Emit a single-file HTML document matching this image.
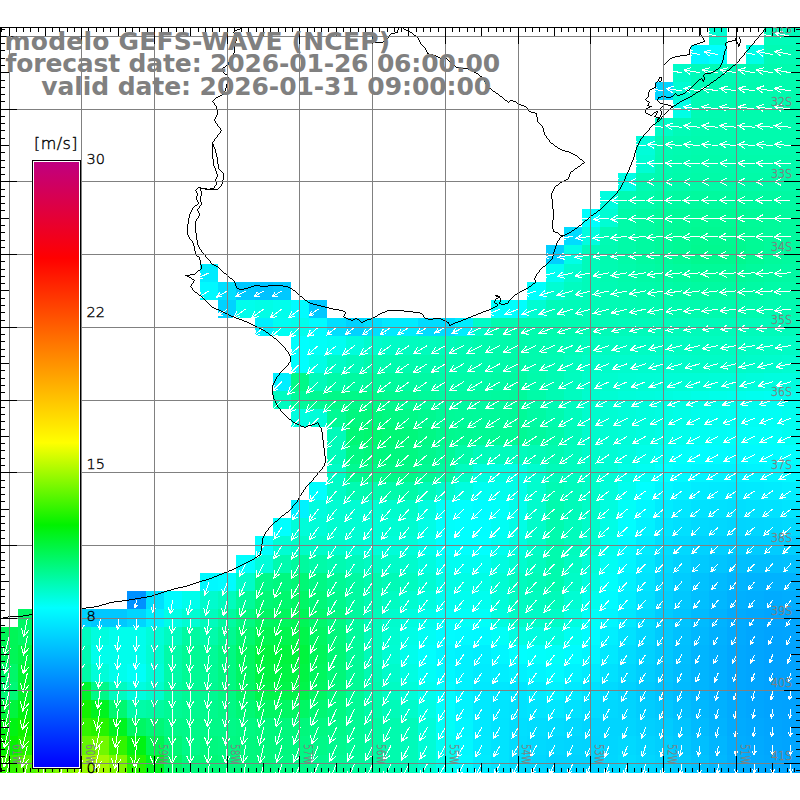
<!DOCTYPE html>
<html><head><meta charset="utf-8"><title>GEFS-WAVE wind</title>
<style>html,body{margin:0;padding:0;background:#fff;}body{width:800px;height:800px;overflow:hidden;position:relative;}</style>
</head><body>
<svg width="800" height="800" viewBox="0 0 800 800" style="position:absolute;left:0;top:0">
<rect width="800" height="800" fill="#fff"/>
<defs><clipPath id="pc"><rect x="0" y="27" width="800" height="745"/></clipPath></defs>
<g shape-rendering="crispEdges">
<rect x="709" y="27" width="18" height="18" fill="rgb(0,253,211)"/>
<rect x="764" y="27" width="18" height="18" fill="rgb(0,251,186)"/>
<rect x="782" y="27" width="18" height="18" fill="rgb(0,251,186)"/>
<rect x="691" y="45" width="18" height="19" fill="rgb(0,246,255)"/>
<rect x="709" y="45" width="18" height="19" fill="rgb(0,255,254)"/>
<rect x="746" y="45" width="18" height="19" fill="rgb(0,254,230)"/>
<rect x="764" y="45" width="18" height="19" fill="rgb(0,251,180)"/>
<rect x="782" y="45" width="18" height="19" fill="rgb(0,251,180)"/>
<rect x="673" y="64" width="18" height="18" fill="rgb(0,252,199)"/>
<rect x="691" y="64" width="18" height="18" fill="rgb(0,251,186)"/>
<rect x="709" y="64" width="18" height="18" fill="rgb(0,251,183)"/>
<rect x="727" y="64" width="19" height="18" fill="rgb(0,251,180)"/>
<rect x="746" y="64" width="18" height="18" fill="rgb(0,251,177)"/>
<rect x="764" y="64" width="18" height="18" fill="rgb(0,251,174)"/>
<rect x="782" y="64" width="18" height="18" fill="rgb(0,251,174)"/>
<rect x="655" y="82" width="18" height="18" fill="rgb(0,213,255)"/>
<rect x="673" y="82" width="18" height="18" fill="rgb(0,253,211)"/>
<rect x="691" y="82" width="18" height="18" fill="rgb(0,251,183)"/>
<rect x="709" y="82" width="18" height="18" fill="rgb(0,251,180)"/>
<rect x="727" y="82" width="19" height="18" fill="rgb(0,251,177)"/>
<rect x="746" y="82" width="18" height="18" fill="rgb(0,251,175)"/>
<rect x="764" y="82" width="18" height="18" fill="rgb(0,251,174)"/>
<rect x="782" y="82" width="18" height="18" fill="rgb(0,251,174)"/>
<rect x="673" y="100" width="18" height="18" fill="rgb(0,254,230)"/>
<rect x="691" y="100" width="18" height="18" fill="rgb(0,251,180)"/>
<rect x="709" y="100" width="18" height="18" fill="rgb(0,251,177)"/>
<rect x="727" y="100" width="19" height="18" fill="rgb(0,251,174)"/>
<rect x="746" y="100" width="18" height="18" fill="rgb(0,251,174)"/>
<rect x="764" y="100" width="18" height="18" fill="rgb(0,251,174)"/>
<rect x="782" y="100" width="18" height="18" fill="rgb(0,251,174)"/>
<rect x="655" y="118" width="18" height="18" fill="rgb(0,252,199)"/>
<rect x="673" y="118" width="18" height="18" fill="rgb(0,251,183)"/>
<rect x="691" y="118" width="18" height="18" fill="rgb(0,251,177)"/>
<rect x="709" y="118" width="18" height="18" fill="rgb(0,251,175)"/>
<rect x="727" y="118" width="19" height="18" fill="rgb(0,251,174)"/>
<rect x="746" y="118" width="18" height="18" fill="rgb(0,251,174)"/>
<rect x="764" y="118" width="18" height="18" fill="rgb(0,251,174)"/>
<rect x="782" y="118" width="18" height="18" fill="rgb(0,251,174)"/>
<rect x="636" y="136" width="19" height="19" fill="rgb(0,253,217)"/>
<rect x="655" y="136" width="18" height="19" fill="rgb(0,251,180)"/>
<rect x="673" y="136" width="18" height="19" fill="rgb(0,251,177)"/>
<rect x="691" y="136" width="18" height="19" fill="rgb(0,251,174)"/>
<rect x="709" y="136" width="18" height="19" fill="rgb(0,251,174)"/>
<rect x="727" y="136" width="19" height="19" fill="rgb(0,251,174)"/>
<rect x="746" y="136" width="18" height="19" fill="rgb(0,251,174)"/>
<rect x="764" y="136" width="18" height="19" fill="rgb(0,251,174)"/>
<rect x="782" y="136" width="18" height="19" fill="rgb(0,251,174)"/>
<rect x="636" y="155" width="19" height="18" fill="rgb(0,253,211)"/>
<rect x="655" y="155" width="18" height="18" fill="rgb(0,251,177)"/>
<rect x="673" y="155" width="18" height="18" fill="rgb(0,251,174)"/>
<rect x="691" y="155" width="18" height="18" fill="rgb(0,251,171)"/>
<rect x="709" y="155" width="18" height="18" fill="rgb(0,251,171)"/>
<rect x="727" y="155" width="19" height="18" fill="rgb(0,251,171)"/>
<rect x="746" y="155" width="18" height="18" fill="rgb(0,251,171)"/>
<rect x="764" y="155" width="18" height="18" fill="rgb(0,251,171)"/>
<rect x="782" y="155" width="18" height="18" fill="rgb(0,251,171)"/>
<rect x="618" y="173" width="18" height="18" fill="rgb(0,254,230)"/>
<rect x="636" y="173" width="19" height="18" fill="rgb(0,251,180)"/>
<rect x="655" y="173" width="18" height="18" fill="rgb(0,251,174)"/>
<rect x="673" y="173" width="18" height="18" fill="rgb(0,251,171)"/>
<rect x="691" y="173" width="18" height="18" fill="rgb(0,251,168)"/>
<rect x="709" y="173" width="18" height="18" fill="rgb(0,251,168)"/>
<rect x="727" y="173" width="19" height="18" fill="rgb(0,251,168)"/>
<rect x="746" y="173" width="18" height="18" fill="rgb(0,251,168)"/>
<rect x="764" y="173" width="18" height="18" fill="rgb(0,251,168)"/>
<rect x="782" y="173" width="18" height="18" fill="rgb(0,251,168)"/>
<rect x="600" y="191" width="18" height="18" fill="rgb(0,253,223)"/>
<rect x="618" y="191" width="18" height="18" fill="rgb(0,251,177)"/>
<rect x="636" y="191" width="19" height="18" fill="rgb(0,251,171)"/>
<rect x="655" y="191" width="18" height="18" fill="rgb(0,250,164)"/>
<rect x="673" y="191" width="18" height="18" fill="rgb(0,250,161)"/>
<rect x="691" y="191" width="18" height="18" fill="rgb(0,250,158)"/>
<rect x="709" y="191" width="18" height="18" fill="rgb(0,250,158)"/>
<rect x="727" y="191" width="19" height="18" fill="rgb(0,250,158)"/>
<rect x="746" y="191" width="18" height="18" fill="rgb(0,250,160)"/>
<rect x="764" y="191" width="18" height="18" fill="rgb(0,250,161)"/>
<rect x="782" y="191" width="18" height="18" fill="rgb(0,250,163)"/>
<rect x="582" y="209" width="18" height="18" fill="rgb(0,255,254)"/>
<rect x="600" y="209" width="18" height="18" fill="rgb(0,253,211)"/>
<rect x="618" y="209" width="18" height="18" fill="rgb(0,251,168)"/>
<rect x="636" y="209" width="19" height="18" fill="rgb(0,250,161)"/>
<rect x="655" y="209" width="18" height="18" fill="rgb(0,250,155)"/>
<rect x="673" y="209" width="18" height="18" fill="rgb(0,250,152)"/>
<rect x="691" y="209" width="18" height="18" fill="rgb(0,250,149)"/>
<rect x="709" y="209" width="18" height="18" fill="rgb(0,250,149)"/>
<rect x="727" y="209" width="19" height="18" fill="rgb(0,250,149)"/>
<rect x="746" y="209" width="18" height="18" fill="rgb(0,250,152)"/>
<rect x="764" y="209" width="18" height="18" fill="rgb(0,250,155)"/>
<rect x="782" y="209" width="18" height="18" fill="rgb(0,250,158)"/>
<rect x="564" y="227" width="18" height="18" fill="rgb(0,220,255)"/>
<rect x="582" y="227" width="18" height="18" fill="rgb(0,253,223)"/>
<rect x="600" y="227" width="18" height="18" fill="rgb(0,251,180)"/>
<rect x="618" y="227" width="18" height="18" fill="rgb(0,251,168)"/>
<rect x="636" y="227" width="19" height="18" fill="rgb(0,250,161)"/>
<rect x="655" y="227" width="18" height="18" fill="rgb(0,250,155)"/>
<rect x="673" y="227" width="18" height="18" fill="rgb(0,250,150)"/>
<rect x="691" y="227" width="18" height="18" fill="rgb(0,249,146)"/>
<rect x="709" y="227" width="18" height="18" fill="rgb(0,249,146)"/>
<rect x="727" y="227" width="19" height="18" fill="rgb(0,249,146)"/>
<rect x="746" y="227" width="18" height="18" fill="rgb(0,250,150)"/>
<rect x="764" y="227" width="18" height="18" fill="rgb(0,250,155)"/>
<rect x="782" y="227" width="18" height="18" fill="rgb(0,250,158)"/>
<rect x="546" y="245" width="18" height="19" fill="rgb(0,207,255)"/>
<rect x="564" y="245" width="18" height="19" fill="rgb(0,254,230)"/>
<rect x="582" y="245" width="18" height="19" fill="rgb(0,251,186)"/>
<rect x="600" y="245" width="18" height="19" fill="rgb(0,251,177)"/>
<rect x="618" y="245" width="18" height="19" fill="rgb(0,251,168)"/>
<rect x="636" y="245" width="19" height="19" fill="rgb(0,250,161)"/>
<rect x="655" y="245" width="18" height="19" fill="rgb(0,250,155)"/>
<rect x="673" y="245" width="18" height="19" fill="rgb(0,250,149)"/>
<rect x="691" y="245" width="18" height="19" fill="rgb(0,249,143)"/>
<rect x="709" y="245" width="18" height="19" fill="rgb(0,249,143)"/>
<rect x="727" y="245" width="19" height="19" fill="rgb(0,249,143)"/>
<rect x="746" y="245" width="18" height="19" fill="rgb(0,250,149)"/>
<rect x="764" y="245" width="18" height="19" fill="rgb(0,250,155)"/>
<rect x="782" y="245" width="18" height="19" fill="rgb(0,250,158)"/>
<rect x="200" y="264" width="18" height="18" fill="rgb(0,236,255)"/>
<rect x="546" y="264" width="18" height="18" fill="rgb(0,254,242)"/>
<rect x="564" y="264" width="18" height="18" fill="rgb(0,252,205)"/>
<rect x="582" y="264" width="18" height="18" fill="rgb(0,251,186)"/>
<rect x="600" y="264" width="18" height="18" fill="rgb(0,251,178)"/>
<rect x="618" y="264" width="18" height="18" fill="rgb(0,251,171)"/>
<rect x="636" y="264" width="19" height="18" fill="rgb(0,250,166)"/>
<rect x="655" y="264" width="18" height="18" fill="rgb(0,250,161)"/>
<rect x="673" y="264" width="18" height="18" fill="rgb(0,250,157)"/>
<rect x="691" y="264" width="18" height="18" fill="rgb(0,250,152)"/>
<rect x="709" y="264" width="18" height="18" fill="rgb(0,250,152)"/>
<rect x="727" y="264" width="19" height="18" fill="rgb(0,250,152)"/>
<rect x="746" y="264" width="18" height="18" fill="rgb(0,250,157)"/>
<rect x="764" y="264" width="18" height="18" fill="rgb(0,250,161)"/>
<rect x="782" y="264" width="18" height="18" fill="rgb(0,250,163)"/>
<rect x="200" y="282" width="18" height="18" fill="rgb(0,249,255)"/>
<rect x="218" y="282" width="18" height="18" fill="rgb(0,223,255)"/>
<rect x="236" y="282" width="19" height="18" fill="rgb(0,200,255)"/>
<rect x="255" y="282" width="18" height="18" fill="rgb(0,194,255)"/>
<rect x="273" y="282" width="18" height="18" fill="rgb(0,200,255)"/>
<rect x="527" y="282" width="19" height="18" fill="rgb(0,255,254)"/>
<rect x="546" y="282" width="18" height="18" fill="rgb(0,253,211)"/>
<rect x="564" y="282" width="18" height="18" fill="rgb(0,252,192)"/>
<rect x="582" y="282" width="18" height="18" fill="rgb(0,251,186)"/>
<rect x="600" y="282" width="18" height="18" fill="rgb(0,251,180)"/>
<rect x="618" y="282" width="18" height="18" fill="rgb(0,251,174)"/>
<rect x="636" y="282" width="19" height="18" fill="rgb(0,251,171)"/>
<rect x="655" y="282" width="18" height="18" fill="rgb(0,251,168)"/>
<rect x="673" y="282" width="18" height="18" fill="rgb(0,250,164)"/>
<rect x="691" y="282" width="18" height="18" fill="rgb(0,250,161)"/>
<rect x="709" y="282" width="18" height="18" fill="rgb(0,250,161)"/>
<rect x="727" y="282" width="19" height="18" fill="rgb(0,250,161)"/>
<rect x="746" y="282" width="18" height="18" fill="rgb(0,250,164)"/>
<rect x="764" y="282" width="18" height="18" fill="rgb(0,251,168)"/>
<rect x="782" y="282" width="18" height="18" fill="rgb(0,251,168)"/>
<rect x="218" y="300" width="18" height="18" fill="rgb(0,210,255)"/>
<rect x="236" y="300" width="19" height="18" fill="rgb(0,254,236)"/>
<rect x="255" y="300" width="18" height="18" fill="rgb(0,254,230)"/>
<rect x="273" y="300" width="18" height="18" fill="rgb(0,254,236)"/>
<rect x="291" y="300" width="18" height="18" fill="rgb(0,252,255)"/>
<rect x="309" y="300" width="18" height="18" fill="rgb(0,200,255)"/>
<rect x="491" y="300" width="18" height="18" fill="rgb(0,255,254)"/>
<rect x="509" y="300" width="18" height="18" fill="rgb(0,255,254)"/>
<rect x="527" y="300" width="19" height="18" fill="rgb(0,253,211)"/>
<rect x="546" y="300" width="18" height="18" fill="rgb(0,251,186)"/>
<rect x="564" y="300" width="18" height="18" fill="rgb(0,251,185)"/>
<rect x="582" y="300" width="18" height="18" fill="rgb(0,251,183)"/>
<rect x="600" y="300" width="18" height="18" fill="rgb(0,251,181)"/>
<rect x="618" y="300" width="18" height="18" fill="rgb(0,251,180)"/>
<rect x="636" y="300" width="19" height="18" fill="rgb(0,251,178)"/>
<rect x="655" y="300" width="18" height="18" fill="rgb(0,251,177)"/>
<rect x="673" y="300" width="18" height="18" fill="rgb(0,251,175)"/>
<rect x="691" y="300" width="18" height="18" fill="rgb(0,251,174)"/>
<rect x="709" y="300" width="18" height="18" fill="rgb(0,251,174)"/>
<rect x="727" y="300" width="19" height="18" fill="rgb(0,251,174)"/>
<rect x="746" y="300" width="18" height="18" fill="rgb(0,251,175)"/>
<rect x="764" y="300" width="18" height="18" fill="rgb(0,251,177)"/>
<rect x="782" y="300" width="18" height="18" fill="rgb(0,251,177)"/>
<rect x="255" y="318" width="18" height="18" fill="rgb(0,239,255)"/>
<rect x="273" y="318" width="18" height="18" fill="rgb(0,254,242)"/>
<rect x="291" y="318" width="18" height="18" fill="rgb(0,254,236)"/>
<rect x="309" y="318" width="18" height="18" fill="rgb(0,252,255)"/>
<rect x="327" y="318" width="19" height="18" fill="rgb(0,223,255)"/>
<rect x="346" y="318" width="18" height="18" fill="rgb(0,210,255)"/>
<rect x="364" y="318" width="18" height="18" fill="rgb(0,223,255)"/>
<rect x="382" y="318" width="18" height="18" fill="rgb(0,233,255)"/>
<rect x="400" y="318" width="18" height="18" fill="rgb(0,236,255)"/>
<rect x="418" y="318" width="18" height="18" fill="rgb(0,220,255)"/>
<rect x="436" y="318" width="19" height="18" fill="rgb(0,220,255)"/>
<rect x="455" y="318" width="18" height="18" fill="rgb(0,236,255)"/>
<rect x="473" y="318" width="18" height="18" fill="rgb(0,252,199)"/>
<rect x="491" y="318" width="18" height="18" fill="rgb(0,251,174)"/>
<rect x="509" y="318" width="18" height="18" fill="rgb(0,251,174)"/>
<rect x="527" y="318" width="19" height="18" fill="rgb(0,251,174)"/>
<rect x="546" y="318" width="18" height="18" fill="rgb(0,251,174)"/>
<rect x="564" y="318" width="18" height="18" fill="rgb(0,251,177)"/>
<rect x="582" y="318" width="18" height="18" fill="rgb(0,251,180)"/>
<rect x="600" y="318" width="18" height="18" fill="rgb(0,251,183)"/>
<rect x="618" y="318" width="18" height="18" fill="rgb(0,251,186)"/>
<rect x="636" y="318" width="19" height="18" fill="rgb(0,251,186)"/>
<rect x="655" y="318" width="18" height="18" fill="rgb(0,251,186)"/>
<rect x="673" y="318" width="18" height="18" fill="rgb(0,251,186)"/>
<rect x="691" y="318" width="18" height="18" fill="rgb(0,251,186)"/>
<rect x="709" y="318" width="18" height="18" fill="rgb(0,251,186)"/>
<rect x="727" y="318" width="19" height="18" fill="rgb(0,251,186)"/>
<rect x="746" y="318" width="18" height="18" fill="rgb(0,251,186)"/>
<rect x="764" y="318" width="18" height="18" fill="rgb(0,251,186)"/>
<rect x="782" y="318" width="18" height="18" fill="rgb(0,251,186)"/>
<rect x="291" y="336" width="18" height="19" fill="rgb(0,255,254)"/>
<rect x="309" y="336" width="18" height="19" fill="rgb(0,255,248)"/>
<rect x="327" y="336" width="19" height="19" fill="rgb(0,254,242)"/>
<rect x="346" y="336" width="18" height="19" fill="rgb(0,253,220)"/>
<rect x="364" y="336" width="18" height="19" fill="rgb(0,252,205)"/>
<rect x="382" y="336" width="18" height="19" fill="rgb(0,252,199)"/>
<rect x="400" y="336" width="18" height="19" fill="rgb(0,252,192)"/>
<rect x="418" y="336" width="18" height="19" fill="rgb(0,252,189)"/>
<rect x="436" y="336" width="19" height="19" fill="rgb(0,251,186)"/>
<rect x="455" y="336" width="18" height="19" fill="rgb(0,251,180)"/>
<rect x="473" y="336" width="18" height="19" fill="rgb(0,251,174)"/>
<rect x="491" y="336" width="18" height="19" fill="rgb(0,251,172)"/>
<rect x="509" y="336" width="18" height="19" fill="rgb(0,251,171)"/>
<rect x="527" y="336" width="19" height="19" fill="rgb(0,251,174)"/>
<rect x="546" y="336" width="18" height="19" fill="rgb(0,251,177)"/>
<rect x="564" y="336" width="18" height="19" fill="rgb(0,251,183)"/>
<rect x="582" y="336" width="18" height="19" fill="rgb(0,252,189)"/>
<rect x="600" y="336" width="18" height="19" fill="rgb(0,252,192)"/>
<rect x="618" y="336" width="18" height="19" fill="rgb(0,252,195)"/>
<rect x="636" y="336" width="19" height="19" fill="rgb(0,252,195)"/>
<rect x="655" y="336" width="18" height="19" fill="rgb(0,252,195)"/>
<rect x="673" y="336" width="18" height="19" fill="rgb(0,252,194)"/>
<rect x="691" y="336" width="18" height="19" fill="rgb(0,252,192)"/>
<rect x="709" y="336" width="18" height="19" fill="rgb(0,252,192)"/>
<rect x="727" y="336" width="19" height="19" fill="rgb(0,252,192)"/>
<rect x="746" y="336" width="18" height="19" fill="rgb(0,252,194)"/>
<rect x="764" y="336" width="18" height="19" fill="rgb(0,252,195)"/>
<rect x="782" y="336" width="18" height="19" fill="rgb(0,252,197)"/>
<rect x="291" y="355" width="18" height="18" fill="rgb(0,255,254)"/>
<rect x="309" y="355" width="18" height="18" fill="rgb(0,254,230)"/>
<rect x="327" y="355" width="19" height="18" fill="rgb(0,252,199)"/>
<rect x="346" y="355" width="18" height="18" fill="rgb(0,251,186)"/>
<rect x="364" y="355" width="18" height="18" fill="rgb(0,251,174)"/>
<rect x="382" y="355" width="18" height="18" fill="rgb(0,251,174)"/>
<rect x="400" y="355" width="18" height="18" fill="rgb(0,251,174)"/>
<rect x="418" y="355" width="18" height="18" fill="rgb(0,251,174)"/>
<rect x="436" y="355" width="19" height="18" fill="rgb(0,251,174)"/>
<rect x="455" y="355" width="18" height="18" fill="rgb(0,251,174)"/>
<rect x="473" y="355" width="18" height="18" fill="rgb(0,251,174)"/>
<rect x="491" y="355" width="18" height="18" fill="rgb(0,251,171)"/>
<rect x="509" y="355" width="18" height="18" fill="rgb(0,251,168)"/>
<rect x="527" y="355" width="19" height="18" fill="rgb(0,251,174)"/>
<rect x="546" y="355" width="18" height="18" fill="rgb(0,251,180)"/>
<rect x="564" y="355" width="18" height="18" fill="rgb(0,252,189)"/>
<rect x="582" y="355" width="18" height="18" fill="rgb(0,252,199)"/>
<rect x="600" y="355" width="18" height="18" fill="rgb(0,252,202)"/>
<rect x="618" y="355" width="18" height="18" fill="rgb(0,252,205)"/>
<rect x="636" y="355" width="19" height="18" fill="rgb(0,252,205)"/>
<rect x="655" y="355" width="18" height="18" fill="rgb(0,252,205)"/>
<rect x="673" y="355" width="18" height="18" fill="rgb(0,252,202)"/>
<rect x="691" y="355" width="18" height="18" fill="rgb(0,252,199)"/>
<rect x="709" y="355" width="18" height="18" fill="rgb(0,252,199)"/>
<rect x="727" y="355" width="19" height="18" fill="rgb(0,252,199)"/>
<rect x="746" y="355" width="18" height="18" fill="rgb(0,252,202)"/>
<rect x="764" y="355" width="18" height="18" fill="rgb(0,252,205)"/>
<rect x="782" y="355" width="18" height="18" fill="rgb(0,253,208)"/>
<rect x="273" y="373" width="18" height="18" fill="rgb(0,239,255)"/>
<rect x="291" y="373" width="18" height="18" fill="rgb(0,249,136)"/>
<rect x="309" y="373" width="18" height="18" fill="rgb(0,251,186)"/>
<rect x="327" y="373" width="19" height="18" fill="rgb(0,251,168)"/>
<rect x="346" y="373" width="18" height="18" fill="rgb(0,250,161)"/>
<rect x="364" y="373" width="18" height="18" fill="rgb(0,250,155)"/>
<rect x="382" y="373" width="18" height="18" fill="rgb(0,250,158)"/>
<rect x="400" y="373" width="18" height="18" fill="rgb(0,250,161)"/>
<rect x="418" y="373" width="18" height="18" fill="rgb(0,250,164)"/>
<rect x="436" y="373" width="19" height="18" fill="rgb(0,251,168)"/>
<rect x="455" y="373" width="18" height="18" fill="rgb(0,251,168)"/>
<rect x="473" y="373" width="18" height="18" fill="rgb(0,251,168)"/>
<rect x="491" y="373" width="18" height="18" fill="rgb(0,250,164)"/>
<rect x="509" y="373" width="18" height="18" fill="rgb(0,250,161)"/>
<rect x="527" y="373" width="19" height="18" fill="rgb(0,251,171)"/>
<rect x="546" y="373" width="18" height="18" fill="rgb(0,251,180)"/>
<rect x="564" y="373" width="18" height="18" fill="rgb(0,252,191)"/>
<rect x="582" y="373" width="18" height="18" fill="rgb(0,252,202)"/>
<rect x="600" y="373" width="18" height="18" fill="rgb(0,253,206)"/>
<rect x="618" y="373" width="18" height="18" fill="rgb(0,253,211)"/>
<rect x="636" y="373" width="19" height="18" fill="rgb(0,253,213)"/>
<rect x="655" y="373" width="18" height="18" fill="rgb(0,253,214)"/>
<rect x="673" y="373" width="18" height="18" fill="rgb(0,253,214)"/>
<rect x="691" y="373" width="18" height="18" fill="rgb(0,253,214)"/>
<rect x="709" y="373" width="18" height="18" fill="rgb(0,253,216)"/>
<rect x="727" y="373" width="19" height="18" fill="rgb(0,253,217)"/>
<rect x="746" y="373" width="18" height="18" fill="rgb(0,253,220)"/>
<rect x="764" y="373" width="18" height="18" fill="rgb(0,253,223)"/>
<rect x="782" y="373" width="18" height="18" fill="rgb(0,253,223)"/>
<rect x="273" y="391" width="18" height="18" fill="rgb(0,252,192)"/>
<rect x="291" y="391" width="18" height="18" fill="rgb(0,250,155)"/>
<rect x="309" y="391" width="18" height="18" fill="rgb(0,249,146)"/>
<rect x="327" y="391" width="19" height="18" fill="rgb(0,249,136)"/>
<rect x="346" y="391" width="18" height="18" fill="rgb(0,249,136)"/>
<rect x="364" y="391" width="18" height="18" fill="rgb(0,249,136)"/>
<rect x="382" y="391" width="18" height="18" fill="rgb(0,249,143)"/>
<rect x="400" y="391" width="18" height="18" fill="rgb(0,250,149)"/>
<rect x="418" y="391" width="18" height="18" fill="rgb(0,250,155)"/>
<rect x="436" y="391" width="19" height="18" fill="rgb(0,250,161)"/>
<rect x="455" y="391" width="18" height="18" fill="rgb(0,250,161)"/>
<rect x="473" y="391" width="18" height="18" fill="rgb(0,250,161)"/>
<rect x="491" y="391" width="18" height="18" fill="rgb(0,250,158)"/>
<rect x="509" y="391" width="18" height="18" fill="rgb(0,250,155)"/>
<rect x="527" y="391" width="19" height="18" fill="rgb(0,251,168)"/>
<rect x="546" y="391" width="18" height="18" fill="rgb(0,251,180)"/>
<rect x="564" y="391" width="18" height="18" fill="rgb(0,252,192)"/>
<rect x="582" y="391" width="18" height="18" fill="rgb(0,252,205)"/>
<rect x="600" y="391" width="18" height="18" fill="rgb(0,253,211)"/>
<rect x="618" y="391" width="18" height="18" fill="rgb(0,253,217)"/>
<rect x="636" y="391" width="19" height="18" fill="rgb(0,253,220)"/>
<rect x="655" y="391" width="18" height="18" fill="rgb(0,253,223)"/>
<rect x="673" y="391" width="18" height="18" fill="rgb(0,254,226)"/>
<rect x="691" y="391" width="18" height="18" fill="rgb(0,254,230)"/>
<rect x="709" y="391" width="18" height="18" fill="rgb(0,254,233)"/>
<rect x="727" y="391" width="19" height="18" fill="rgb(0,254,236)"/>
<rect x="746" y="391" width="18" height="18" fill="rgb(0,254,239)"/>
<rect x="764" y="391" width="18" height="18" fill="rgb(0,254,242)"/>
<rect x="782" y="391" width="18" height="18" fill="rgb(0,254,239)"/>
<rect x="291" y="409" width="18" height="18" fill="rgb(0,253,223)"/>
<rect x="309" y="409" width="18" height="18" fill="rgb(0,253,217)"/>
<rect x="327" y="409" width="19" height="18" fill="rgb(0,250,149)"/>
<rect x="346" y="409" width="18" height="18" fill="rgb(0,248,127)"/>
<rect x="364" y="409" width="18" height="18" fill="rgb(0,248,124)"/>
<rect x="382" y="409" width="18" height="18" fill="rgb(0,249,130)"/>
<rect x="400" y="409" width="18" height="18" fill="rgb(0,249,136)"/>
<rect x="418" y="409" width="18" height="18" fill="rgb(0,249,144)"/>
<rect x="436" y="409" width="19" height="18" fill="rgb(0,250,152)"/>
<rect x="455" y="409" width="18" height="18" fill="rgb(0,250,154)"/>
<rect x="473" y="409" width="18" height="18" fill="rgb(0,250,155)"/>
<rect x="491" y="409" width="18" height="18" fill="rgb(0,250,154)"/>
<rect x="509" y="409" width="18" height="18" fill="rgb(0,250,152)"/>
<rect x="527" y="409" width="19" height="18" fill="rgb(0,250,163)"/>
<rect x="546" y="409" width="18" height="18" fill="rgb(0,251,174)"/>
<rect x="564" y="409" width="18" height="18" fill="rgb(0,252,189)"/>
<rect x="582" y="409" width="18" height="18" fill="rgb(0,252,205)"/>
<rect x="600" y="409" width="18" height="18" fill="rgb(0,253,211)"/>
<rect x="618" y="409" width="18" height="18" fill="rgb(0,253,217)"/>
<rect x="636" y="409" width="19" height="18" fill="rgb(0,253,222)"/>
<rect x="655" y="409" width="18" height="18" fill="rgb(0,254,226)"/>
<rect x="673" y="409" width="18" height="18" fill="rgb(0,254,231)"/>
<rect x="691" y="409" width="18" height="18" fill="rgb(0,254,236)"/>
<rect x="709" y="409" width="18" height="18" fill="rgb(0,254,239)"/>
<rect x="727" y="409" width="19" height="18" fill="rgb(0,254,242)"/>
<rect x="746" y="409" width="18" height="18" fill="rgb(0,254,244)"/>
<rect x="764" y="409" width="18" height="18" fill="rgb(0,254,245)"/>
<rect x="782" y="409" width="18" height="18" fill="rgb(0,254,240)"/>
<rect x="327" y="427" width="19" height="18" fill="rgb(0,251,186)"/>
<rect x="346" y="427" width="18" height="18" fill="rgb(0,248,118)"/>
<rect x="364" y="427" width="18" height="18" fill="rgb(0,248,112)"/>
<rect x="382" y="427" width="18" height="18" fill="rgb(0,248,118)"/>
<rect x="400" y="427" width="18" height="18" fill="rgb(0,248,124)"/>
<rect x="418" y="427" width="18" height="18" fill="rgb(0,249,133)"/>
<rect x="436" y="427" width="19" height="18" fill="rgb(0,249,143)"/>
<rect x="455" y="427" width="18" height="18" fill="rgb(0,249,146)"/>
<rect x="473" y="427" width="18" height="18" fill="rgb(0,250,149)"/>
<rect x="491" y="427" width="18" height="18" fill="rgb(0,250,149)"/>
<rect x="509" y="427" width="18" height="18" fill="rgb(0,250,149)"/>
<rect x="527" y="427" width="19" height="18" fill="rgb(0,250,158)"/>
<rect x="546" y="427" width="18" height="18" fill="rgb(0,251,168)"/>
<rect x="564" y="427" width="18" height="18" fill="rgb(0,251,186)"/>
<rect x="582" y="427" width="18" height="18" fill="rgb(0,252,205)"/>
<rect x="600" y="427" width="18" height="18" fill="rgb(0,253,211)"/>
<rect x="618" y="427" width="18" height="18" fill="rgb(0,253,217)"/>
<rect x="636" y="427" width="19" height="18" fill="rgb(0,253,223)"/>
<rect x="655" y="427" width="18" height="18" fill="rgb(0,254,230)"/>
<rect x="673" y="427" width="18" height="18" fill="rgb(0,254,236)"/>
<rect x="691" y="427" width="18" height="18" fill="rgb(0,254,242)"/>
<rect x="709" y="427" width="18" height="18" fill="rgb(0,254,245)"/>
<rect x="727" y="427" width="19" height="18" fill="rgb(0,255,248)"/>
<rect x="746" y="427" width="18" height="18" fill="rgb(0,255,248)"/>
<rect x="764" y="427" width="18" height="18" fill="rgb(0,255,248)"/>
<rect x="782" y="427" width="18" height="18" fill="rgb(0,254,242)"/>
<rect x="327" y="445" width="19" height="19" fill="rgb(0,251,186)"/>
<rect x="346" y="445" width="18" height="19" fill="rgb(0,249,132)"/>
<rect x="364" y="445" width="18" height="19" fill="rgb(0,248,124)"/>
<rect x="382" y="445" width="18" height="19" fill="rgb(0,248,127)"/>
<rect x="400" y="445" width="18" height="19" fill="rgb(0,249,130)"/>
<rect x="418" y="445" width="18" height="19" fill="rgb(0,249,141)"/>
<rect x="436" y="445" width="19" height="19" fill="rgb(0,250,152)"/>
<rect x="455" y="445" width="18" height="19" fill="rgb(0,251,169)"/>
<rect x="473" y="445" width="18" height="19" fill="rgb(0,251,186)"/>
<rect x="491" y="445" width="18" height="19" fill="rgb(0,252,188)"/>
<rect x="509" y="445" width="18" height="19" fill="rgb(0,252,189)"/>
<rect x="527" y="445" width="19" height="19" fill="rgb(0,251,183)"/>
<rect x="546" y="445" width="18" height="19" fill="rgb(0,251,177)"/>
<rect x="564" y="445" width="18" height="19" fill="rgb(0,252,189)"/>
<rect x="582" y="445" width="18" height="19" fill="rgb(0,252,202)"/>
<rect x="600" y="445" width="18" height="19" fill="rgb(0,253,213)"/>
<rect x="618" y="445" width="18" height="19" fill="rgb(0,253,223)"/>
<rect x="636" y="445" width="19" height="19" fill="rgb(0,254,233)"/>
<rect x="655" y="445" width="18" height="19" fill="rgb(0,254,242)"/>
<rect x="673" y="445" width="18" height="19" fill="rgb(0,255,250)"/>
<rect x="691" y="445" width="18" height="19" fill="rgb(0,254,255)"/>
<rect x="709" y="445" width="18" height="19" fill="rgb(0,252,255)"/>
<rect x="727" y="445" width="19" height="19" fill="rgb(0,250,255)"/>
<rect x="746" y="445" width="18" height="19" fill="rgb(0,251,255)"/>
<rect x="764" y="445" width="18" height="19" fill="rgb(0,252,255)"/>
<rect x="782" y="445" width="18" height="19" fill="rgb(0,255,254)"/>
<rect x="327" y="464" width="19" height="18" fill="rgb(0,252,199)"/>
<rect x="346" y="464" width="18" height="18" fill="rgb(0,249,146)"/>
<rect x="364" y="464" width="18" height="18" fill="rgb(0,249,136)"/>
<rect x="382" y="464" width="18" height="18" fill="rgb(0,249,136)"/>
<rect x="400" y="464" width="18" height="18" fill="rgb(0,249,136)"/>
<rect x="418" y="464" width="18" height="18" fill="rgb(0,250,149)"/>
<rect x="436" y="464" width="19" height="18" fill="rgb(0,250,161)"/>
<rect x="455" y="464" width="18" height="18" fill="rgb(0,252,192)"/>
<rect x="473" y="464" width="18" height="18" fill="rgb(0,253,223)"/>
<rect x="491" y="464" width="18" height="18" fill="rgb(0,254,226)"/>
<rect x="509" y="464" width="18" height="18" fill="rgb(0,254,230)"/>
<rect x="527" y="464" width="19" height="18" fill="rgb(0,253,208)"/>
<rect x="546" y="464" width="18" height="18" fill="rgb(0,251,186)"/>
<rect x="564" y="464" width="18" height="18" fill="rgb(0,252,192)"/>
<rect x="582" y="464" width="18" height="18" fill="rgb(0,252,199)"/>
<rect x="600" y="464" width="18" height="18" fill="rgb(0,253,214)"/>
<rect x="618" y="464" width="18" height="18" fill="rgb(0,254,230)"/>
<rect x="636" y="464" width="19" height="18" fill="rgb(0,254,242)"/>
<rect x="655" y="464" width="18" height="18" fill="rgb(0,255,254)"/>
<rect x="673" y="464" width="18" height="18" fill="rgb(0,250,255)"/>
<rect x="691" y="464" width="18" height="18" fill="rgb(0,246,255)"/>
<rect x="709" y="464" width="18" height="18" fill="rgb(0,244,255)"/>
<rect x="727" y="464" width="19" height="18" fill="rgb(0,242,255)"/>
<rect x="746" y="464" width="18" height="18" fill="rgb(0,244,255)"/>
<rect x="764" y="464" width="18" height="18" fill="rgb(0,246,255)"/>
<rect x="782" y="464" width="18" height="18" fill="rgb(0,249,255)"/>
<rect x="309" y="482" width="18" height="18" fill="rgb(0,255,254)"/>
<rect x="327" y="482" width="19" height="18" fill="rgb(0,252,199)"/>
<rect x="346" y="482" width="18" height="18" fill="rgb(0,251,178)"/>
<rect x="364" y="482" width="18" height="18" fill="rgb(0,251,174)"/>
<rect x="382" y="482" width="18" height="18" fill="rgb(0,251,171)"/>
<rect x="400" y="482" width="18" height="18" fill="rgb(0,251,168)"/>
<rect x="418" y="482" width="18" height="18" fill="rgb(0,251,186)"/>
<rect x="436" y="482" width="19" height="18" fill="rgb(0,252,205)"/>
<rect x="455" y="482" width="18" height="18" fill="rgb(0,253,223)"/>
<rect x="473" y="482" width="18" height="18" fill="rgb(0,254,242)"/>
<rect x="491" y="482" width="18" height="18" fill="rgb(0,254,237)"/>
<rect x="509" y="482" width="18" height="18" fill="rgb(0,254,233)"/>
<rect x="527" y="482" width="19" height="18" fill="rgb(0,253,206)"/>
<rect x="546" y="482" width="18" height="18" fill="rgb(0,251,180)"/>
<rect x="564" y="482" width="18" height="18" fill="rgb(0,252,189)"/>
<rect x="582" y="482" width="18" height="18" fill="rgb(0,252,199)"/>
<rect x="600" y="482" width="18" height="18" fill="rgb(0,253,219)"/>
<rect x="618" y="482" width="18" height="18" fill="rgb(0,254,239)"/>
<rect x="636" y="482" width="19" height="18" fill="rgb(0,255,255)"/>
<rect x="655" y="482" width="18" height="18" fill="rgb(0,246,255)"/>
<rect x="673" y="482" width="18" height="18" fill="rgb(0,241,255)"/>
<rect x="691" y="482" width="18" height="18" fill="rgb(0,236,255)"/>
<rect x="709" y="482" width="18" height="18" fill="rgb(0,234,255)"/>
<rect x="727" y="482" width="19" height="18" fill="rgb(0,233,255)"/>
<rect x="746" y="482" width="18" height="18" fill="rgb(0,234,255)"/>
<rect x="764" y="482" width="18" height="18" fill="rgb(0,236,255)"/>
<rect x="782" y="482" width="18" height="18" fill="rgb(0,239,255)"/>
<rect x="291" y="500" width="18" height="18" fill="rgb(0,242,255)"/>
<rect x="309" y="500" width="18" height="18" fill="rgb(0,253,223)"/>
<rect x="327" y="500" width="19" height="18" fill="rgb(0,253,211)"/>
<rect x="346" y="500" width="18" height="18" fill="rgb(0,253,211)"/>
<rect x="364" y="500" width="18" height="18" fill="rgb(0,253,211)"/>
<rect x="382" y="500" width="18" height="18" fill="rgb(0,252,205)"/>
<rect x="400" y="500" width="18" height="18" fill="rgb(0,252,199)"/>
<rect x="418" y="500" width="18" height="18" fill="rgb(0,253,223)"/>
<rect x="436" y="500" width="19" height="18" fill="rgb(0,255,248)"/>
<rect x="455" y="500" width="18" height="18" fill="rgb(0,255,254)"/>
<rect x="473" y="500" width="18" height="18" fill="rgb(0,252,255)"/>
<rect x="491" y="500" width="18" height="18" fill="rgb(0,255,248)"/>
<rect x="509" y="500" width="18" height="18" fill="rgb(0,254,236)"/>
<rect x="527" y="500" width="19" height="18" fill="rgb(0,252,205)"/>
<rect x="546" y="500" width="18" height="18" fill="rgb(0,251,174)"/>
<rect x="564" y="500" width="18" height="18" fill="rgb(0,251,186)"/>
<rect x="582" y="500" width="18" height="18" fill="rgb(0,252,199)"/>
<rect x="600" y="500" width="18" height="18" fill="rgb(0,253,223)"/>
<rect x="618" y="500" width="18" height="18" fill="rgb(0,255,248)"/>
<rect x="636" y="500" width="19" height="18" fill="rgb(0,247,255)"/>
<rect x="655" y="500" width="18" height="18" fill="rgb(0,236,255)"/>
<rect x="673" y="500" width="18" height="18" fill="rgb(0,231,255)"/>
<rect x="691" y="500" width="18" height="18" fill="rgb(0,226,255)"/>
<rect x="709" y="500" width="18" height="18" fill="rgb(0,225,255)"/>
<rect x="727" y="500" width="19" height="18" fill="rgb(0,223,255)"/>
<rect x="746" y="500" width="18" height="18" fill="rgb(0,225,255)"/>
<rect x="764" y="500" width="18" height="18" fill="rgb(0,226,255)"/>
<rect x="782" y="500" width="18" height="18" fill="rgb(0,229,255)"/>
<rect x="273" y="518" width="18" height="18" fill="rgb(0,255,254)"/>
<rect x="291" y="518" width="18" height="18" fill="rgb(0,253,217)"/>
<rect x="309" y="518" width="18" height="18" fill="rgb(0,253,216)"/>
<rect x="327" y="518" width="19" height="18" fill="rgb(0,253,208)"/>
<rect x="346" y="518" width="18" height="18" fill="rgb(0,253,211)"/>
<rect x="364" y="518" width="18" height="18" fill="rgb(0,253,214)"/>
<rect x="382" y="518" width="18" height="18" fill="rgb(0,253,211)"/>
<rect x="400" y="518" width="18" height="18" fill="rgb(0,253,208)"/>
<rect x="418" y="518" width="18" height="18" fill="rgb(0,254,230)"/>
<rect x="436" y="518" width="19" height="18" fill="rgb(0,255,251)"/>
<rect x="455" y="518" width="18" height="18" fill="rgb(0,255,254)"/>
<rect x="473" y="518" width="18" height="18" fill="rgb(0,254,255)"/>
<rect x="491" y="518" width="18" height="18" fill="rgb(0,254,244)"/>
<rect x="509" y="518" width="18" height="18" fill="rgb(0,254,230)"/>
<rect x="527" y="518" width="19" height="18" fill="rgb(0,252,202)"/>
<rect x="546" y="518" width="18" height="18" fill="rgb(0,251,174)"/>
<rect x="564" y="518" width="18" height="18" fill="rgb(0,252,188)"/>
<rect x="582" y="518" width="18" height="18" fill="rgb(0,252,202)"/>
<rect x="600" y="518" width="18" height="18" fill="rgb(0,254,230)"/>
<rect x="618" y="518" width="18" height="18" fill="rgb(0,254,255)"/>
<rect x="636" y="518" width="19" height="18" fill="rgb(0,242,255)"/>
<rect x="655" y="518" width="18" height="18" fill="rgb(0,229,255)"/>
<rect x="673" y="518" width="18" height="18" fill="rgb(0,224,255)"/>
<rect x="691" y="518" width="18" height="18" fill="rgb(0,218,255)"/>
<rect x="709" y="518" width="18" height="18" fill="rgb(0,216,255)"/>
<rect x="727" y="518" width="19" height="18" fill="rgb(0,213,255)"/>
<rect x="746" y="518" width="18" height="18" fill="rgb(0,214,255)"/>
<rect x="764" y="518" width="18" height="18" fill="rgb(0,215,255)"/>
<rect x="782" y="518" width="18" height="18" fill="rgb(0,218,255)"/>
<rect x="255" y="536" width="18" height="19" fill="rgb(0,255,254)"/>
<rect x="273" y="536" width="18" height="19" fill="rgb(0,253,211)"/>
<rect x="291" y="536" width="18" height="19" fill="rgb(0,252,199)"/>
<rect x="309" y="536" width="18" height="19" fill="rgb(0,252,202)"/>
<rect x="327" y="536" width="19" height="19" fill="rgb(0,252,205)"/>
<rect x="346" y="536" width="18" height="19" fill="rgb(0,253,211)"/>
<rect x="364" y="536" width="18" height="19" fill="rgb(0,253,217)"/>
<rect x="382" y="536" width="18" height="19" fill="rgb(0,253,217)"/>
<rect x="400" y="536" width="18" height="19" fill="rgb(0,253,217)"/>
<rect x="418" y="536" width="18" height="19" fill="rgb(0,254,236)"/>
<rect x="436" y="536" width="19" height="19" fill="rgb(0,255,254)"/>
<rect x="455" y="536" width="18" height="19" fill="rgb(0,255,254)"/>
<rect x="473" y="536" width="18" height="19" fill="rgb(0,255,254)"/>
<rect x="491" y="536" width="18" height="19" fill="rgb(0,254,239)"/>
<rect x="509" y="536" width="18" height="19" fill="rgb(0,253,223)"/>
<rect x="527" y="536" width="19" height="19" fill="rgb(0,252,199)"/>
<rect x="546" y="536" width="18" height="19" fill="rgb(0,251,174)"/>
<rect x="564" y="536" width="18" height="19" fill="rgb(0,252,189)"/>
<rect x="582" y="536" width="18" height="19" fill="rgb(0,252,205)"/>
<rect x="600" y="536" width="18" height="19" fill="rgb(0,254,236)"/>
<rect x="618" y="536" width="18" height="19" fill="rgb(0,249,255)"/>
<rect x="636" y="536" width="19" height="19" fill="rgb(0,236,255)"/>
<rect x="655" y="536" width="18" height="19" fill="rgb(0,223,255)"/>
<rect x="673" y="536" width="18" height="19" fill="rgb(0,217,255)"/>
<rect x="691" y="536" width="18" height="19" fill="rgb(0,210,255)"/>
<rect x="709" y="536" width="18" height="19" fill="rgb(0,207,255)"/>
<rect x="727" y="536" width="19" height="19" fill="rgb(0,204,255)"/>
<rect x="746" y="536" width="18" height="19" fill="rgb(0,204,255)"/>
<rect x="764" y="536" width="18" height="19" fill="rgb(0,204,255)"/>
<rect x="782" y="536" width="18" height="19" fill="rgb(0,207,255)"/>
<rect x="236" y="555" width="19" height="18" fill="rgb(0,255,254)"/>
<rect x="255" y="555" width="18" height="18" fill="rgb(0,253,217)"/>
<rect x="273" y="555" width="18" height="18" fill="rgb(0,251,174)"/>
<rect x="291" y="555" width="18" height="18" fill="rgb(0,250,158)"/>
<rect x="309" y="555" width="18" height="18" fill="rgb(0,251,168)"/>
<rect x="327" y="555" width="19" height="18" fill="rgb(0,251,177)"/>
<rect x="346" y="555" width="18" height="18" fill="rgb(0,251,186)"/>
<rect x="364" y="555" width="18" height="18" fill="rgb(0,252,195)"/>
<rect x="382" y="555" width="18" height="18" fill="rgb(0,252,200)"/>
<rect x="400" y="555" width="18" height="18" fill="rgb(0,252,205)"/>
<rect x="418" y="555" width="18" height="18" fill="rgb(0,253,223)"/>
<rect x="436" y="555" width="19" height="18" fill="rgb(0,254,242)"/>
<rect x="455" y="555" width="18" height="18" fill="rgb(0,254,242)"/>
<rect x="473" y="555" width="18" height="18" fill="rgb(0,254,242)"/>
<rect x="491" y="555" width="18" height="18" fill="rgb(0,253,225)"/>
<rect x="509" y="555" width="18" height="18" fill="rgb(0,253,208)"/>
<rect x="527" y="555" width="19" height="18" fill="rgb(0,252,191)"/>
<rect x="546" y="555" width="18" height="18" fill="rgb(0,251,174)"/>
<rect x="564" y="555" width="18" height="18" fill="rgb(0,252,194)"/>
<rect x="582" y="555" width="18" height="18" fill="rgb(0,253,214)"/>
<rect x="600" y="555" width="18" height="18" fill="rgb(0,254,244)"/>
<rect x="618" y="555" width="18" height="18" fill="rgb(0,246,255)"/>
<rect x="636" y="555" width="19" height="18" fill="rgb(0,232,255)"/>
<rect x="655" y="555" width="18" height="18" fill="rgb(0,218,255)"/>
<rect x="673" y="555" width="18" height="18" fill="rgb(0,210,255)"/>
<rect x="691" y="555" width="18" height="18" fill="rgb(0,202,255)"/>
<rect x="709" y="555" width="18" height="18" fill="rgb(0,197,255)"/>
<rect x="727" y="555" width="19" height="18" fill="rgb(0,192,255)"/>
<rect x="746" y="555" width="18" height="18" fill="rgb(0,191,255)"/>
<rect x="764" y="555" width="18" height="18" fill="rgb(0,191,255)"/>
<rect x="782" y="555" width="18" height="18" fill="rgb(0,193,255)"/>
<rect x="200" y="573" width="18" height="18" fill="rgb(0,249,255)"/>
<rect x="218" y="573" width="18" height="18" fill="rgb(0,252,255)"/>
<rect x="236" y="573" width="19" height="18" fill="rgb(0,252,199)"/>
<rect x="255" y="573" width="18" height="18" fill="rgb(0,249,136)"/>
<rect x="273" y="573" width="18" height="18" fill="rgb(0,248,127)"/>
<rect x="291" y="573" width="18" height="18" fill="rgb(0,248,118)"/>
<rect x="309" y="573" width="18" height="18" fill="rgb(0,249,133)"/>
<rect x="327" y="573" width="19" height="18" fill="rgb(0,250,149)"/>
<rect x="346" y="573" width="18" height="18" fill="rgb(0,250,161)"/>
<rect x="364" y="573" width="18" height="18" fill="rgb(0,251,174)"/>
<rect x="382" y="573" width="18" height="18" fill="rgb(0,251,183)"/>
<rect x="400" y="573" width="18" height="18" fill="rgb(0,252,192)"/>
<rect x="418" y="573" width="18" height="18" fill="rgb(0,253,211)"/>
<rect x="436" y="573" width="19" height="18" fill="rgb(0,254,230)"/>
<rect x="455" y="573" width="18" height="18" fill="rgb(0,254,230)"/>
<rect x="473" y="573" width="18" height="18" fill="rgb(0,254,230)"/>
<rect x="491" y="573" width="18" height="18" fill="rgb(0,253,211)"/>
<rect x="509" y="573" width="18" height="18" fill="rgb(0,252,192)"/>
<rect x="527" y="573" width="19" height="18" fill="rgb(0,251,183)"/>
<rect x="546" y="573" width="18" height="18" fill="rgb(0,251,174)"/>
<rect x="564" y="573" width="18" height="18" fill="rgb(0,252,199)"/>
<rect x="582" y="573" width="18" height="18" fill="rgb(0,253,223)"/>
<rect x="600" y="573" width="18" height="18" fill="rgb(0,255,251)"/>
<rect x="618" y="573" width="18" height="18" fill="rgb(0,242,255)"/>
<rect x="636" y="573" width="19" height="18" fill="rgb(0,228,255)"/>
<rect x="655" y="573" width="18" height="18" fill="rgb(0,213,255)"/>
<rect x="673" y="573" width="18" height="18" fill="rgb(0,204,255)"/>
<rect x="691" y="573" width="18" height="18" fill="rgb(0,194,255)"/>
<rect x="709" y="573" width="18" height="18" fill="rgb(0,187,255)"/>
<rect x="727" y="573" width="19" height="18" fill="rgb(0,181,255)"/>
<rect x="746" y="573" width="18" height="18" fill="rgb(0,179,255)"/>
<rect x="764" y="573" width="18" height="18" fill="rgb(0,178,255)"/>
<rect x="782" y="573" width="18" height="18" fill="rgb(0,179,255)"/>
<rect x="127" y="591" width="19" height="18" fill="rgb(0,145,255)"/>
<rect x="146" y="591" width="18" height="18" fill="rgb(0,223,255)"/>
<rect x="164" y="591" width="18" height="18" fill="rgb(0,252,255)"/>
<rect x="182" y="591" width="18" height="18" fill="rgb(0,254,236)"/>
<rect x="200" y="591" width="18" height="18" fill="rgb(0,252,205)"/>
<rect x="218" y="591" width="18" height="18" fill="rgb(0,252,189)"/>
<rect x="236" y="591" width="19" height="18" fill="rgb(0,250,154)"/>
<rect x="255" y="591" width="18" height="18" fill="rgb(0,248,118)"/>
<rect x="273" y="591" width="18" height="18" fill="rgb(0,248,110)"/>
<rect x="291" y="591" width="18" height="18" fill="rgb(0,247,102)"/>
<rect x="309" y="591" width="18" height="18" fill="rgb(0,248,121)"/>
<rect x="327" y="591" width="19" height="18" fill="rgb(0,249,140)"/>
<rect x="346" y="591" width="18" height="18" fill="rgb(0,250,160)"/>
<rect x="364" y="591" width="18" height="18" fill="rgb(0,251,180)"/>
<rect x="382" y="591" width="18" height="18" fill="rgb(0,252,194)"/>
<rect x="400" y="591" width="18" height="18" fill="rgb(0,253,208)"/>
<rect x="418" y="591" width="18" height="18" fill="rgb(0,253,223)"/>
<rect x="436" y="591" width="19" height="18" fill="rgb(0,254,239)"/>
<rect x="455" y="591" width="18" height="18" fill="rgb(0,254,239)"/>
<rect x="473" y="591" width="18" height="18" fill="rgb(0,254,239)"/>
<rect x="491" y="591" width="18" height="18" fill="rgb(0,253,217)"/>
<rect x="509" y="591" width="18" height="18" fill="rgb(0,252,195)"/>
<rect x="527" y="591" width="19" height="18" fill="rgb(0,252,191)"/>
<rect x="546" y="591" width="18" height="18" fill="rgb(0,251,186)"/>
<rect x="564" y="591" width="18" height="18" fill="rgb(0,253,211)"/>
<rect x="582" y="591" width="18" height="18" fill="rgb(0,254,236)"/>
<rect x="600" y="591" width="18" height="18" fill="rgb(0,251,255)"/>
<rect x="618" y="591" width="18" height="18" fill="rgb(0,238,255)"/>
<rect x="636" y="591" width="19" height="18" fill="rgb(0,223,255)"/>
<rect x="655" y="591" width="18" height="18" fill="rgb(0,208,255)"/>
<rect x="673" y="591" width="18" height="18" fill="rgb(0,200,255)"/>
<rect x="691" y="591" width="18" height="18" fill="rgb(0,191,255)"/>
<rect x="709" y="591" width="18" height="18" fill="rgb(0,183,255)"/>
<rect x="727" y="591" width="19" height="18" fill="rgb(0,176,255)"/>
<rect x="746" y="591" width="18" height="18" fill="rgb(0,174,255)"/>
<rect x="764" y="591" width="18" height="18" fill="rgb(0,171,255)"/>
<rect x="782" y="591" width="18" height="18" fill="rgb(0,173,255)"/>
<rect x="18" y="609" width="18" height="18" fill="rgb(0,247,99)"/>
<rect x="36" y="609" width="19" height="18" fill="rgb(0,251,186)"/>
<rect x="55" y="609" width="18" height="18" fill="rgb(0,242,255)"/>
<rect x="73" y="609" width="18" height="18" fill="rgb(0,210,255)"/>
<rect x="91" y="609" width="18" height="18" fill="rgb(0,200,255)"/>
<rect x="109" y="609" width="18" height="18" fill="rgb(0,200,255)"/>
<rect x="127" y="609" width="19" height="18" fill="rgb(0,213,255)"/>
<rect x="146" y="609" width="18" height="18" fill="rgb(0,239,255)"/>
<rect x="164" y="609" width="18" height="18" fill="rgb(0,254,230)"/>
<rect x="182" y="609" width="18" height="18" fill="rgb(0,253,211)"/>
<rect x="200" y="609" width="18" height="18" fill="rgb(0,252,189)"/>
<rect x="218" y="609" width="18" height="18" fill="rgb(0,250,161)"/>
<rect x="236" y="609" width="19" height="18" fill="rgb(0,249,130)"/>
<rect x="255" y="609" width="18" height="18" fill="rgb(0,247,99)"/>
<rect x="273" y="609" width="18" height="18" fill="rgb(0,247,93)"/>
<rect x="291" y="609" width="18" height="18" fill="rgb(0,246,87)"/>
<rect x="309" y="609" width="18" height="18" fill="rgb(0,248,109)"/>
<rect x="327" y="609" width="19" height="18" fill="rgb(0,249,130)"/>
<rect x="346" y="609" width="18" height="18" fill="rgb(0,250,158)"/>
<rect x="364" y="609" width="18" height="18" fill="rgb(0,251,186)"/>
<rect x="382" y="609" width="18" height="18" fill="rgb(0,252,205)"/>
<rect x="400" y="609" width="18" height="18" fill="rgb(0,253,223)"/>
<rect x="418" y="609" width="18" height="18" fill="rgb(0,254,236)"/>
<rect x="436" y="609" width="19" height="18" fill="rgb(0,255,248)"/>
<rect x="455" y="609" width="18" height="18" fill="rgb(0,255,248)"/>
<rect x="473" y="609" width="18" height="18" fill="rgb(0,255,248)"/>
<rect x="491" y="609" width="18" height="18" fill="rgb(0,253,223)"/>
<rect x="509" y="609" width="18" height="18" fill="rgb(0,252,199)"/>
<rect x="527" y="609" width="19" height="18" fill="rgb(0,252,199)"/>
<rect x="546" y="609" width="18" height="18" fill="rgb(0,252,199)"/>
<rect x="564" y="609" width="18" height="18" fill="rgb(0,253,223)"/>
<rect x="582" y="609" width="18" height="18" fill="rgb(0,255,248)"/>
<rect x="600" y="609" width="18" height="18" fill="rgb(0,246,255)"/>
<rect x="618" y="609" width="18" height="18" fill="rgb(0,233,255)"/>
<rect x="636" y="609" width="19" height="18" fill="rgb(0,218,255)"/>
<rect x="655" y="609" width="18" height="18" fill="rgb(0,204,255)"/>
<rect x="673" y="609" width="18" height="18" fill="rgb(0,196,255)"/>
<rect x="691" y="609" width="18" height="18" fill="rgb(0,187,255)"/>
<rect x="709" y="609" width="18" height="18" fill="rgb(0,179,255)"/>
<rect x="727" y="609" width="19" height="18" fill="rgb(0,171,255)"/>
<rect x="746" y="609" width="18" height="18" fill="rgb(0,168,255)"/>
<rect x="764" y="609" width="18" height="18" fill="rgb(0,165,255)"/>
<rect x="782" y="609" width="18" height="18" fill="rgb(0,166,255)"/>
<rect x="0" y="627" width="18" height="18" fill="rgb(0,246,87)"/>
<rect x="18" y="627" width="18" height="18" fill="rgb(0,247,99)"/>
<rect x="36" y="627" width="19" height="18" fill="rgb(0,249,130)"/>
<rect x="55" y="627" width="18" height="18" fill="rgb(0,250,161)"/>
<rect x="73" y="627" width="18" height="18" fill="rgb(0,252,192)"/>
<rect x="91" y="627" width="18" height="18" fill="rgb(0,253,223)"/>
<rect x="109" y="627" width="18" height="18" fill="rgb(0,254,236)"/>
<rect x="127" y="627" width="19" height="18" fill="rgb(0,254,236)"/>
<rect x="146" y="627" width="18" height="18" fill="rgb(0,253,217)"/>
<rect x="164" y="627" width="18" height="18" fill="rgb(0,252,192)"/>
<rect x="182" y="627" width="18" height="18" fill="rgb(0,250,161)"/>
<rect x="200" y="627" width="18" height="18" fill="rgb(0,251,171)"/>
<rect x="218" y="627" width="18" height="18" fill="rgb(0,249,146)"/>
<rect x="236" y="627" width="19" height="18" fill="rgb(0,248,113)"/>
<rect x="255" y="627" width="18" height="18" fill="rgb(0,246,81)"/>
<rect x="273" y="627" width="18" height="18" fill="rgb(0,246,78)"/>
<rect x="291" y="627" width="18" height="18" fill="rgb(0,246,74)"/>
<rect x="309" y="627" width="18" height="18" fill="rgb(0,247,99)"/>
<rect x="327" y="627" width="19" height="18" fill="rgb(0,248,124)"/>
<rect x="346" y="627" width="18" height="18" fill="rgb(0,250,155)"/>
<rect x="364" y="627" width="18" height="18" fill="rgb(0,251,186)"/>
<rect x="382" y="627" width="18" height="18" fill="rgb(0,253,208)"/>
<rect x="400" y="627" width="18" height="18" fill="rgb(0,254,230)"/>
<rect x="418" y="627" width="18" height="18" fill="rgb(0,254,245)"/>
<rect x="436" y="627" width="19" height="18" fill="rgb(0,252,255)"/>
<rect x="455" y="627" width="18" height="18" fill="rgb(0,250,255)"/>
<rect x="473" y="627" width="18" height="18" fill="rgb(0,249,255)"/>
<rect x="491" y="627" width="18" height="18" fill="rgb(0,255,247)"/>
<rect x="509" y="627" width="18" height="18" fill="rgb(0,254,226)"/>
<rect x="527" y="627" width="19" height="18" fill="rgb(0,253,225)"/>
<rect x="546" y="627" width="18" height="18" fill="rgb(0,253,223)"/>
<rect x="564" y="627" width="18" height="18" fill="rgb(0,254,242)"/>
<rect x="582" y="627" width="18" height="18" fill="rgb(0,252,255)"/>
<rect x="600" y="627" width="18" height="18" fill="rgb(0,239,255)"/>
<rect x="618" y="627" width="18" height="18" fill="rgb(0,226,255)"/>
<rect x="636" y="627" width="19" height="18" fill="rgb(0,214,255)"/>
<rect x="655" y="627" width="18" height="18" fill="rgb(0,202,255)"/>
<rect x="673" y="627" width="18" height="18" fill="rgb(0,193,255)"/>
<rect x="691" y="627" width="18" height="18" fill="rgb(0,184,255)"/>
<rect x="709" y="627" width="18" height="18" fill="rgb(0,177,255)"/>
<rect x="727" y="627" width="19" height="18" fill="rgb(0,170,255)"/>
<rect x="746" y="627" width="18" height="18" fill="rgb(0,166,255)"/>
<rect x="764" y="627" width="18" height="18" fill="rgb(0,163,255)"/>
<rect x="782" y="627" width="18" height="18" fill="rgb(0,164,255)"/>
<rect x="0" y="645" width="18" height="19" fill="rgb(0,246,87)"/>
<rect x="18" y="645" width="18" height="19" fill="rgb(0,245,68)"/>
<rect x="36" y="645" width="19" height="19" fill="rgb(0,247,105)"/>
<rect x="55" y="645" width="18" height="19" fill="rgb(0,249,143)"/>
<rect x="73" y="645" width="18" height="19" fill="rgb(0,251,180)"/>
<rect x="91" y="645" width="18" height="19" fill="rgb(0,254,236)"/>
<rect x="109" y="645" width="18" height="19" fill="rgb(0,254,236)"/>
<rect x="127" y="645" width="19" height="19" fill="rgb(0,254,236)"/>
<rect x="146" y="645" width="18" height="19" fill="rgb(0,253,211)"/>
<rect x="164" y="645" width="18" height="19" fill="rgb(0,251,168)"/>
<rect x="182" y="645" width="18" height="19" fill="rgb(0,250,149)"/>
<rect x="200" y="645" width="18" height="19" fill="rgb(0,250,152)"/>
<rect x="218" y="645" width="18" height="19" fill="rgb(0,249,130)"/>
<rect x="236" y="645" width="19" height="19" fill="rgb(0,247,96)"/>
<rect x="255" y="645" width="18" height="19" fill="rgb(0,245,62)"/>
<rect x="273" y="645" width="18" height="19" fill="rgb(0,245,62)"/>
<rect x="291" y="645" width="18" height="19" fill="rgb(0,245,62)"/>
<rect x="309" y="645" width="18" height="19" fill="rgb(0,247,90)"/>
<rect x="327" y="645" width="19" height="19" fill="rgb(0,248,118)"/>
<rect x="346" y="645" width="18" height="19" fill="rgb(0,250,152)"/>
<rect x="364" y="645" width="18" height="19" fill="rgb(0,251,186)"/>
<rect x="382" y="645" width="18" height="19" fill="rgb(0,253,211)"/>
<rect x="400" y="645" width="18" height="19" fill="rgb(0,254,236)"/>
<rect x="418" y="645" width="18" height="19" fill="rgb(0,255,254)"/>
<rect x="436" y="645" width="19" height="19" fill="rgb(0,246,255)"/>
<rect x="455" y="645" width="18" height="19" fill="rgb(0,242,255)"/>
<rect x="473" y="645" width="18" height="19" fill="rgb(0,239,255)"/>
<rect x="491" y="645" width="18" height="19" fill="rgb(0,247,255)"/>
<rect x="509" y="645" width="18" height="19" fill="rgb(0,255,254)"/>
<rect x="527" y="645" width="19" height="19" fill="rgb(0,255,251)"/>
<rect x="546" y="645" width="18" height="19" fill="rgb(0,255,248)"/>
<rect x="564" y="645" width="18" height="19" fill="rgb(0,252,255)"/>
<rect x="582" y="645" width="18" height="19" fill="rgb(0,246,255)"/>
<rect x="600" y="645" width="18" height="19" fill="rgb(0,233,255)"/>
<rect x="618" y="645" width="18" height="19" fill="rgb(0,220,255)"/>
<rect x="636" y="645" width="19" height="19" fill="rgb(0,210,255)"/>
<rect x="655" y="645" width="18" height="19" fill="rgb(0,200,255)"/>
<rect x="673" y="645" width="18" height="19" fill="rgb(0,191,255)"/>
<rect x="691" y="645" width="18" height="19" fill="rgb(0,181,255)"/>
<rect x="709" y="645" width="18" height="19" fill="rgb(0,175,255)"/>
<rect x="727" y="645" width="19" height="19" fill="rgb(0,168,255)"/>
<rect x="746" y="645" width="18" height="19" fill="rgb(0,165,255)"/>
<rect x="764" y="645" width="18" height="19" fill="rgb(0,162,255)"/>
<rect x="782" y="645" width="18" height="19" fill="rgb(0,162,255)"/>
<rect x="0" y="664" width="18" height="18" fill="rgb(0,247,105)"/>
<rect x="18" y="664" width="18" height="18" fill="rgb(0,245,50)"/>
<rect x="36" y="664" width="19" height="18" fill="rgb(0,247,89)"/>
<rect x="55" y="664" width="18" height="18" fill="rgb(0,249,128)"/>
<rect x="73" y="664" width="18" height="18" fill="rgb(0,251,168)"/>
<rect x="91" y="664" width="18" height="18" fill="rgb(0,253,217)"/>
<rect x="109" y="664" width="18" height="18" fill="rgb(0,254,236)"/>
<rect x="127" y="664" width="19" height="18" fill="rgb(0,255,248)"/>
<rect x="146" y="664" width="18" height="18" fill="rgb(0,253,217)"/>
<rect x="164" y="664" width="18" height="18" fill="rgb(0,251,168)"/>
<rect x="182" y="664" width="18" height="18" fill="rgb(0,250,149)"/>
<rect x="200" y="664" width="18" height="18" fill="rgb(0,250,149)"/>
<rect x="218" y="664" width="18" height="18" fill="rgb(0,249,130)"/>
<rect x="236" y="664" width="19" height="18" fill="rgb(0,247,99)"/>
<rect x="255" y="664" width="18" height="18" fill="rgb(0,245,68)"/>
<rect x="273" y="664" width="18" height="18" fill="rgb(0,245,68)"/>
<rect x="291" y="664" width="18" height="18" fill="rgb(0,245,68)"/>
<rect x="309" y="664" width="18" height="18" fill="rgb(0,247,95)"/>
<rect x="327" y="664" width="19" height="18" fill="rgb(0,248,121)"/>
<rect x="346" y="664" width="18" height="18" fill="rgb(0,250,150)"/>
<rect x="364" y="664" width="18" height="18" fill="rgb(0,251,180)"/>
<rect x="382" y="664" width="18" height="18" fill="rgb(0,252,203)"/>
<rect x="400" y="664" width="18" height="18" fill="rgb(0,254,226)"/>
<rect x="418" y="664" width="18" height="18" fill="rgb(0,255,247)"/>
<rect x="436" y="664" width="19" height="18" fill="rgb(0,249,255)"/>
<rect x="455" y="664" width="18" height="18" fill="rgb(0,242,255)"/>
<rect x="473" y="664" width="18" height="18" fill="rgb(0,236,255)"/>
<rect x="491" y="664" width="18" height="18" fill="rgb(0,239,255)"/>
<rect x="509" y="664" width="18" height="18" fill="rgb(0,242,255)"/>
<rect x="527" y="664" width="19" height="18" fill="rgb(0,246,255)"/>
<rect x="546" y="664" width="18" height="18" fill="rgb(0,250,255)"/>
<rect x="564" y="664" width="18" height="18" fill="rgb(0,243,255)"/>
<rect x="582" y="664" width="18" height="18" fill="rgb(0,236,255)"/>
<rect x="600" y="664" width="18" height="18" fill="rgb(0,225,255)"/>
<rect x="618" y="664" width="18" height="18" fill="rgb(0,215,255)"/>
<rect x="636" y="664" width="19" height="18" fill="rgb(0,206,255)"/>
<rect x="655" y="664" width="18" height="18" fill="rgb(0,197,255)"/>
<rect x="673" y="664" width="18" height="18" fill="rgb(0,189,255)"/>
<rect x="691" y="664" width="18" height="18" fill="rgb(0,181,255)"/>
<rect x="709" y="664" width="18" height="18" fill="rgb(0,175,255)"/>
<rect x="727" y="664" width="19" height="18" fill="rgb(0,168,255)"/>
<rect x="746" y="664" width="18" height="18" fill="rgb(0,165,255)"/>
<rect x="764" y="664" width="18" height="18" fill="rgb(0,162,255)"/>
<rect x="782" y="664" width="18" height="18" fill="rgb(0,162,255)"/>
<rect x="0" y="682" width="18" height="18" fill="rgb(0,248,118)"/>
<rect x="18" y="682" width="18" height="18" fill="rgb(0,244,43)"/>
<rect x="36" y="682" width="19" height="18" fill="rgb(0,244,43)"/>
<rect x="55" y="682" width="18" height="18" fill="rgb(0,244,43)"/>
<rect x="73" y="682" width="18" height="18" fill="rgb(0,244,43)"/>
<rect x="91" y="682" width="18" height="18" fill="rgb(0,249,136)"/>
<rect x="109" y="682" width="18" height="18" fill="rgb(0,252,192)"/>
<rect x="127" y="682" width="19" height="18" fill="rgb(0,253,223)"/>
<rect x="146" y="682" width="18" height="18" fill="rgb(0,252,205)"/>
<rect x="164" y="682" width="18" height="18" fill="rgb(0,250,161)"/>
<rect x="182" y="682" width="18" height="18" fill="rgb(0,250,149)"/>
<rect x="200" y="682" width="18" height="18" fill="rgb(0,249,146)"/>
<rect x="218" y="682" width="18" height="18" fill="rgb(0,249,130)"/>
<rect x="236" y="682" width="19" height="18" fill="rgb(0,247,102)"/>
<rect x="255" y="682" width="18" height="18" fill="rgb(0,246,74)"/>
<rect x="273" y="682" width="18" height="18" fill="rgb(0,246,74)"/>
<rect x="291" y="682" width="18" height="18" fill="rgb(0,246,74)"/>
<rect x="309" y="682" width="18" height="18" fill="rgb(0,247,99)"/>
<rect x="327" y="682" width="19" height="18" fill="rgb(0,248,124)"/>
<rect x="346" y="682" width="18" height="18" fill="rgb(0,250,149)"/>
<rect x="364" y="682" width="18" height="18" fill="rgb(0,251,174)"/>
<rect x="382" y="682" width="18" height="18" fill="rgb(0,252,195)"/>
<rect x="400" y="682" width="18" height="18" fill="rgb(0,253,217)"/>
<rect x="418" y="682" width="18" height="18" fill="rgb(0,254,239)"/>
<rect x="436" y="682" width="19" height="18" fill="rgb(0,252,255)"/>
<rect x="455" y="682" width="18" height="18" fill="rgb(0,242,255)"/>
<rect x="473" y="682" width="18" height="18" fill="rgb(0,233,255)"/>
<rect x="491" y="682" width="18" height="18" fill="rgb(0,231,255)"/>
<rect x="509" y="682" width="18" height="18" fill="rgb(0,229,255)"/>
<rect x="527" y="682" width="19" height="18" fill="rgb(0,236,255)"/>
<rect x="546" y="682" width="18" height="18" fill="rgb(0,242,255)"/>
<rect x="564" y="682" width="18" height="18" fill="rgb(0,234,255)"/>
<rect x="582" y="682" width="18" height="18" fill="rgb(0,226,255)"/>
<rect x="600" y="682" width="18" height="18" fill="rgb(0,218,255)"/>
<rect x="618" y="682" width="18" height="18" fill="rgb(0,210,255)"/>
<rect x="636" y="682" width="19" height="18" fill="rgb(0,202,255)"/>
<rect x="655" y="682" width="18" height="18" fill="rgb(0,194,255)"/>
<rect x="673" y="682" width="18" height="18" fill="rgb(0,187,255)"/>
<rect x="691" y="682" width="18" height="18" fill="rgb(0,181,255)"/>
<rect x="709" y="682" width="18" height="18" fill="rgb(0,175,255)"/>
<rect x="727" y="682" width="19" height="18" fill="rgb(0,168,255)"/>
<rect x="746" y="682" width="18" height="18" fill="rgb(0,165,255)"/>
<rect x="764" y="682" width="18" height="18" fill="rgb(0,162,255)"/>
<rect x="782" y="682" width="18" height="18" fill="rgb(0,162,255)"/>
<rect x="0" y="700" width="18" height="18" fill="rgb(0,245,62)"/>
<rect x="18" y="700" width="18" height="18" fill="rgb(0,243,19)"/>
<rect x="36" y="700" width="19" height="18" fill="rgb(0,242,6)"/>
<rect x="55" y="700" width="18" height="18" fill="rgb(6,242,0)"/>
<rect x="73" y="700" width="18" height="18" fill="rgb(19,243,0)"/>
<rect x="91" y="700" width="18" height="18" fill="rgb(0,244,31)"/>
<rect x="109" y="700" width="18" height="18" fill="rgb(0,248,112)"/>
<rect x="127" y="700" width="19" height="18" fill="rgb(0,251,168)"/>
<rect x="146" y="700" width="18" height="18" fill="rgb(0,250,161)"/>
<rect x="164" y="700" width="18" height="18" fill="rgb(0,250,149)"/>
<rect x="182" y="700" width="18" height="18" fill="rgb(0,249,143)"/>
<rect x="200" y="700" width="18" height="18" fill="rgb(0,249,141)"/>
<rect x="218" y="700" width="18" height="18" fill="rgb(0,249,133)"/>
<rect x="236" y="700" width="19" height="18" fill="rgb(0,248,116)"/>
<rect x="255" y="700" width="18" height="18" fill="rgb(0,247,99)"/>
<rect x="273" y="700" width="18" height="18" fill="rgb(0,247,99)"/>
<rect x="291" y="700" width="18" height="18" fill="rgb(0,247,99)"/>
<rect x="309" y="700" width="18" height="18" fill="rgb(0,248,115)"/>
<rect x="327" y="700" width="19" height="18" fill="rgb(0,249,130)"/>
<rect x="346" y="700" width="18" height="18" fill="rgb(0,250,149)"/>
<rect x="364" y="700" width="18" height="18" fill="rgb(0,251,168)"/>
<rect x="382" y="700" width="18" height="18" fill="rgb(0,251,185)"/>
<rect x="400" y="700" width="18" height="18" fill="rgb(0,252,202)"/>
<rect x="418" y="700" width="18" height="18" fill="rgb(0,254,228)"/>
<rect x="436" y="700" width="19" height="18" fill="rgb(0,255,254)"/>
<rect x="455" y="700" width="18" height="18" fill="rgb(0,244,255)"/>
<rect x="473" y="700" width="18" height="18" fill="rgb(0,233,255)"/>
<rect x="491" y="700" width="18" height="18" fill="rgb(0,229,255)"/>
<rect x="509" y="700" width="18" height="18" fill="rgb(0,226,255)"/>
<rect x="527" y="700" width="19" height="18" fill="rgb(0,229,255)"/>
<rect x="546" y="700" width="18" height="18" fill="rgb(0,231,255)"/>
<rect x="564" y="700" width="18" height="18" fill="rgb(0,225,255)"/>
<rect x="582" y="700" width="18" height="18" fill="rgb(0,220,255)"/>
<rect x="600" y="700" width="18" height="18" fill="rgb(0,216,255)"/>
<rect x="618" y="700" width="18" height="18" fill="rgb(0,212,255)"/>
<rect x="636" y="700" width="19" height="18" fill="rgb(0,205,255)"/>
<rect x="655" y="700" width="18" height="18" fill="rgb(0,199,255)"/>
<rect x="673" y="700" width="18" height="18" fill="rgb(0,191,255)"/>
<rect x="691" y="700" width="18" height="18" fill="rgb(0,184,255)"/>
<rect x="709" y="700" width="18" height="18" fill="rgb(0,177,255)"/>
<rect x="727" y="700" width="19" height="18" fill="rgb(0,170,255)"/>
<rect x="746" y="700" width="18" height="18" fill="rgb(0,166,255)"/>
<rect x="764" y="700" width="18" height="18" fill="rgb(0,163,255)"/>
<rect x="782" y="700" width="18" height="18" fill="rgb(0,162,255)"/>
<rect x="0" y="718" width="18" height="18" fill="rgb(0,243,19)"/>
<rect x="18" y="718" width="18" height="18" fill="rgb(12,243,0)"/>
<rect x="36" y="718" width="19" height="18" fill="rgb(25,243,0)"/>
<rect x="55" y="718" width="18" height="18" fill="rgb(37,244,0)"/>
<rect x="73" y="718" width="18" height="18" fill="rgb(50,245,0)"/>
<rect x="91" y="718" width="18" height="18" fill="rgb(37,244,0)"/>
<rect x="109" y="718" width="18" height="18" fill="rgb(0,244,31)"/>
<rect x="127" y="718" width="19" height="18" fill="rgb(0,247,99)"/>
<rect x="146" y="718" width="18" height="18" fill="rgb(0,248,118)"/>
<rect x="164" y="718" width="18" height="18" fill="rgb(0,249,136)"/>
<rect x="182" y="718" width="18" height="18" fill="rgb(0,249,136)"/>
<rect x="200" y="718" width="18" height="18" fill="rgb(0,249,136)"/>
<rect x="218" y="718" width="18" height="18" fill="rgb(0,249,136)"/>
<rect x="236" y="718" width="19" height="18" fill="rgb(0,249,130)"/>
<rect x="255" y="718" width="18" height="18" fill="rgb(0,248,124)"/>
<rect x="273" y="718" width="18" height="18" fill="rgb(0,248,124)"/>
<rect x="291" y="718" width="18" height="18" fill="rgb(0,248,124)"/>
<rect x="309" y="718" width="18" height="18" fill="rgb(0,249,130)"/>
<rect x="327" y="718" width="19" height="18" fill="rgb(0,249,136)"/>
<rect x="346" y="718" width="18" height="18" fill="rgb(0,250,149)"/>
<rect x="364" y="718" width="18" height="18" fill="rgb(0,250,161)"/>
<rect x="382" y="718" width="18" height="18" fill="rgb(0,251,174)"/>
<rect x="400" y="718" width="18" height="18" fill="rgb(0,251,186)"/>
<rect x="418" y="718" width="18" height="18" fill="rgb(0,253,217)"/>
<rect x="436" y="718" width="19" height="18" fill="rgb(0,255,248)"/>
<rect x="455" y="718" width="18" height="18" fill="rgb(0,246,255)"/>
<rect x="473" y="718" width="18" height="18" fill="rgb(0,233,255)"/>
<rect x="491" y="718" width="18" height="18" fill="rgb(0,228,255)"/>
<rect x="509" y="718" width="18" height="18" fill="rgb(0,223,255)"/>
<rect x="527" y="718" width="19" height="18" fill="rgb(0,221,255)"/>
<rect x="546" y="718" width="18" height="18" fill="rgb(0,220,255)"/>
<rect x="564" y="718" width="18" height="18" fill="rgb(0,217,255)"/>
<rect x="582" y="718" width="18" height="18" fill="rgb(0,213,255)"/>
<rect x="600" y="718" width="18" height="18" fill="rgb(0,213,255)"/>
<rect x="618" y="718" width="18" height="18" fill="rgb(0,213,255)"/>
<rect x="636" y="718" width="19" height="18" fill="rgb(0,208,255)"/>
<rect x="655" y="718" width="18" height="18" fill="rgb(0,204,255)"/>
<rect x="673" y="718" width="18" height="18" fill="rgb(0,196,255)"/>
<rect x="691" y="718" width="18" height="18" fill="rgb(0,187,255)"/>
<rect x="709" y="718" width="18" height="18" fill="rgb(0,179,255)"/>
<rect x="727" y="718" width="19" height="18" fill="rgb(0,171,255)"/>
<rect x="746" y="718" width="18" height="18" fill="rgb(0,168,255)"/>
<rect x="764" y="718" width="18" height="18" fill="rgb(0,165,255)"/>
<rect x="782" y="718" width="18" height="18" fill="rgb(0,163,255)"/>
<rect x="0" y="736" width="18" height="19" fill="rgb(6,242,0)"/>
<rect x="18" y="736" width="18" height="19" fill="rgb(31,244,0)"/>
<rect x="36" y="736" width="19" height="19" fill="rgb(54,245,0)"/>
<rect x="55" y="736" width="18" height="19" fill="rgb(77,246,0)"/>
<rect x="73" y="736" width="18" height="19" fill="rgb(100,247,0)"/>
<rect x="91" y="736" width="18" height="19" fill="rgb(112,248,0)"/>
<rect x="109" y="736" width="18" height="19" fill="rgb(50,245,0)"/>
<rect x="127" y="736" width="19" height="19" fill="rgb(0,243,19)"/>
<rect x="146" y="736" width="18" height="19" fill="rgb(0,246,81)"/>
<rect x="164" y="736" width="18" height="19" fill="rgb(0,248,118)"/>
<rect x="182" y="736" width="18" height="19" fill="rgb(0,249,136)"/>
<rect x="200" y="736" width="18" height="19" fill="rgb(0,248,127)"/>
<rect x="218" y="736" width="18" height="19" fill="rgb(0,249,130)"/>
<rect x="236" y="736" width="19" height="19" fill="rgb(0,248,127)"/>
<rect x="255" y="736" width="18" height="19" fill="rgb(0,248,124)"/>
<rect x="273" y="736" width="18" height="19" fill="rgb(0,248,127)"/>
<rect x="291" y="736" width="18" height="19" fill="rgb(0,249,130)"/>
<rect x="309" y="736" width="18" height="19" fill="rgb(0,249,136)"/>
<rect x="327" y="736" width="19" height="19" fill="rgb(0,249,143)"/>
<rect x="346" y="736" width="18" height="19" fill="rgb(0,250,152)"/>
<rect x="364" y="736" width="18" height="19" fill="rgb(0,250,161)"/>
<rect x="382" y="736" width="18" height="19" fill="rgb(0,251,174)"/>
<rect x="400" y="736" width="18" height="19" fill="rgb(0,251,186)"/>
<rect x="418" y="736" width="18" height="19" fill="rgb(0,253,214)"/>
<rect x="436" y="736" width="19" height="19" fill="rgb(0,254,242)"/>
<rect x="455" y="736" width="18" height="19" fill="rgb(0,248,255)"/>
<rect x="473" y="736" width="18" height="19" fill="rgb(0,234,255)"/>
<rect x="491" y="736" width="18" height="19" fill="rgb(0,228,255)"/>
<rect x="509" y="736" width="18" height="19" fill="rgb(0,221,255)"/>
<rect x="527" y="736" width="19" height="19" fill="rgb(0,218,255)"/>
<rect x="546" y="736" width="18" height="19" fill="rgb(0,215,255)"/>
<rect x="564" y="736" width="18" height="19" fill="rgb(0,213,255)"/>
<rect x="582" y="736" width="18" height="19" fill="rgb(0,212,255)"/>
<rect x="600" y="736" width="18" height="19" fill="rgb(0,214,255)"/>
<rect x="618" y="736" width="18" height="19" fill="rgb(0,217,255)"/>
<rect x="636" y="736" width="19" height="19" fill="rgb(0,212,255)"/>
<rect x="655" y="736" width="18" height="19" fill="rgb(0,207,255)"/>
<rect x="673" y="736" width="18" height="19" fill="rgb(0,199,255)"/>
<rect x="691" y="736" width="18" height="19" fill="rgb(0,191,255)"/>
<rect x="709" y="736" width="18" height="19" fill="rgb(0,182,255)"/>
<rect x="727" y="736" width="19" height="19" fill="rgb(0,173,255)"/>
<rect x="746" y="736" width="18" height="19" fill="rgb(0,170,255)"/>
<rect x="764" y="736" width="18" height="19" fill="rgb(0,166,255)"/>
<rect x="782" y="736" width="18" height="19" fill="rgb(0,164,255)"/>
<rect x="0" y="755" width="18" height="18" fill="rgb(50,245,0)"/>
<rect x="18" y="755" width="18" height="18" fill="rgb(81,246,0)"/>
<rect x="36" y="755" width="19" height="18" fill="rgb(104,247,0)"/>
<rect x="55" y="755" width="18" height="18" fill="rgb(127,248,0)"/>
<rect x="73" y="755" width="18" height="18" fill="rgb(150,250,0)"/>
<rect x="91" y="755" width="18" height="18" fill="rgb(162,250,0)"/>
<rect x="109" y="755" width="18" height="18" fill="rgb(125,248,0)"/>
<rect x="127" y="755" width="19" height="18" fill="rgb(37,244,0)"/>
<rect x="146" y="755" width="18" height="18" fill="rgb(0,244,31)"/>
<rect x="164" y="755" width="18" height="18" fill="rgb(0,247,99)"/>
<rect x="182" y="755" width="18" height="18" fill="rgb(0,248,124)"/>
<rect x="200" y="755" width="18" height="18" fill="rgb(0,248,118)"/>
<rect x="218" y="755" width="18" height="18" fill="rgb(0,248,124)"/>
<rect x="236" y="755" width="19" height="18" fill="rgb(0,248,124)"/>
<rect x="255" y="755" width="18" height="18" fill="rgb(0,248,124)"/>
<rect x="273" y="755" width="18" height="18" fill="rgb(0,249,130)"/>
<rect x="291" y="755" width="18" height="18" fill="rgb(0,249,136)"/>
<rect x="309" y="755" width="18" height="18" fill="rgb(0,249,143)"/>
<rect x="327" y="755" width="19" height="18" fill="rgb(0,250,149)"/>
<rect x="346" y="755" width="18" height="18" fill="rgb(0,250,155)"/>
<rect x="364" y="755" width="18" height="18" fill="rgb(0,250,161)"/>
<rect x="382" y="755" width="18" height="18" fill="rgb(0,251,174)"/>
<rect x="400" y="755" width="18" height="18" fill="rgb(0,251,186)"/>
<rect x="418" y="755" width="18" height="18" fill="rgb(0,253,211)"/>
<rect x="436" y="755" width="19" height="18" fill="rgb(0,254,236)"/>
<rect x="455" y="755" width="18" height="18" fill="rgb(0,250,255)"/>
<rect x="473" y="755" width="18" height="18" fill="rgb(0,236,255)"/>
<rect x="491" y="755" width="18" height="18" fill="rgb(0,228,255)"/>
<rect x="509" y="755" width="18" height="18" fill="rgb(0,220,255)"/>
<rect x="527" y="755" width="19" height="18" fill="rgb(0,215,255)"/>
<rect x="546" y="755" width="18" height="18" fill="rgb(0,210,255)"/>
<rect x="564" y="755" width="18" height="18" fill="rgb(0,210,255)"/>
<rect x="582" y="755" width="18" height="18" fill="rgb(0,210,255)"/>
<rect x="600" y="755" width="18" height="18" fill="rgb(0,215,255)"/>
<rect x="618" y="755" width="18" height="18" fill="rgb(0,220,255)"/>
<rect x="636" y="755" width="19" height="18" fill="rgb(0,215,255)"/>
<rect x="655" y="755" width="18" height="18" fill="rgb(0,210,255)"/>
<rect x="673" y="755" width="18" height="18" fill="rgb(0,202,255)"/>
<rect x="691" y="755" width="18" height="18" fill="rgb(0,194,255)"/>
<rect x="709" y="755" width="18" height="18" fill="rgb(0,184,255)"/>
<rect x="727" y="755" width="19" height="18" fill="rgb(0,175,255)"/>
<rect x="746" y="755" width="18" height="18" fill="rgb(0,171,255)"/>
<rect x="764" y="755" width="18" height="18" fill="rgb(0,168,255)"/>
<rect x="782" y="755" width="18" height="18" fill="rgb(0,165,255)"/>
</g>
<g stroke="#fff" stroke-width="1" fill="none" shape-rendering="crispEdges">
<path d="M718.3 36.4L703.1 33.2M708.8 37.8L703.1 33.2L710.2 31.3M772.8 36.4L757.0 33.0M762.9 37.8L757.0 33.0L764.3 31.1M791.0 36.4L775.2 33.0M781.1 37.8L775.2 33.0L782.5 31.1M700.1 54.6L686.7 52.0M691.7 55.9L686.7 52.0L692.9 50.2M718.3 54.6L704.3 51.9M709.6 56.0L704.3 51.9L710.7 50.0M754.6 54.6L740.0 51.7M745.5 56.0L740.0 51.7L746.7 49.8M772.8 54.6L756.7 51.4M762.8 56.2L756.7 51.4L764.1 49.3M791.0 54.6L774.9 51.4M781.0 56.2L774.9 51.4L782.3 49.3M681.9 72.8L666.3 70.0M672.3 74.5L666.3 70.0L673.4 67.8M700.1 72.8L684.1 69.9M690.2 74.5L684.1 69.9L691.4 67.7M718.3 72.8L702.2 69.9M708.4 74.5L702.2 69.9L709.6 67.7M736.5 72.8L720.3 69.9M726.5 74.5L720.3 69.9L727.7 67.7M754.6 72.8L738.4 69.9M744.6 74.6L738.4 69.9L745.8 67.6M772.8 72.8L756.5 69.9M762.7 74.6L756.5 69.9L764.0 67.6M791.0 72.8L774.7 69.9M780.9 74.6L774.7 69.9L782.1 67.6M663.7 90.9L652.0 89.1M656.5 92.4L652.0 89.1L657.3 87.4M681.9 90.9L666.6 88.5M672.5 92.8L666.6 88.5L673.5 86.3M700.1 90.9L684.0 88.4M690.2 92.9L684.0 88.4L691.3 86.0M718.3 90.9L702.1 88.4M708.3 92.9L702.1 88.4L709.4 86.0M736.5 90.9L720.2 88.4M726.5 92.9L720.2 88.4L727.6 86.0M754.6 90.9L738.3 88.4M744.6 92.9L738.3 88.4L745.7 86.0M772.8 90.9L756.5 88.3M762.8 92.9L756.5 88.3L763.9 85.9M791.0 90.9L774.7 88.3M780.9 92.9L774.7 88.3L782.1 85.9M681.9 109.1L667.1 107.0M672.9 111.1L667.1 107.0L673.8 104.8M700.1 109.1L683.9 106.8M690.2 111.3L683.9 106.8L691.2 104.3M718.3 109.1L702.0 106.8M708.3 111.3L702.0 106.8L709.3 104.3M736.5 109.1L720.1 106.8M726.4 111.3L720.1 106.8L727.4 104.3M754.6 109.1L738.2 106.8M744.6 111.3L738.2 106.8L745.6 104.3M772.8 109.1L756.4 106.8M762.8 111.3L756.4 106.8L763.8 104.3M791.0 109.1L774.6 106.8M781.0 111.3L774.6 106.8L782.0 104.3M663.7 127.3L648.0 125.6M654.2 129.7L648.0 125.6L654.9 123.0M681.9 127.3L665.7 125.6M672.1 129.8L665.7 125.6L672.9 122.9M700.1 127.3L683.7 125.6M690.2 129.8L683.7 125.6L690.9 122.8M718.3 127.3L701.9 125.6M708.4 129.8L701.9 125.6L709.1 122.8M736.5 127.3L720.0 125.6M726.5 129.8L720.0 125.6L727.3 122.8M754.6 127.3L738.2 125.6M744.7 129.8L738.2 125.6L745.4 122.8M772.8 127.3L756.4 125.6M762.9 129.8L756.4 125.6L763.6 122.8M791.0 127.3L774.5 125.6M781.1 129.8L774.5 125.6L781.8 122.8M645.6 145.5L630.3 144.4M636.5 148.1L630.3 144.4L636.9 141.6M663.7 145.5L647.4 144.3M654.0 148.3L647.4 144.3L654.5 141.3M681.9 145.5L665.5 144.3M672.1 148.3L665.5 144.3L672.6 141.3M700.1 145.5L683.6 144.3M690.3 148.3L683.6 144.3L690.7 141.3M718.3 145.5L701.8 144.3M708.4 148.3L701.8 144.3L708.9 141.3M736.5 145.5L719.9 144.3M726.6 148.3L719.9 144.3L727.1 141.3M754.6 145.5L738.1 144.3M744.8 148.3L738.1 144.3L745.3 141.3M772.8 145.5L756.3 144.3M763.0 148.3L756.3 144.3L763.5 141.3M791.0 145.5L774.5 144.3M781.2 148.3L774.5 144.3L781.7 141.3M645.6 163.7L630.1 163.1M636.4 166.7L630.1 163.1L636.7 160.0M663.7 163.7L647.3 163.1M654.0 166.8L647.3 163.1L654.3 159.8M681.9 163.7L665.4 163.1M672.2 166.9L665.4 163.1L672.4 159.8M700.1 163.7L683.5 163.1M690.3 166.9L683.5 163.1L690.6 159.8M718.3 163.7L701.6 163.1M708.5 166.9L701.6 163.1L708.7 159.8M736.5 163.7L719.8 163.1M726.7 166.9L719.8 163.1L726.9 159.8M754.6 163.7L738.0 163.1M744.8 166.9L738.0 163.1L745.1 159.8M772.8 163.7L756.2 163.1M763.0 166.9L756.2 163.1L763.3 159.8M791.0 163.7L774.4 163.1M781.2 166.9L774.4 163.1L781.5 159.8M627.4 181.8L612.4 181.8M618.7 185.0L612.4 181.8L618.7 178.7M645.6 181.8L629.2 181.8M636.0 185.3L629.2 181.8L636.0 178.4M663.7 181.8L647.2 181.8M654.1 185.4L647.2 181.8L654.1 178.3M681.9 181.8L665.3 181.8M672.2 185.4L665.3 181.8L672.2 178.3M700.1 181.8L683.4 181.8M690.4 185.4L683.4 181.8L690.4 178.3M718.3 181.8L701.5 181.8M708.6 185.4L701.5 181.8L708.6 178.3M736.5 181.8L719.7 181.8M726.7 185.4L719.7 181.8L726.7 178.3M754.6 181.8L737.9 181.8M744.9 185.4L737.9 181.8L744.9 178.3M772.8 181.8L756.1 181.8M763.1 185.4L756.1 181.8L763.1 178.3M791.0 181.8L774.3 181.8M781.3 185.4L774.3 181.8L781.3 178.3M609.2 200.0L594.1 200.6M600.5 203.6L594.1 200.6L600.3 197.1M627.4 200.0L610.9 200.6M617.9 203.9L610.9 200.6L617.7 196.8M645.6 200.0L628.9 200.5M636.0 203.9L628.9 200.5L635.8 196.8M663.7 200.0L646.9 200.5M654.1 203.9L646.9 200.5L653.9 196.7M681.9 200.0L665.0 200.4M672.2 203.9L665.0 200.4L672.0 196.6M700.1 200.0L683.1 200.4M690.3 203.9L683.1 200.4L690.1 196.6M718.3 200.0L701.3 200.3M708.5 203.8L701.3 200.3L708.3 196.6M736.5 200.0L719.5 200.2M726.6 203.8L719.5 200.2L726.5 196.5M754.6 200.0L737.7 200.2M744.8 203.8L737.7 200.2L744.7 196.5M772.8 200.0L755.9 200.2M763.0 203.7L755.9 200.2L763.0 196.5M791.0 200.0L774.1 200.2M781.2 203.7L774.1 200.2L781.2 196.5M591.0 218.2L576.8 219.4M583.0 222.0L576.8 219.4L582.5 215.9M609.2 218.2L593.8 219.4M600.5 222.2L593.8 219.4L600.0 215.6M627.4 218.2L610.7 219.4M617.9 222.5L610.7 219.4L617.4 215.3M645.6 218.2L628.7 219.2M636.0 222.4L628.7 219.2L635.5 215.2M663.7 218.2L646.7 219.1M654.0 222.4L646.7 219.1L653.6 215.1M681.9 218.2L664.7 219.0M672.1 222.3L664.7 219.0L671.8 215.0M700.1 218.2L682.8 218.9M690.2 222.3L682.8 218.9L689.9 214.9M718.3 218.2L701.0 218.8M708.4 222.2L701.0 218.8L708.1 214.9M736.5 218.2L719.2 218.7M726.5 222.2L719.2 218.7L726.3 214.8M754.6 218.2L737.5 218.6M744.7 222.1L737.5 218.6L744.6 214.8M772.8 218.2L755.7 218.6M763.0 222.1L755.7 218.6L762.8 214.8M791.0 218.2L774.0 218.5M781.2 222.0L774.0 218.5L781.1 214.8M572.8 236.4L560.7 238.1M566.2 240.0L560.7 238.1L565.4 234.8M591.0 236.4L576.0 238.4M582.7 240.7L576.0 238.4L581.9 234.3M609.2 236.4L592.9 238.3M600.1 241.0L592.9 238.3L599.3 234.0M627.4 236.4L610.7 238.1M618.1 241.0L610.7 238.1L617.3 233.9M645.6 236.4L628.7 237.9M636.1 240.9L628.7 237.9L635.4 233.7M663.7 236.4L646.7 237.7M654.1 240.8L646.7 237.7L653.5 233.5M681.9 236.4L664.7 237.6M672.2 240.7L664.7 237.6L671.7 233.4M700.1 236.4L682.8 237.4M690.2 240.7L682.8 237.4L689.8 233.3M718.3 236.4L700.9 237.2M708.4 240.6L700.9 237.2L708.0 233.2M736.5 236.4L719.1 237.1M726.5 240.5L719.1 237.1L726.2 233.1M754.6 236.4L737.4 237.0M744.8 240.4L737.4 237.0L744.5 233.1M772.8 236.4L755.7 237.0M763.0 240.4L755.7 237.0L762.8 233.1M791.0 236.4L774.0 236.9M781.2 240.3L774.0 236.9L781.0 233.1M554.6 254.6L543.4 257.0M548.6 258.4L543.4 257.0L547.6 253.6M572.8 254.6L558.2 257.4M564.9 259.4L558.2 257.4L563.7 253.1M591.0 254.6L575.1 257.4M582.3 259.6L575.1 257.4L581.1 252.8M609.2 254.6L592.9 257.1M600.3 259.5L592.9 257.1L599.2 252.6M627.4 254.6L610.8 256.9M618.2 259.5L610.8 256.9L617.2 252.4M645.6 254.6L628.8 256.6M636.2 259.4L628.8 256.6L635.4 252.2M663.7 254.6L646.7 256.4M654.2 259.2L646.7 256.4L653.5 252.0M681.9 254.6L664.7 256.2M672.3 259.2L664.7 256.2L671.6 251.8M700.1 254.6L682.7 255.9M690.3 259.1L682.7 255.9L689.7 251.7M718.3 254.6L700.9 255.7M708.4 259.0L700.9 255.7L707.9 251.5M736.5 254.6L719.0 255.5M726.5 258.8L719.0 255.5L726.1 251.4M754.6 254.6L737.4 255.4M744.8 258.7L737.4 255.4L744.4 251.4M772.8 254.6L755.7 255.3M763.1 258.7L755.7 255.3L762.7 251.4M791.0 254.6L774.0 255.2M781.3 258.6L774.0 255.2L781.0 251.3M209.2 272.8L197.3 278.3M203.5 278.5L197.3 278.3L201.1 273.4M554.6 272.8L540.5 276.3M547.2 277.9L540.5 276.3L545.7 271.8M572.8 272.8L557.6 276.3M564.7 278.1L557.6 276.3L563.2 271.6M591.0 272.8L575.2 276.1M582.5 278.1L575.2 276.1L581.1 271.3M609.2 272.8L593.1 275.9M600.5 278.0L593.1 275.9L599.2 271.1M627.4 272.8L611.0 275.6M618.4 277.9L611.0 275.6L617.2 270.9M645.6 272.8L629.0 275.3M636.5 277.8L629.0 275.3L635.4 270.7M663.7 272.8L647.0 275.0M654.5 277.7L647.0 275.0L653.5 270.5M681.9 272.8L665.0 274.8M672.5 277.6L665.0 274.8L671.6 270.3M700.1 272.8L683.0 274.6M690.5 277.4L683.0 274.6L689.8 270.2M718.3 272.8L701.2 274.3M708.7 277.3L701.2 274.3L708.0 270.0M736.5 272.8L719.3 274.0M726.8 277.2L719.3 274.0L726.2 269.8M754.6 272.8L737.6 273.9M745.0 277.1L737.6 273.9L744.5 269.8M772.8 272.8L755.9 273.8M763.2 277.0L755.9 273.8L762.8 269.8M791.0 272.8L774.2 273.7M781.4 276.9L774.2 273.7L781.0 269.7M209.2 290.9L197.2 297.9M203.7 297.5L197.2 297.9L200.7 292.4M227.4 290.9L216.6 297.1M222.4 296.8L216.6 297.1L219.8 292.3M245.6 290.9L235.9 296.6M241.2 296.3L235.9 296.6L238.8 292.1M263.7 290.9L254.4 296.4M259.5 296.1L254.4 296.4L257.2 292.1M281.9 290.9L272.3 296.6M277.6 296.3L272.3 296.6L275.1 292.2M536.5 290.9L522.9 295.3M529.5 296.3L522.9 295.3L527.7 290.6M554.6 290.9L539.8 295.3M547.0 296.7L539.8 295.3L545.1 290.3M572.8 290.9L557.4 295.2M564.7 296.7L557.4 295.2L562.9 290.1M591.0 290.9L575.3 294.9M582.7 296.6L575.3 294.9L581.0 289.9M609.2 290.9L593.2 294.6M600.7 296.5L593.2 294.6L599.1 289.7M627.4 290.9L611.2 294.3M618.7 296.4L611.2 294.3L617.2 289.4M645.6 290.9L629.2 294.0M636.7 296.2L629.2 294.0L635.4 289.2M663.7 290.9L647.2 293.7M654.7 296.1L647.2 293.7L653.6 289.0M681.9 290.9L665.3 293.4M672.8 295.9L665.3 293.4L671.7 288.8M700.1 290.9L683.3 293.1M690.8 295.8L683.3 293.1L689.9 288.6M718.3 290.9L701.5 292.9M708.9 295.6L701.5 292.9L708.1 288.5M736.5 290.9L719.6 292.6M727.0 295.5L719.6 292.6L726.3 288.3M754.6 290.9L737.9 292.4M745.2 295.4L737.9 292.4L744.6 288.2M772.8 290.9L756.1 292.3M763.4 295.3L756.1 292.3L762.8 288.2M791.0 290.9L774.3 292.2M781.6 295.2L774.3 292.2L781.0 288.1M227.4 309.1L217.8 315.8M223.2 315.1L217.8 315.8L220.4 311.0M245.6 309.1L233.5 317.7M240.4 316.7L233.5 317.7L236.7 311.5M263.7 309.1L251.6 317.8M258.6 316.8L251.6 317.8L254.8 311.6M281.9 309.1L270.0 317.8M276.8 316.7L270.0 317.8L273.1 311.6M300.1 309.1L288.8 317.5M295.3 316.4L288.8 317.5L291.8 311.6M318.3 309.1L309.2 315.6M314.4 314.8L309.2 315.6L311.6 310.9M500.1 309.1L487.0 314.6M493.6 315.1L487.0 314.6L491.3 309.5M518.3 309.1L505.1 314.3M511.7 315.0L505.1 314.3L509.5 309.3M536.5 309.1L521.9 314.4M529.2 315.3L521.9 314.4L526.9 309.1M554.6 309.1L539.3 314.3M546.8 315.4L539.3 314.3L544.6 308.9M572.8 309.1L557.3 314.0M564.9 315.2L557.3 314.0L562.8 308.6M591.0 309.1L575.4 313.6M582.9 315.1L575.4 313.6L580.9 308.4M609.2 309.1L593.4 313.3M600.9 314.9L593.4 313.3L599.1 308.2M627.4 309.1L611.5 313.0M618.9 314.8L611.5 313.0L617.3 308.0M645.6 309.1L629.5 312.7M637.0 314.6L629.5 312.7L635.5 307.8M663.7 309.1L647.6 312.3M655.0 314.4L647.6 312.3L653.7 307.5M681.9 309.1L665.7 312.0M673.1 314.3L665.7 312.0L671.8 307.3M700.1 309.1L683.7 311.7M691.1 314.1L683.7 311.7L690.0 307.1M718.3 309.1L701.9 311.4M709.2 313.9L701.9 311.4L708.3 306.9M736.5 309.1L720.0 311.1M727.3 313.8L720.0 311.1L726.5 306.7M754.6 309.1L738.2 310.9M745.5 313.7L738.2 310.9L744.7 306.7M772.8 309.1L756.4 310.8M763.7 313.6L756.4 310.8L762.9 306.6M791.0 309.1L774.6 310.7M781.8 313.5L774.6 310.7L781.1 306.5M263.7 327.3L253.7 336.0M259.8 334.5L253.7 336.0L256.0 330.2M281.9 327.3L271.0 337.0M277.6 335.2L271.0 337.0L273.5 330.6M300.1 327.3L289.1 337.2M295.8 335.4L289.1 337.2L291.6 330.7M318.3 327.3L307.6 336.4M314.0 334.9L307.6 336.4L310.1 330.3M336.5 327.3L326.8 335.1M332.5 333.9L326.8 335.1L329.2 329.8M354.6 327.3L345.4 334.4M350.8 333.4L345.4 334.4L347.7 329.5M372.8 327.3L362.8 334.6M368.5 333.7L362.8 334.6L365.4 329.4M391.0 327.3L380.3 334.5M386.3 333.8L380.3 334.5L383.2 329.2M409.2 327.3L398.0 334.3M404.2 333.7L398.0 334.3L401.2 329.0M427.4 327.3L416.8 333.4M422.5 333.1L416.8 333.4L419.9 328.6M445.6 327.3L434.7 333.0M440.5 332.9L434.7 333.0L438.0 328.3M463.7 327.3L452.0 333.3M458.2 333.3L452.0 333.3L455.7 328.3M481.9 327.3L467.7 334.2M475.1 334.4L467.7 334.2L472.2 328.3M500.1 327.3L485.1 334.3M492.9 334.6L485.1 334.3L489.9 328.2M518.3 327.3L503.2 334.0M510.9 334.4L503.2 334.0L508.1 328.0M536.5 327.3L521.2 333.6M528.9 334.2L521.2 333.6L526.2 327.7M554.6 327.3L539.2 333.2M546.9 334.0L539.2 333.2L544.4 327.5M572.8 327.3L557.3 332.8M565.0 333.8L557.3 332.8L562.6 327.2M591.0 327.3L575.4 332.4M583.0 333.6L575.4 332.4L580.9 326.9M609.2 327.3L593.6 332.0M601.1 333.4L593.6 332.0L599.1 326.7M627.4 327.3L611.8 331.6M619.2 333.1L611.8 331.6L617.4 326.5M645.6 327.3L629.9 331.3M637.3 333.0L629.9 331.3L635.6 326.3M663.7 327.3L648.0 330.9M655.3 332.8L648.0 330.9L653.8 326.1M681.9 327.3L666.1 330.6M673.4 332.6L666.1 330.6L672.0 325.8M700.1 327.3L684.2 330.3M691.5 332.4L684.2 330.3L690.2 325.6M718.3 327.3L702.3 329.9M709.5 332.2L702.3 329.9L708.4 325.4M736.5 327.3L720.4 329.6M727.6 332.0L720.4 329.6L726.7 325.2M754.6 327.3L738.6 329.4M745.8 332.0L738.6 329.4L744.9 325.1M772.8 327.3L756.7 329.3M763.9 331.9L756.7 329.3L763.1 325.0M791.0 327.3L774.9 329.1M782.0 331.8L774.9 329.1L781.3 324.9M300.1 345.5L289.7 355.2M296.1 353.3L289.7 355.2L292.0 348.9M318.3 345.5L307.5 355.0M314.0 353.3L307.5 355.0L310.0 348.7M336.5 345.5L325.3 354.9M332.0 353.3L325.3 354.9L328.0 348.5M354.6 345.5L342.7 355.0M349.7 353.5L342.7 355.0L345.7 348.4M372.8 345.5L360.3 354.9M367.6 353.6L360.3 354.9L363.5 348.3M391.0 345.5L378.1 354.6M385.4 353.5L378.1 354.6L381.5 348.0M409.2 345.5L395.8 354.3M403.3 353.4L395.8 354.3L399.5 347.7M427.4 345.5L413.6 353.9M421.2 353.3L413.6 353.9L417.6 347.4M445.6 345.5L431.5 353.5M439.1 353.1L431.5 353.5L435.7 347.1M463.7 345.5L449.3 353.3M457.0 353.1L449.3 353.3L453.7 347.0M481.9 345.5L467.2 353.1M475.0 353.1L467.2 353.1L471.7 346.8M500.1 345.5L485.2 352.9M493.0 353.0L485.2 352.9L489.9 346.6M518.3 345.5L503.3 352.6M511.1 352.9L503.3 352.6L508.0 346.4M536.5 345.5L521.4 352.3M529.1 352.6L521.4 352.3L526.2 346.2M554.6 345.5L539.5 351.9M547.2 352.4L539.5 351.9L544.5 346.0M572.8 345.5L557.7 351.5M565.3 352.2L557.7 351.5L562.7 345.7M591.0 345.5L575.9 351.1M583.4 351.9L575.9 351.1L581.0 345.5M609.2 345.5L594.0 350.7M601.5 351.8L594.0 350.7L599.3 345.3M627.4 345.5L612.2 350.4M619.6 351.6L612.2 350.4L617.5 345.1M645.6 345.5L630.3 350.1M637.7 351.4L630.3 350.1L635.7 344.9M663.7 345.5L648.4 349.7M655.7 351.2L648.4 349.7L653.9 344.7M681.9 345.5L666.4 349.4M673.8 351.1L666.4 349.4L672.1 344.5M700.1 345.5L684.5 349.2M691.8 350.9L684.5 349.2L690.3 344.3M718.3 345.5L702.6 348.8M709.9 350.8L702.6 348.8L708.5 344.1M736.5 345.5L720.7 348.5M728.0 350.6L720.7 348.5L726.7 343.9M754.6 345.5L738.9 348.4M746.1 350.5L738.9 348.4L744.9 343.8M772.8 345.5L757.1 348.2M764.3 350.4L757.1 348.2L763.1 343.7M791.0 345.5L775.3 348.1M782.5 350.3L775.3 348.1L781.3 343.7M300.1 363.7L289.9 373.5M296.3 371.6L289.9 373.5L292.0 367.2M318.3 363.7L307.3 373.8M314.0 371.9L307.3 373.8L309.7 367.2M336.5 363.7L324.5 374.1M331.7 372.3L324.5 374.1L327.3 367.2M354.6 363.7L342.1 374.0M349.6 372.3L342.1 374.0L345.2 367.0M372.8 363.7L359.8 373.9M367.4 372.4L359.8 373.9L363.1 366.8M391.0 363.7L377.7 373.5M385.3 372.2L377.7 373.5L381.2 366.5M409.2 363.7L395.5 373.0M403.3 372.0L395.5 373.0L399.3 366.2M427.4 363.7L413.4 372.6M421.2 371.8L413.4 372.6L417.4 365.9M445.6 363.7L431.4 372.2M439.1 371.6L431.4 372.2L435.5 365.6M463.7 363.7L449.4 371.9M457.2 371.5L449.4 371.9L453.6 365.4M481.9 363.7L467.4 371.7M475.2 371.4L467.4 371.7L471.8 365.2M500.1 363.7L485.4 371.5M493.2 371.3L485.4 371.5L489.9 365.1M518.3 363.7L503.4 371.3M511.2 371.3L503.4 371.3L508.0 364.9M536.5 363.7L521.6 370.9M529.3 371.0L521.6 370.9L526.3 364.7M554.6 363.7L539.8 370.5M547.5 370.8L539.8 370.5L544.5 364.5M572.8 363.7L558.1 370.1M565.6 370.6L558.1 370.1L562.9 364.3M591.0 363.7L576.4 369.7M583.8 370.3L576.4 369.7L581.2 364.1M609.2 363.7L594.5 369.4M601.9 370.1L594.5 369.4L599.4 363.9M627.4 363.7L612.7 369.1M620.0 369.9L612.7 369.1L617.7 363.7M645.6 363.7L630.8 368.8M638.0 369.8L630.8 368.8L635.9 363.5M663.7 363.7L648.8 368.5M656.1 369.7L648.8 368.5L654.0 363.3M681.9 363.7L666.9 368.3M674.1 369.6L666.9 368.3L672.2 363.1M700.1 363.7L684.9 368.0M692.2 369.5L684.9 368.0L690.3 363.0M718.3 363.7L703.0 367.8M710.3 369.3L703.0 367.8L708.5 362.8M736.5 363.7L721.1 367.5M728.3 369.2L721.1 367.5L726.7 362.6M754.6 363.7L739.3 367.3M746.5 369.1L739.3 367.3L745.0 362.5M772.8 363.7L757.6 367.2M764.7 369.0L757.6 367.2L763.2 362.5M791.0 363.7L775.8 367.0M782.9 368.9L775.8 367.0L781.5 362.4M281.9 381.8L272.4 391.2M278.4 389.3L272.4 391.2L274.4 385.3M300.1 381.8L287.6 394.3M295.5 391.8L287.6 394.3L290.2 386.4M318.3 381.8L306.5 393.0M313.8 390.8L306.5 393.0L309.1 385.8M336.5 381.8L324.0 393.0M331.6 391.0L324.0 393.0L326.8 385.7M354.6 381.8L341.8 392.8M349.5 391.0L341.8 392.8L344.8 385.5M372.8 381.8L359.5 392.6M367.4 390.9L359.5 392.6L362.8 385.3M391.0 381.8L377.5 392.2M385.4 390.7L377.5 392.2L380.9 385.0M409.2 381.8L395.5 391.7M403.3 390.5L395.5 391.7L399.1 384.7M427.4 381.8L413.4 391.3M421.3 390.3L413.4 391.3L417.3 384.4M445.6 381.8L431.4 390.8M439.3 390.1L431.4 390.8L435.4 384.1M463.7 381.8L449.5 390.6M457.3 390.0L449.5 390.6L453.6 383.9M481.9 381.8L467.5 390.3M475.3 389.9L467.5 390.3L471.7 383.7M500.1 381.8L485.5 390.1M493.4 389.8L485.5 390.1L489.8 383.5M518.3 381.8L503.4 389.9M511.4 389.7L503.4 389.9L507.9 383.4M536.5 381.8L521.7 389.5M529.5 389.5L521.7 389.5L526.2 383.2M554.6 381.8L540.0 389.2M547.7 389.2L540.0 389.2L544.6 383.0M572.8 381.8L558.3 388.8M565.9 389.0L558.3 388.8L562.9 382.8M591.0 381.8L576.7 388.4M584.1 388.7L576.7 388.4L581.3 382.6M609.2 381.8L594.9 388.1M602.2 388.5L594.9 388.1L599.5 382.4M627.4 381.8L613.1 387.8M620.3 388.4L613.1 387.8L617.8 382.3M645.6 381.8L631.2 387.5M638.4 388.2L631.2 387.5L636.0 382.1M663.7 381.8L649.3 387.2M656.5 388.1L649.3 387.2L654.2 381.9M681.9 381.8L667.4 387.0M674.6 387.9L667.4 387.0L672.4 381.8M700.1 381.8L685.5 386.8M692.7 387.8L685.5 386.8L690.6 381.6M718.3 381.8L703.7 386.6M710.8 387.7L703.7 386.6L708.8 381.5M736.5 381.8L721.8 386.3M728.9 387.6L721.8 386.3L727.0 381.3M754.6 381.8L740.1 386.2M747.1 387.5L740.1 386.2L745.2 381.2M772.8 381.8L758.3 386.0M765.3 387.4L758.3 386.0L763.5 381.2M791.0 381.8L776.4 385.9M783.4 387.3L776.4 385.9L781.7 381.1M281.9 400.0L270.7 411.5M277.9 409.1L270.7 411.5L273.0 404.3M300.1 400.0L288.2 412.3M295.8 409.7L288.2 412.3L290.6 404.6M318.3 400.0L305.9 412.2M313.7 409.7L305.9 412.2L308.5 404.5M336.5 400.0L323.6 412.1M331.5 409.8L323.6 412.1L326.4 404.3M354.6 400.0L341.4 411.7M349.5 409.6L341.4 411.7L344.5 404.0M372.8 400.0L359.3 411.4M367.4 409.5L359.3 411.4L362.6 403.7M391.0 400.0L377.3 410.9M385.4 409.3L377.3 410.9L380.7 403.4M409.2 400.0L395.4 410.4M403.4 409.0L395.4 410.4L399.0 403.1M427.4 400.0L413.5 410.0M421.4 408.8L413.5 410.0L417.2 402.8M445.6 400.0L431.5 409.5M439.4 408.5L431.5 409.5L435.4 402.5M463.7 400.0L449.5 409.2M457.5 408.4L449.5 409.2L453.5 402.4M481.9 400.0L467.6 409.0M475.5 408.3L467.6 409.0L471.7 402.2M500.1 400.0L485.5 408.8M493.5 408.2L485.5 408.8L489.8 402.0M518.3 400.0L503.5 408.6M511.5 408.2L503.5 408.6L507.9 401.8M536.5 400.0L521.9 408.2M529.7 407.9L521.9 408.2L526.2 401.7M554.6 400.0L540.3 407.8M547.9 407.6L540.3 407.8L544.6 401.5M572.8 400.0L558.6 407.5M566.2 407.4L558.6 407.5L563.0 401.3M591.0 400.0L577.1 407.1M584.4 407.1L577.1 407.1L581.4 401.2M609.2 400.0L595.3 406.8M602.6 406.9L595.3 406.8L599.7 401.0M627.4 400.0L613.5 406.5M620.7 406.7L613.5 406.5L617.9 400.8M645.6 400.0L631.7 406.2M638.8 406.6L631.7 406.2L636.2 400.7M663.7 400.0L649.8 405.9M656.9 406.4L649.8 405.9L654.4 400.5M681.9 400.0L668.0 405.7M675.0 406.3L668.0 405.7L672.6 400.4M700.1 400.0L686.2 405.5M693.2 406.2L686.2 405.5L690.9 400.2M718.3 400.0L704.4 405.3M711.3 406.0L704.4 405.3L709.1 400.1M736.5 400.0L722.6 405.1M729.5 405.9L722.6 405.1L727.3 400.0M754.6 400.0L740.8 404.9M747.7 405.8L740.8 404.9L745.6 399.9M772.8 400.0L759.0 404.8M765.8 405.7L759.0 404.8L763.8 399.8M791.0 400.0L777.1 404.7M783.9 405.7L777.1 404.7L781.9 399.8M300.1 418.2L289.8 429.3M296.5 426.8L289.8 429.3L291.7 422.4M318.3 418.2L307.6 429.1M314.4 426.8L307.6 429.1L309.7 422.3M336.5 418.2L324.1 430.3M331.8 427.9L324.1 430.3L326.7 422.6M354.6 418.2L341.5 430.4M349.6 428.1L341.5 430.4L344.4 422.5M372.8 418.2L359.3 430.1M367.5 428.0L359.3 430.1L362.4 422.3M391.0 418.2L377.4 429.7M385.5 427.8L377.4 429.7L380.6 422.0M409.2 418.2L395.4 429.3M403.6 427.6L395.4 429.3L398.8 421.7M427.4 418.2L413.5 428.8M421.6 427.3L413.5 428.8L417.1 421.4M445.6 418.2L431.6 428.3M439.6 427.0L431.6 428.3L435.3 421.1M463.7 418.2L449.7 428.0M457.7 426.9L449.7 428.0L453.5 420.9M481.9 418.2L467.7 427.8M475.7 426.8L467.7 427.8L471.6 420.7M500.1 418.2L485.7 427.5M493.7 426.7L485.7 427.5L489.8 420.6M518.3 418.2L503.7 427.3M511.8 426.6L503.7 427.3L507.9 420.4M536.5 418.2L522.0 427.0M530.0 426.4L522.0 427.0L526.2 420.2M554.6 418.2L540.4 426.6M548.2 426.2L540.4 426.6L544.6 420.1M572.8 418.2L558.9 426.2M566.4 425.9L558.9 426.2L563.0 419.9M591.0 418.2L577.3 425.9M584.7 425.6L577.3 425.9L581.4 419.7M609.2 418.2L595.6 425.6M602.8 425.4L595.6 425.6L599.7 419.6M627.4 418.2L613.8 425.3M621.0 425.2L613.8 425.3L618.0 419.4M645.6 418.2L632.0 425.0M639.1 425.1L632.0 425.0L636.2 419.3M663.7 418.2L650.2 424.7M657.3 424.9L650.2 424.7L654.5 419.1M681.9 418.2L668.4 424.5M675.4 424.7L668.4 424.5L672.7 419.0M700.1 418.2L686.6 424.3M693.6 424.6L686.6 424.3L691.0 418.9M718.3 418.2L704.8 424.1M711.7 424.5L704.8 424.1L709.2 418.7M736.5 418.2L723.0 423.8M729.9 424.4L723.0 423.8L727.4 418.6M754.6 418.2L741.2 423.7M748.0 424.3L741.2 423.7L745.7 418.5M772.8 418.2L759.4 423.6M766.2 424.2L759.4 423.6L763.9 418.5M791.0 418.2L777.4 423.5M784.2 424.2L777.4 423.5L782.0 418.4M336.5 436.4L325.1 447.9M332.3 445.5L325.1 447.9L327.4 440.7M354.6 436.4L341.6 449.1M349.8 446.5L341.6 449.1L344.4 441.0M372.8 436.4L359.4 448.9M367.7 446.5L359.4 448.9L362.4 440.8M391.0 436.4L377.4 448.5M385.7 446.3L377.4 448.5L380.5 440.5M409.2 436.4L395.5 448.1M403.7 446.1L395.5 448.1L398.7 440.3M427.4 436.4L413.6 447.6M421.8 445.8L413.6 447.6L417.0 440.0M445.6 436.4L431.8 447.1M439.9 445.6L431.8 447.1L435.3 439.7M463.7 436.4L449.9 446.8M457.9 445.4L449.9 446.8L453.4 439.5M481.9 436.4L467.9 446.5M476.0 445.3L467.9 446.5L471.6 439.3M500.1 436.4L485.9 446.3M494.0 445.2L485.9 446.3L489.8 439.1M518.3 436.4L504.0 446.1M512.0 445.1L504.0 446.1L507.9 439.0M536.5 436.4L522.3 445.7M530.2 444.9L522.3 445.7L526.2 438.8M554.6 436.4L540.6 445.4M548.4 444.7L540.6 445.4L544.5 438.7M572.8 436.4L559.1 445.0M566.7 444.3L559.1 445.0L563.0 438.5M591.0 436.4L577.7 444.6M585.0 444.0L577.7 444.6L581.5 438.3M609.2 436.4L595.9 444.3M603.1 443.8L595.9 444.3L599.8 438.2M627.4 436.4L614.1 444.0M621.3 443.7L614.1 444.0L618.0 438.0M645.6 436.4L632.4 443.8M639.5 443.5L632.4 443.8L636.3 437.9M663.7 436.4L650.6 443.5M657.6 443.3L650.6 443.5L654.6 437.7M681.9 436.4L668.9 443.3M675.8 443.2L668.9 443.3L672.9 437.6M700.1 436.4L687.1 443.0M694.0 443.0L687.1 443.0L691.1 437.5M718.3 436.4L705.3 442.8M712.1 442.9L705.3 442.8L709.4 437.3M736.5 436.4L723.5 442.6M730.2 442.8L723.5 442.6L727.6 437.2M754.6 436.4L741.6 442.5M748.4 442.7L741.6 442.5L745.8 437.1M772.8 436.4L759.7 442.4M766.5 442.7L759.7 442.4L763.9 437.1M791.0 436.4L777.7 442.3M784.5 442.7L777.7 442.3L782.0 437.0M336.5 454.6L325.4 466.4M332.5 463.8L325.4 466.4L327.5 459.1M354.6 454.6L342.2 467.3M350.1 464.6L342.2 467.3L344.7 459.3M372.8 454.6L360.0 467.2M368.1 464.6L360.0 467.2L362.7 459.2M391.0 454.6L378.0 466.9M386.1 464.5L378.0 466.9L380.8 458.9M409.2 454.6L396.0 466.6M404.1 464.4L396.0 466.6L399.0 458.7M427.4 454.6L414.2 466.1M422.2 464.1L414.2 466.1L417.3 458.5M445.6 454.6L432.4 465.6M440.3 463.8L432.4 465.6L435.5 458.2M463.7 454.6L450.8 465.1M458.4 463.4L450.8 465.1L454.0 457.9M481.9 454.6L469.2 464.5M476.6 463.1L469.2 464.5L472.4 457.6M500.1 454.6L487.2 464.3M494.7 463.0L487.2 464.3L490.5 457.5M518.3 454.6L505.2 464.0M512.7 462.9L505.2 464.0L508.7 457.3M536.5 454.6L523.2 464.0M530.8 462.9L523.2 464.0L526.7 457.2M554.6 454.6L541.1 464.0M548.8 462.9L541.1 464.0L544.8 457.2M572.8 454.6L559.5 463.7M567.0 462.7L559.5 463.7L563.2 457.0M591.0 454.6L577.9 463.3M585.3 462.5L577.9 463.3L581.5 456.9M609.2 454.6L596.3 463.0M603.5 462.2L596.3 463.0L599.9 456.7M627.4 454.6L614.6 462.7M621.7 462.0L614.6 462.7L618.2 456.6M645.6 454.6L632.9 462.4M639.9 461.8L632.9 462.4L636.6 456.4M663.7 454.6L651.3 462.1M658.1 461.6L651.3 462.1L654.9 456.3M681.9 454.6L669.5 461.9M676.3 461.4L669.5 461.9L673.2 456.2M700.1 454.6L687.8 461.6M694.5 461.3L687.8 461.6L691.5 456.0M718.3 454.6L706.0 461.4M712.6 461.1L706.0 461.4L709.7 455.9M736.5 454.6L724.2 461.2M730.7 461.0L724.2 461.2L727.9 455.8M754.6 454.6L742.3 461.1M748.8 461.0L742.3 461.1L746.1 455.7M772.8 454.6L760.3 461.0M766.9 461.0L760.3 461.0L764.2 455.6M791.0 454.6L778.3 461.0M785.0 461.0L778.3 461.0L782.3 455.6M336.5 472.8L325.9 484.5M332.8 481.9L325.9 484.5L327.8 477.3M354.6 472.8L342.8 485.5M350.5 482.7L342.8 485.5L345.0 477.6M372.8 472.8L360.6 485.4M368.4 482.7L360.6 485.4L363.0 477.5M391.0 472.8L378.5 485.2M386.4 482.7L378.5 485.2L381.1 477.3M409.2 472.8L396.5 485.0M404.4 482.6L396.5 485.0L399.2 477.2M427.4 472.8L414.7 484.5M422.5 482.3L414.7 484.5L417.5 476.9M445.6 472.8L433.0 484.1M440.7 482.0L433.0 484.1L435.8 476.7M463.7 472.8L451.6 483.3M459.0 481.4L451.6 483.3L454.5 476.3M481.9 472.8L470.3 482.5M477.3 480.9L470.3 482.5L473.1 475.9M500.1 472.8L488.4 482.2M495.3 480.7L488.4 482.2L491.3 475.8M518.3 472.8L506.5 482.0M513.4 480.6L506.5 482.0L509.5 475.6M536.5 472.8L524.1 482.2M531.3 480.9L524.1 482.2L527.3 475.6M554.6 472.8L541.7 482.5M549.2 481.2L541.7 482.5L545.0 475.7M572.8 472.8L559.9 482.3M567.4 481.0L559.9 482.3L563.3 475.5M591.0 472.8L578.2 482.1M585.5 480.9L578.2 482.1L581.6 475.4M609.2 472.8L596.7 481.7M603.8 480.6L596.7 481.7L600.0 475.3M627.4 472.8L615.1 481.3M622.1 480.3L615.1 481.3L618.4 475.1M645.6 472.8L633.5 481.0M640.3 480.1L633.5 481.0L636.8 475.0M663.7 472.8L651.9 480.7M658.6 479.9L651.9 480.7L655.2 474.9M681.9 472.8L670.3 480.4M676.8 479.7L670.3 480.4L673.5 474.7M700.1 472.8L688.6 480.1M695.0 479.5L688.6 480.1L691.8 474.6M718.3 472.8L706.7 479.9M713.1 479.4L706.7 479.9L710.0 474.4M736.5 472.8L724.9 479.7M731.2 479.3L724.9 479.7L728.3 474.3M754.6 472.8L742.9 479.7M749.3 479.3L742.9 479.7L746.4 474.3M772.8 472.8L761.0 479.6M767.4 479.3L761.0 479.6L764.5 474.2M791.0 472.8L778.9 479.6M785.5 479.3L778.9 479.6L782.5 474.1M318.3 490.9L309.3 502.0M315.4 499.3L309.3 502.0L310.7 495.5M336.5 490.9L326.3 503.1M333.2 500.2L326.3 503.1L328.0 495.8M354.6 490.9L343.9 503.4M351.1 500.5L343.9 503.4L345.8 495.9M372.8 490.9L361.8 503.3M369.1 500.5L361.8 503.3L363.8 495.8M391.0 490.9L379.7 503.2M387.0 500.4L379.7 503.2L381.8 495.6M409.2 490.9L397.6 503.0M405.0 500.4L397.6 503.0L399.9 495.5M427.4 490.9L415.9 502.4M423.2 500.0L415.9 502.4L418.3 495.2M445.6 490.9L434.3 501.8M441.3 499.7L434.3 501.8L436.7 494.9M463.7 490.9L452.7 501.3M459.5 499.3L452.7 501.3L455.1 494.6M481.9 490.9L471.1 500.7M477.7 498.9L471.1 500.7L473.5 494.3M500.1 490.9L489.0 500.6M495.7 498.9L489.0 500.6L491.6 494.2M518.3 490.9L506.9 500.5M513.7 498.9L506.9 500.5L509.6 494.1M536.5 490.9L524.5 500.9M531.6 499.3L524.5 500.9L527.4 494.2M554.6 490.9L542.0 501.3M549.5 499.7L542.0 501.3L545.1 494.3M572.8 490.9L560.3 501.0M567.7 499.5L560.3 501.0L563.4 494.1M591.0 490.9L578.6 500.7M585.9 499.3L578.6 500.7L581.7 494.0M609.2 490.9L597.1 500.3M604.2 498.9L597.1 500.3L600.2 493.8M627.4 490.9L615.7 499.9M622.5 498.6L615.7 499.9L618.7 493.6M645.6 490.9L634.3 499.5M640.8 498.3L634.3 499.5L637.2 493.5M663.7 490.9L652.8 499.1M659.1 498.0L652.8 499.1L655.6 493.4M681.9 490.9L671.1 498.9M677.3 497.8L671.1 498.9L673.9 493.2M700.1 490.9L689.4 498.6M695.5 497.7L689.4 498.6L692.3 493.1M718.3 490.9L707.6 498.4M713.7 497.6L707.6 498.4L710.5 493.0M736.5 490.9L725.8 498.3M731.8 497.5L725.8 498.3L728.7 492.9M754.6 490.9L743.8 498.3M749.9 497.5L743.8 498.3L746.8 492.9M772.8 490.9L761.9 498.2M768.0 497.5L761.9 498.2L764.9 492.8M791.0 490.9L779.9 498.3M786.1 497.6L779.9 498.3L783.0 492.8M300.1 509.1L292.2 520.0M297.8 517.2L292.2 520.0L293.2 513.8M318.3 509.1L309.2 521.2M315.6 518.1L309.2 521.2L310.4 514.2M336.5 509.1L327.0 521.4M333.6 518.3L327.0 521.4L328.3 514.2M354.6 509.1L345.0 521.2M351.6 518.2L345.0 521.2L346.4 514.1M372.8 509.1L363.0 521.1M369.7 518.2L363.0 521.1L364.6 514.0M391.0 509.1L380.8 521.0M387.6 518.2L380.8 521.0L382.5 513.9M409.2 509.1L398.6 520.9M405.6 518.2L398.6 520.9L400.5 513.7M427.4 509.1L417.1 520.2M423.8 517.8L417.1 520.2L419.0 513.4M445.6 509.1L435.6 519.5M442.0 517.3L435.6 519.5L437.5 513.0M463.7 509.1L453.7 519.2M460.1 517.1L453.7 519.2L455.8 512.8M481.9 509.1L471.9 518.9M478.2 517.0L471.9 518.9L474.0 512.7M500.1 509.1L489.6 519.0M496.1 517.1L489.6 519.0L491.9 512.6M518.3 509.1L507.4 519.1M514.1 517.2L507.4 519.1L509.8 512.6M536.5 509.1L524.8 519.6M531.9 517.7L524.8 519.6L527.5 512.7M554.6 509.1L542.2 520.1M549.8 518.1L542.2 520.1L545.1 512.8M572.8 509.1L560.6 519.7M568.0 517.9L560.6 519.7L563.5 512.7M591.0 509.1L579.0 519.4M586.2 517.7L579.0 519.4L581.8 512.5M609.2 509.1L597.7 518.9M604.6 517.3L597.7 518.9L600.4 512.3M627.4 509.1L616.3 518.4M622.9 516.9L616.3 518.4L619.0 512.1M645.6 509.1L635.0 517.9M641.3 516.5L635.0 517.9L637.5 512.0M663.7 509.1L653.6 517.5M659.6 516.1L653.6 517.5L656.1 511.8M681.9 509.1L671.9 517.2M677.8 516.0L671.9 517.2L674.4 511.7M700.1 509.1L690.3 517.0M696.1 515.8L690.3 517.0L692.7 511.6M718.3 509.1L708.5 516.9M714.2 515.7L708.5 516.9L710.9 511.5M736.5 509.1L726.7 516.8M732.4 515.7L726.7 516.8L729.1 511.5M754.6 509.1L744.8 516.8M750.5 515.7L744.8 516.8L747.3 511.5M772.8 509.1L762.8 516.8M768.7 515.7L762.8 516.8L765.4 511.4M791.0 509.1L780.8 516.9M786.7 515.8L780.8 516.9L783.4 511.4M281.9 527.3L274.0 539.1M279.9 535.9L274.0 539.1L274.8 532.5M300.1 527.3L291.5 540.0M297.8 536.5L291.5 540.0L292.4 532.8M318.3 527.3L309.5 539.9M315.9 536.5L309.5 539.9L310.5 532.8M336.5 527.3L327.4 540.0M333.9 536.6L327.4 540.0L328.5 532.7M354.6 527.3L345.5 539.8M352.0 536.5L345.5 539.8L346.6 532.6M372.8 527.3L363.5 539.6M370.0 536.4L363.5 539.6L364.8 532.4M391.0 527.3L381.4 539.4M388.0 536.4L381.4 539.4L382.8 532.3M409.2 527.3L399.3 539.3M406.0 536.4L399.3 539.3L400.9 532.2M427.4 527.3L417.6 538.6M424.1 536.0L417.6 538.6L419.3 531.8M445.6 527.3L436.0 537.9M442.3 535.5L436.0 537.9L437.7 531.4M463.7 527.3L454.1 537.7M460.3 535.4L454.1 537.7L455.9 531.3M481.9 527.3L472.2 537.5M478.4 535.3L472.2 537.5L474.1 531.2M500.1 527.3L489.9 537.7M496.4 535.5L489.9 537.7L492.0 531.2M518.3 527.3L507.7 537.8M514.4 535.7L507.7 537.8L509.9 531.1M536.5 527.3L525.2 538.3M532.3 536.1L525.2 538.3L527.6 531.3M554.6 527.3L542.7 538.8M550.1 536.5L542.7 538.8L545.2 531.4M572.8 527.3L561.1 538.4M568.3 536.2L561.1 538.4L563.6 531.2M591.0 527.3L579.4 538.0M586.6 536.0L579.4 538.0L582.0 531.0M609.2 527.3L598.2 537.4M605.0 535.5L598.2 537.4L600.6 530.8M627.4 527.3L617.0 536.8M623.4 535.1L617.0 536.8L619.3 530.6M645.6 527.3L635.6 536.4M641.7 534.7L635.6 536.4L637.8 530.4M663.7 527.3L654.3 535.9M660.1 534.3L654.3 535.9L656.4 530.3M681.9 527.3L672.7 535.7M678.3 534.1L672.7 535.7L674.8 530.2M700.1 527.3L691.1 535.4M696.6 533.9L691.1 535.4L693.1 530.1M718.3 527.3L709.3 535.3M714.8 533.9L709.3 535.3L711.4 530.0M736.5 527.3L727.6 535.2M733.0 533.8L727.6 535.2L729.6 530.0M754.6 527.3L745.7 535.2M751.1 533.8L745.7 535.2L747.8 530.0M772.8 527.3L763.8 535.2M769.3 533.8L763.8 535.2L765.9 530.0M791.0 527.3L781.9 535.3M787.4 533.9L781.9 535.3L784.0 530.0M263.7 545.5L256.4 557.7M262.1 554.1L256.4 557.7L256.9 551.0M281.9 545.5L273.8 558.7M280.0 554.9L273.8 558.7L274.4 551.4M300.1 545.5L291.7 558.9M298.1 555.1L291.7 558.9L292.4 551.5M318.3 545.5L309.8 558.7M316.2 555.0L309.8 558.7L310.5 551.4M336.5 545.5L327.8 558.5M334.2 554.9L327.8 558.5L328.7 551.2M354.6 545.5L345.9 558.3M352.3 554.8L345.9 558.3L346.9 551.1M372.8 545.5L364.1 558.0M370.4 554.6L364.1 558.0L365.1 550.9M391.0 545.5L382.0 557.8M388.4 554.6L382.0 557.8L383.1 550.7M409.2 545.5L399.9 557.6M406.4 554.5L399.9 557.6L401.2 550.5M427.4 545.5L418.1 557.0M424.5 554.1L418.1 557.0L419.5 550.2M445.6 545.5L436.4 556.4M442.6 553.8L436.4 556.4L437.9 549.9M463.7 545.5L454.5 556.3M460.6 553.7L454.5 556.3L456.0 549.8M481.9 545.5L472.5 556.1M478.7 553.7L472.5 556.1L474.2 549.7M500.1 545.5L490.2 556.3M496.7 553.9L490.2 556.3L492.0 549.7M518.3 545.5L508.0 556.5M514.6 554.1L508.0 556.5L509.9 549.7M536.5 545.5L525.6 557.0M532.6 554.5L525.6 557.0L527.7 549.8M554.6 545.5L543.1 557.4M550.5 554.9L543.1 557.4L545.4 550.0M572.8 545.5L561.5 557.0M568.7 554.6L561.5 557.0L563.8 549.8M591.0 545.5L579.9 556.6M586.9 554.3L579.9 556.6L582.2 549.6M609.2 545.5L598.8 555.9M605.4 553.8L598.8 555.9L600.9 549.3M627.4 545.5L617.6 555.3M623.8 553.3L617.6 555.3L619.6 549.1M645.6 545.5L636.3 554.8M642.1 552.9L636.3 554.8L638.2 548.9M663.7 545.5L655.0 554.3M660.5 552.5L655.0 554.3L656.8 548.7M681.9 545.5L673.4 554.0M678.8 552.3L673.4 554.0L675.1 548.6M700.1 545.5L691.8 553.8M697.1 552.1L691.8 553.8L693.5 548.5M718.3 545.5L710.1 553.6M715.3 552.0L710.1 553.6L711.8 548.5M736.5 545.5L728.4 553.5M733.5 551.9L728.4 553.5L730.1 548.4M754.6 545.5L746.6 553.5M751.7 551.9L746.6 553.5L748.3 548.4M772.8 545.5L764.8 553.5M769.9 551.9L764.8 553.5L766.5 548.4M791.0 545.5L782.9 553.6M788.0 552.0L782.9 553.6L784.5 548.5M245.6 563.7L239.3 576.4M244.6 572.4L239.3 576.4L239.2 569.7M263.7 563.7L256.7 577.2M262.5 573.1L256.7 577.2L256.7 570.0M281.9 563.7L274.0 578.2M280.4 573.8L274.0 578.2L274.2 570.4M300.1 563.7L291.6 578.4M298.3 574.0L291.6 578.4L292.0 570.4M318.3 563.7L309.6 578.0M316.3 573.8L309.6 578.0L310.2 570.2M336.5 563.7L327.7 577.6M334.3 573.6L327.7 577.6L328.4 569.9M354.6 563.7L345.8 577.2M352.4 573.4L345.8 577.2L346.6 569.7M372.8 563.7L363.9 576.8M370.4 573.2L363.9 576.8L364.8 569.4M391.0 563.7L381.8 576.5M388.4 573.1L381.8 576.5L382.9 569.2M409.2 563.7L399.8 576.2M406.4 573.0L399.8 576.2L401.1 569.0M427.4 563.7L418.1 575.6M424.5 572.6L418.1 575.6L419.4 568.6M445.6 563.7L436.3 575.0M442.6 572.2L436.3 575.0L437.8 568.3M463.7 563.7L454.4 574.8M460.7 572.2L454.4 574.8L455.9 568.2M481.9 563.7L472.4 574.7M478.7 572.1L472.4 574.7L474.0 568.1M500.1 563.7L490.1 575.0M496.7 572.4L490.1 575.0L491.9 568.1M518.3 563.7L507.8 575.2M514.7 572.6L507.8 575.2L509.7 568.1M536.5 563.7L525.6 575.5M532.7 572.9L525.6 575.5L527.6 568.2M554.6 563.7L543.4 575.8M550.7 573.1L543.4 575.8L545.5 568.3M572.8 563.7L561.9 575.3M568.9 572.8L561.9 575.3L564.0 568.1M591.0 563.7L580.4 574.8M587.2 572.4L580.4 574.8L582.5 567.9M609.2 563.7L599.2 574.2M605.6 571.9L599.2 574.2L601.1 567.6M627.4 563.7L618.0 573.6M624.0 571.4L618.0 573.6L619.8 567.4M645.6 563.7L636.7 573.1M642.4 571.0L636.7 573.1L638.4 567.2M663.7 563.7L655.4 572.5M660.8 570.6L655.4 572.5L657.0 567.0M681.9 563.7L673.9 572.2M679.1 570.3L673.9 572.2L675.5 566.9M700.1 563.7L692.4 571.9M697.4 570.1L692.4 571.9L693.9 566.8M718.3 563.7L710.8 571.7M715.7 569.9L710.8 571.7L712.2 566.8M736.5 563.7L729.2 571.6M733.9 569.8L729.2 571.6L730.6 566.7M754.6 563.7L747.5 571.6M752.2 569.8L747.5 571.6L748.8 566.7M772.8 563.7L765.7 571.5M770.4 569.8L765.7 571.5L767.0 566.7M791.0 563.7L783.8 571.7M788.5 569.8L783.8 571.7L785.1 566.8M209.2 581.8L204.7 595.0M209.4 590.4L204.7 595.0L203.8 588.5M227.4 581.8L222.6 595.0M227.4 590.5L222.6 595.0L221.8 588.5M245.6 581.8L239.6 596.5M245.2 591.6L239.6 596.5L239.0 589.1M263.7 581.8L256.6 598.0M263.0 592.7L256.6 598.0L256.1 589.7M281.9 581.8L274.1 597.9M280.8 592.9L274.1 597.9L273.9 589.5M300.1 581.8L291.6 597.9M298.6 593.0L291.6 597.9L291.7 589.4M318.3 581.8L309.6 597.3M316.5 592.7L309.6 597.3L309.9 589.0M336.5 581.8L327.6 596.7M334.5 592.4L327.6 596.7L328.2 588.6M354.6 581.8L345.6 596.2M352.5 592.1L345.6 596.2L346.4 588.3M372.8 581.8L363.7 595.7M370.5 591.8L363.7 595.7L364.6 587.9M391.0 581.8L381.7 595.2M388.5 591.6L381.7 595.2L382.8 587.6M409.2 581.8L399.8 594.8M406.5 591.4L399.8 594.8L401.0 587.4M427.4 581.8L418.0 594.2M424.6 591.0L418.0 594.2L419.3 587.0M445.6 581.8L436.3 593.5M442.6 590.6L436.3 593.5L437.7 586.7M463.7 581.8L454.3 593.4M460.7 590.6L454.3 593.4L455.8 586.6M481.9 581.8L472.3 593.3M478.8 590.5L472.3 593.3L473.9 586.4M500.1 581.8L490.0 593.6M496.7 590.8L490.0 593.6L491.7 586.5M518.3 581.8L507.7 593.8M514.7 591.1L507.7 593.8L509.6 586.6M536.5 581.8L525.6 594.0M532.8 591.2L525.6 594.0L527.6 586.6M554.6 581.8L543.6 594.2M550.8 591.4L543.6 594.2L545.6 586.6M572.8 581.8L562.2 593.6M569.1 590.9L562.2 593.6L564.1 586.4M591.0 581.8L580.8 593.0M587.5 590.5L580.8 593.0L582.7 586.1M609.2 581.8L599.6 592.4M605.9 590.1L599.6 592.4L601.3 585.9M627.4 581.8L618.3 591.9M624.3 589.6L618.3 591.9L620.0 585.7M645.6 581.8L637.1 591.3M642.7 589.2L637.1 591.3L638.6 585.5M663.7 581.8L655.9 590.7M661.1 588.7L655.9 590.7L657.3 585.3M681.9 581.8L674.5 590.4M679.4 588.4L674.5 590.4L675.8 585.2M700.1 581.8L693.1 590.0M697.7 588.1L693.1 590.0L694.3 585.1M718.3 581.8L711.5 589.8M716.0 587.9L711.5 589.8L712.7 585.0M736.5 581.8L730.0 589.6M734.3 587.7L730.0 589.6L731.1 585.0M754.6 581.8L748.3 589.5M752.6 587.7L748.3 589.5L749.3 585.0M772.8 581.8L766.6 589.5M770.8 587.6L766.6 589.5L767.6 585.0M791.0 581.8L784.7 589.6M789.0 587.7L784.7 589.6L785.7 585.0M136.5 600.0L135.2 608.0M137.4 604.9L135.2 608.0L134.0 604.4M154.6 600.0L152.7 612.3M156.1 607.6L152.7 612.3L150.9 606.7M172.8 600.0L170.3 613.8M174.3 608.6L170.3 613.8L168.4 607.5M191.0 600.0L187.9 614.5M192.3 609.1L187.9 614.5L186.1 607.8M209.2 600.0L205.5 615.3M210.3 609.7L205.5 615.3L203.8 608.1M227.4 600.0L223.2 615.6M228.3 610.0L223.2 615.6L221.6 608.2M245.6 600.0L240.3 616.4M246.0 610.6L240.3 616.4L239.0 608.4M263.7 600.0L257.4 617.1M263.7 611.3L257.4 617.1L256.4 608.6M281.9 600.0L274.7 616.9M281.3 611.4L274.7 616.9L274.1 608.3M300.1 600.0L291.9 616.8M298.9 611.5L291.9 616.8L291.8 608.0M318.3 600.0L309.9 616.0M316.8 611.1L309.9 616.0L310.0 607.5M336.5 600.0L327.9 615.3M334.7 610.8L327.9 615.3L328.2 607.1M354.6 600.0L345.9 614.6M352.7 610.3L345.9 614.6L346.5 606.6M372.8 600.0L364.0 613.8M370.6 609.9L364.0 613.8L364.7 606.1M391.0 600.0L382.1 613.3M388.6 609.6L382.1 613.3L383.0 605.8M409.2 600.0L400.2 612.7M406.7 609.3L400.2 612.7L401.3 605.5M427.4 600.0L418.4 612.2M424.7 609.0L418.4 612.2L419.6 605.2M445.6 600.0L436.6 611.6M442.8 608.7L436.6 611.6L437.9 604.9M463.7 600.0L454.6 611.5M460.9 608.6L454.6 611.5L456.0 604.8M481.9 600.0L472.6 611.4M478.9 608.6L472.6 611.4L474.1 604.6M500.1 600.0L490.3 611.7M496.9 608.9L490.3 611.7L491.9 604.7M518.3 600.0L507.9 612.1M514.8 609.3L507.9 612.1L509.7 604.8M536.5 600.0L526.0 612.2M532.9 609.3L526.0 612.2L527.8 604.8M554.6 600.0L544.0 612.3M551.1 609.4L544.0 612.3L545.9 604.9M572.8 600.0L562.6 611.7M569.4 609.0L562.6 611.7L564.4 604.6M591.0 600.0L581.3 611.1M587.7 608.6L581.3 611.1L583.0 604.4M609.2 600.0L600.0 610.6M606.1 608.1L600.0 610.6L601.6 604.2M627.4 600.0L618.8 610.1M624.5 607.7L618.8 610.1L620.2 604.0M645.6 600.0L637.6 609.5M642.9 607.3L637.6 609.5L638.9 603.8M663.7 600.0L656.3 609.0M661.3 606.8L656.3 609.0L657.5 603.6M681.9 600.0L674.9 608.6M679.7 606.5L674.9 608.6L676.0 603.5M700.1 600.0L693.5 608.3M698.0 606.3L693.5 608.3L694.5 603.4M718.3 600.0L712.0 608.1M716.3 606.0L712.0 608.1L712.9 603.4M736.5 600.0L730.5 607.8M734.7 605.8L730.5 607.8L731.3 603.3M754.6 600.0L748.8 607.8M752.9 605.8L748.8 607.8L749.6 603.3M772.8 600.0L767.2 607.7M771.2 605.7L767.2 607.7L767.9 603.3M791.0 600.0L785.4 607.8M789.4 605.8L785.4 607.8L786.1 603.4M27.4 618.2L23.8 636.6M29.2 629.7L23.8 636.6L21.4 628.1M45.6 618.2L43.3 634.3M47.7 628.0L43.3 634.3L40.8 627.1M63.7 618.2L62.6 631.7M65.9 626.3L62.6 631.7L60.2 625.8M81.9 618.2L81.5 629.9M84.2 625.1L81.5 629.9L79.2 624.9M100.1 618.2L99.7 629.4M102.3 624.8L99.7 629.4L97.5 624.6M118.3 618.2L117.9 629.4M120.4 624.8L117.9 629.4L115.7 624.6M136.5 618.2L136.0 630.1M138.8 625.2L136.0 630.1L133.7 625.0M154.6 618.2L154.2 631.5M157.2 626.0L154.2 631.5L151.5 625.8M172.8 618.2L171.8 633.1M175.4 627.1L171.8 633.1L169.0 626.6M191.0 618.2L189.4 633.6M193.4 627.5L189.4 633.6L186.8 626.8M209.2 618.2L206.9 634.2M211.3 628.0L206.9 634.2L204.5 627.0M227.4 618.2L224.4 634.9M229.2 628.5L224.4 634.9L222.1 627.3M245.6 618.2L241.4 635.5M246.8 629.2L241.4 635.5L239.4 627.4M263.7 618.2L258.3 636.1M264.4 629.8L258.3 636.1L256.7 627.4M281.9 618.2L275.3 635.9M281.8 629.9L275.3 635.9L274.3 627.1M300.1 618.2L292.3 635.6M299.3 630.0L292.3 635.6L291.9 626.7M318.3 618.2L310.2 634.8M317.1 629.6L310.2 634.8L310.0 626.1M336.5 618.2L328.1 633.9M335.0 629.1L328.1 633.9L328.2 625.6M354.6 618.2L346.1 632.9M352.8 628.6L346.1 632.9L346.6 625.0M372.8 618.2L364.2 631.9M370.8 628.0L364.2 631.9L364.9 624.4M391.0 618.2L382.4 631.3M388.8 627.7L382.4 631.3L383.2 624.0M409.2 618.2L400.6 630.7M406.9 627.3L400.6 630.7L401.6 623.6M427.4 618.2L418.7 630.2M424.9 627.0L418.7 630.2L419.8 623.3M445.6 618.2L436.9 629.7M443.0 626.7L436.9 629.7L438.1 623.0M463.7 618.2L454.9 629.6M461.0 626.7L454.9 629.6L456.2 622.9M481.9 618.2L473.0 629.5M479.1 626.7L473.0 629.5L474.3 622.8M500.1 618.2L490.5 629.9M497.0 627.1L490.5 629.9L492.0 623.0M518.3 618.2L508.1 630.3M515.0 627.4L508.1 630.3L509.8 623.1M536.5 618.2L526.3 630.3M533.1 627.4L526.3 630.3L528.0 623.1M554.6 618.2L544.5 630.3M551.3 627.4L544.5 630.3L546.1 623.1M572.8 618.2L563.1 629.8M569.6 627.0L563.1 629.8L564.7 622.9M591.0 618.2L581.8 629.2M588.0 626.6L581.8 629.2L583.3 622.6M609.2 618.2L600.5 628.8M606.4 626.2L600.5 628.8L601.9 622.5M627.4 618.2L619.2 628.3M624.8 625.8L619.2 628.3L620.5 622.3M645.6 618.2L638.0 627.7M643.2 625.3L638.0 627.7L639.1 622.1M663.7 618.2L656.8 627.1M661.6 624.9L656.8 627.1L657.8 621.9M681.9 618.2L675.3 626.9M679.9 624.7L675.3 626.9L676.2 621.8M700.1 618.2L693.9 626.6M698.3 624.4L693.9 626.6L694.7 621.8M718.3 618.2L712.4 626.3M716.6 624.2L712.4 626.3L713.2 621.7M736.5 618.2L731.0 626.0M735.0 623.9L731.0 626.0L731.6 621.6M754.6 618.2L749.4 625.9M753.2 623.8L749.4 625.9L749.9 621.6M772.8 618.2L767.8 625.9M771.5 623.7L767.8 625.9L768.2 621.6M791.0 618.2L786.0 626.0M789.8 623.8L786.0 626.0L786.4 621.7M9.2 636.4L4.6 654.9M10.5 648.1L4.6 654.9L2.6 646.2M27.4 636.4L23.6 654.7M29.1 647.8L23.6 654.7L21.3 646.3M45.6 636.4L42.8 654.0M47.7 647.2L42.8 654.0L40.2 646.0M63.7 636.4L61.8 653.2M66.2 646.6L61.8 653.2L59.0 645.8M81.9 636.4L80.8 652.4M84.7 645.9L80.8 652.4L77.9 645.4M100.1 636.4L99.2 651.5M102.8 645.4L99.2 651.5L96.3 645.0M118.3 636.4L117.5 651.1M121.0 645.1L117.5 651.1L114.7 644.8M136.5 636.4L135.8 651.1M139.2 645.1L135.8 651.1L132.9 644.8M154.6 636.4L154.1 651.7M157.6 645.4L154.1 651.7L151.1 645.2M172.8 636.4L171.7 652.4M175.6 645.9L171.7 652.4L168.8 645.4M191.0 636.4L189.3 653.2M193.6 646.5L189.3 653.2L186.4 645.8M209.2 636.4L207.0 652.9M211.4 646.5L207.0 652.9L204.4 645.5M227.4 636.4L224.5 653.5M229.4 647.0L224.5 653.5L222.1 645.7M245.6 636.4L241.4 654.2M247.0 647.6L241.4 654.2L239.4 645.9M263.7 636.4L258.3 654.9M264.5 648.3L258.3 654.9L256.6 646.0M281.9 636.4L275.3 654.6M282.0 648.4L275.3 654.6L274.2 645.5M300.1 636.4L292.3 654.2M299.4 648.4L292.3 654.2L291.8 645.1M318.3 636.4L310.2 653.3M317.2 647.9L310.2 653.3L310.0 644.5M336.5 636.4L328.2 652.4M335.1 647.4L328.2 652.4L328.2 643.9M354.6 636.4L346.3 651.3M353.0 646.8L346.3 651.3L346.6 643.3M372.8 636.4L364.4 650.2M370.9 646.2L364.4 650.2L365.0 642.6M391.0 636.4L382.7 649.5M389.0 645.8L382.7 649.5L383.4 642.2M409.2 636.4L400.9 648.8M407.0 645.4L400.9 648.8L401.7 641.9M427.4 636.4L419.1 648.3M425.1 645.1L419.1 648.3L420.0 641.5M445.6 636.4L437.3 647.7M443.2 644.8L437.3 647.7L438.3 641.2M463.7 636.4L455.4 647.6M461.3 644.7L455.4 647.6L456.5 641.1M481.9 636.4L473.6 647.4M479.4 644.6L473.6 647.4L474.7 641.0M500.1 636.4L491.3 647.8M497.4 644.9L491.3 647.8L492.5 641.2M518.3 636.4L509.0 648.2M515.4 645.2L509.0 648.2L510.4 641.3M536.5 636.4L527.1 648.2M533.6 645.3L527.1 648.2L528.5 641.3M554.6 636.4L545.3 648.3M551.8 645.3L545.3 648.3L546.7 641.3M572.8 636.4L563.8 647.9M570.1 645.0L563.8 647.9L565.2 641.1M591.0 636.4L582.4 647.5M588.3 644.7L582.4 647.5L583.6 641.0M609.2 636.4L601.1 647.0M606.8 644.3L601.1 647.0L602.2 640.8M627.4 636.4L619.9 646.5M625.2 643.9L619.9 646.5L620.9 640.7M645.6 636.4L638.6 646.1M643.6 643.5L638.6 646.1L639.5 640.5M663.7 636.4L657.3 645.6M662.0 643.1L657.3 645.6L658.0 640.4M681.9 636.4L676.0 645.4M680.4 642.9L676.0 645.4L676.6 640.3M700.1 636.4L694.6 645.1M698.8 642.6L694.6 645.1L695.1 640.3M718.3 636.4L713.2 644.8M717.1 642.4L713.2 644.8L713.5 640.2M736.5 636.4L731.7 644.6M735.5 642.2L731.7 644.6L732.0 640.1M754.6 636.4L750.1 644.5M753.8 642.1L750.1 644.5L750.3 640.1M772.8 636.4L768.5 644.4M772.0 642.0L768.5 644.4L768.6 640.1M791.0 636.4L786.8 644.5M790.3 642.0L786.8 644.5L786.8 640.2M9.2 654.6L4.6 673.1M10.5 666.3L4.6 673.1L2.6 664.3M27.4 654.6L23.3 673.8M29.1 666.6L23.3 673.8L20.9 664.9M45.6 654.6L42.3 672.8M47.6 665.9L42.3 672.8L39.8 664.5M63.7 654.6L61.3 671.9M66.0 665.1L61.3 671.9L58.6 664.1M81.9 654.6L80.2 670.9M84.4 664.4L80.2 670.9L77.4 663.7M100.1 654.6L98.8 669.3M102.5 663.4L98.8 669.3L96.2 662.8M118.3 654.6L117.3 669.3M120.8 663.4L117.3 669.3L114.5 662.9M136.5 654.6L135.7 669.3M139.2 663.3L135.7 669.3L132.9 663.0M154.6 654.6L154.1 670.0M157.6 663.7L154.1 670.0L151.0 663.4M172.8 654.6L171.7 671.3M175.8 664.5L171.7 671.3L168.6 664.0M191.0 654.6L189.4 671.8M193.7 664.9L189.4 671.8L186.4 664.2M209.2 654.6L207.0 671.6M211.6 664.9L207.0 671.6L204.3 664.0M227.4 654.6L224.6 672.2M229.5 665.4L224.6 672.2L222.0 664.2M245.6 654.6L241.5 672.9M247.1 666.1L241.5 672.9L239.3 664.4M263.7 654.6L258.3 673.6M264.6 666.8L258.3 673.6L256.5 664.5M281.9 654.6L275.3 673.2M282.1 666.8L275.3 673.2L274.1 664.0M300.1 654.6L292.4 672.8M299.5 666.8L292.4 672.8L291.7 663.5M318.3 654.6L310.3 671.8M317.3 666.3L310.3 671.8L310.0 662.9M336.5 654.6L328.3 670.8M335.2 665.8L328.3 670.8L328.2 662.3M354.6 654.6L346.4 669.7M353.1 665.1L346.4 669.7L346.6 661.6M372.8 654.6L364.6 668.5M371.0 664.4L364.6 668.5L365.1 660.9M391.0 654.6L382.9 667.8M389.1 664.0L382.9 667.8L383.5 660.5M409.2 654.6L401.2 667.0M407.2 663.5L401.2 667.0L401.9 660.1M427.4 654.6L419.4 666.4M425.3 663.1L419.4 666.4L420.2 659.7M445.6 654.6L437.7 665.8M443.4 662.8L437.7 665.8L438.6 659.4M463.7 654.6L455.9 665.6M461.5 662.6L455.9 665.6L456.8 659.3M481.9 654.6L474.1 665.4M479.7 662.5L474.1 665.4L475.1 659.2M500.1 654.6L492.0 665.7M497.8 662.8L492.0 665.7L493.0 659.3M518.3 654.6L509.8 666.0M515.8 663.0L509.8 666.0L510.9 659.4M536.5 654.6L528.0 666.1M534.0 663.1L528.0 666.1L529.1 659.5M554.6 654.6L546.1 666.2M552.2 663.1L546.1 666.2L547.2 659.5M572.8 654.6L564.6 665.9M570.4 662.9L564.6 665.9L565.6 659.4M591.0 654.6L583.0 665.6M588.7 662.7L583.0 665.6L584.0 659.3M609.2 654.6L601.8 665.2M607.2 662.3L601.8 665.2L602.6 659.2M627.4 654.6L620.6 664.7M625.6 661.9L620.6 664.7L621.2 659.0M645.6 654.6L639.2 664.4M644.0 661.6L639.2 664.4L639.8 659.0M663.7 654.6L657.9 664.1M662.4 661.3L657.9 664.1L658.3 658.9M681.9 654.6L676.6 663.8M680.8 661.1L676.6 663.8L676.9 658.8M700.1 654.6L695.3 663.5M699.2 660.8L695.3 663.5L695.4 658.7M718.3 654.6L713.9 663.3M717.6 660.6L713.9 663.3L713.9 658.7M736.5 654.6L732.5 663.1M736.0 660.3L732.5 663.1L732.4 658.7M754.6 654.6L750.9 663.0M754.3 660.2L750.9 663.0L750.7 658.7M772.8 654.6L769.3 662.9M772.6 660.1L769.3 662.9L769.0 658.6M791.0 654.6L787.6 662.9M790.8 660.1L787.6 662.9L787.3 658.7M9.2 672.8L4.7 690.7M10.4 684.2L4.7 690.7L2.7 682.3M27.4 672.8L23.0 692.4M29.0 685.1L23.0 692.4L20.6 683.3M45.6 672.8L41.9 691.4M47.4 684.4L41.9 691.4L39.5 682.8M63.7 672.8L60.8 690.4M65.8 683.6L60.8 690.4L58.3 682.4M81.9 672.8L79.6 689.3M84.1 682.9L79.6 689.3L77.0 681.9M100.1 672.8L98.4 688.0M102.3 682.0L98.4 688.0L95.8 681.2M118.3 672.8L117.0 687.5M120.7 681.6L117.0 687.5L114.4 681.0M136.5 672.8L135.6 687.1M139.0 681.3L135.6 687.1L132.9 680.9M154.6 672.8L154.1 688.0M157.6 681.8L154.1 688.0L151.1 681.5M172.8 672.8L171.8 689.5M175.8 682.7L171.8 689.5L168.6 682.2M191.0 672.8L189.4 690.0M193.8 683.1L189.4 690.0L186.4 682.4M209.2 672.8L207.1 689.9M211.6 683.2L207.1 689.9L204.3 682.3M227.4 672.8L224.7 690.4M229.6 683.6L224.7 690.4L222.1 682.4M245.6 672.8L241.7 691.1M247.2 684.2L241.7 691.1L239.4 682.6M263.7 672.8L258.5 691.7M264.7 684.9L258.5 691.7L256.7 682.6M281.9 672.8L275.5 691.3M282.2 684.9L275.5 691.3L274.2 682.2M300.1 672.8L292.6 690.9M299.6 684.9L292.6 690.9L291.9 681.7M318.3 672.8L310.5 689.9M317.4 684.4L310.5 689.9L310.1 681.1M336.5 672.8L328.5 689.0M335.3 683.9L328.5 689.0L328.4 680.5M354.6 672.8L346.6 688.0M353.2 683.3L346.6 688.0L346.7 679.9M372.8 672.8L364.7 687.0M371.1 682.8L364.7 687.0L365.1 679.3M391.0 672.8L383.0 686.2M389.2 682.3L383.0 686.2L383.5 678.9M409.2 672.8L401.3 685.5M407.3 681.9L401.3 685.5L401.9 678.5M427.4 672.8L419.5 684.9M425.4 681.5L419.5 684.9L420.2 678.1M445.6 672.8L437.8 684.2M443.5 681.1L437.8 684.2L438.6 677.8M463.7 672.8L456.2 683.9M461.7 680.9L456.2 683.9L456.9 677.6M481.9 672.8L474.5 683.6M479.9 680.6L474.5 683.6L475.3 677.5M500.1 672.8L492.5 683.7M498.0 680.7L492.5 683.7L493.4 677.5M518.3 672.8L510.6 683.8M516.2 680.8L510.6 683.8L511.4 677.6M536.5 672.8L528.7 684.1M534.3 681.0L528.7 684.1L529.5 677.7M554.6 672.8L546.8 684.3M552.5 681.1L546.8 684.3L547.6 677.8M572.8 672.8L565.2 684.0M570.8 680.9L565.2 684.0L566.0 677.6M591.0 672.8L583.7 683.6M589.1 680.7L583.7 683.6L584.4 677.5M609.2 672.8L602.4 683.3M607.5 680.3L602.4 683.3L603.0 677.5M627.4 672.8L621.2 683.0M626.0 680.0L621.2 683.0L621.6 677.4M645.6 672.8L639.9 682.7M644.4 679.8L639.9 682.7L640.1 677.3M663.7 672.8L658.5 682.4M662.8 679.5L658.5 682.4L658.7 677.3M681.9 672.8L677.3 682.2M681.2 679.2L677.3 682.2L677.2 677.3M700.1 672.8L696.0 682.0M699.7 679.0L696.0 682.0L695.7 677.2M718.3 672.8L714.6 681.8M718.1 678.8L714.6 681.8L714.2 677.2M736.5 672.8L733.3 681.6M736.5 678.5L733.3 681.6L732.7 677.2M754.6 672.8L751.7 681.4M754.8 678.4L751.7 681.4L751.1 677.2M772.8 672.8L770.1 681.3M773.1 678.3L770.1 681.3L769.4 677.2M791.0 672.8L788.4 681.4M791.4 678.3L788.4 681.4L787.7 677.2M9.2 690.9L4.8 708.6M10.4 702.1L4.8 708.6L2.9 700.3M27.4 690.9L22.8 710.8M28.9 703.4L22.8 710.8L20.5 701.5M45.6 690.9L41.3 710.8M47.3 703.4L41.3 710.8L38.9 701.6M63.7 690.9L59.9 710.9M65.7 703.4L59.9 710.9L57.2 701.7M81.9 690.9L78.4 711.0M84.1 703.3L78.4 711.0L75.6 701.8M100.1 690.9L97.6 708.4M102.4 701.6L97.6 708.4L94.9 700.6M118.3 690.9L116.6 706.9M120.7 700.6L116.6 706.9L113.9 699.8M136.5 690.9L135.4 706.0M139.1 699.9L135.4 706.0L132.6 699.5M154.6 690.9L154.1 706.6M157.7 700.1L154.1 706.6L151.0 699.9M172.8 690.9L171.8 707.8M175.8 701.0L171.8 707.8L168.6 700.5M191.0 690.9L189.5 708.2M193.8 701.3L189.5 708.2L186.5 700.6M209.2 690.9L207.2 708.2M211.7 701.4L207.2 708.2L204.4 700.5M227.4 690.9L224.9 708.6M229.7 701.7L224.9 708.6L222.2 700.7M245.6 690.9L241.8 709.2M247.3 702.3L241.8 709.2L239.5 700.8M263.7 690.9L258.7 709.7M264.8 702.9L258.7 709.7L256.8 700.8M281.9 690.9L275.7 709.4M282.3 703.0L275.7 709.4L274.4 700.3M300.1 690.9L292.8 709.0M299.7 703.0L292.8 709.0L292.0 699.9M318.3 690.9L310.7 708.1M317.6 702.5L310.7 708.1L310.2 699.3M336.5 690.9L328.7 707.2M335.4 702.0L328.7 707.2L328.5 698.7M354.6 690.9L346.7 706.3M353.3 701.6L346.7 706.3L346.8 698.2M372.8 690.9L364.8 705.4M371.3 701.1L364.8 705.4L365.1 697.6M391.0 690.9L383.0 704.7M389.3 700.7L383.0 704.7L383.4 697.3M409.2 690.9L401.3 704.1M407.4 700.2L401.3 704.1L401.8 696.9M427.4 690.9L419.6 703.4M425.5 699.8L419.6 703.4L420.2 696.5M445.6 690.9L437.9 702.7M443.6 699.4L437.9 702.7L438.6 696.1M463.7 690.9L456.4 702.3M461.9 699.1L456.4 702.3L457.0 695.9M481.9 690.9L474.9 701.8M480.1 698.8L474.9 701.8L475.5 695.7M500.1 690.9L493.1 701.7M498.3 698.7L493.1 701.7L493.7 695.7M518.3 690.9L511.3 701.7M516.5 698.7L511.3 701.7L511.9 695.7M536.5 690.9L529.4 702.0M534.7 698.9L529.4 702.0L530.0 695.8M554.6 690.9L547.4 702.3M552.9 699.1L547.4 702.3L548.0 696.0M572.8 690.9L565.9 702.0M571.1 698.8L565.9 702.0L566.4 695.9M591.0 690.9L584.3 701.6M589.4 698.6L584.3 701.6L584.8 695.7M609.2 690.9L603.1 701.4M607.9 698.3L603.1 701.4L603.4 695.7M627.4 690.9L621.8 701.2M626.3 698.1L621.8 701.2L621.9 695.7M645.6 690.9L640.5 701.0M644.8 697.9L640.5 701.0L640.5 695.7M663.7 690.9L659.2 700.7M663.2 697.6L659.2 700.7L659.0 695.7M681.9 690.9L677.9 700.6M681.7 697.4L677.9 700.6L677.5 695.7M700.1 690.9L696.7 700.4M700.1 697.2L696.7 700.4L696.1 695.7M718.3 690.9L715.4 700.2M718.6 696.9L715.4 700.2L714.6 695.7M736.5 690.9L734.0 700.0M737.0 696.7L734.0 700.0L733.1 695.7M754.6 690.9L752.5 699.9M755.3 696.6L752.5 699.9L751.5 695.7M772.8 690.9L770.9 699.7M773.6 696.5L770.9 699.7L769.8 695.6M791.0 690.9L789.3 699.8M791.9 696.4L789.3 699.8L788.1 695.7M9.2 709.1L4.4 728.3M10.5 721.3L4.4 728.3L2.3 719.3M27.4 709.1L22.5 729.6M28.9 722.1L22.5 729.6L20.1 720.0M45.6 709.1L40.7 730.0M47.2 722.3L40.7 730.0L38.3 720.2M63.7 709.1L59.0 730.4M65.5 722.5L59.0 730.4L56.5 720.5M81.9 709.1L77.3 730.8M83.9 722.7L77.3 730.8L74.6 720.7M100.1 709.1L96.7 729.5M102.5 721.7L96.7 729.5L93.8 720.3M118.3 709.1L116.0 727.3M120.9 720.2L116.0 727.3L113.1 719.2M136.5 709.1L135.2 725.8M139.3 719.1L135.2 725.8L132.1 718.5M154.6 709.1L154.1 726.0M157.9 719.1L154.1 726.0L150.7 718.8M172.8 709.1L171.8 726.4M175.9 719.4L171.8 726.4L168.6 718.9M191.0 709.1L189.6 726.5M193.9 719.5L189.6 726.5L186.5 718.9M209.2 709.1L207.4 726.5M211.9 719.6L207.4 726.5L204.4 718.9M227.4 709.1L225.1 726.7M229.8 719.8L225.1 726.7L222.3 718.9M245.6 709.1L242.1 727.0M247.4 720.3L242.1 727.0L239.7 718.8M263.7 709.1L259.1 727.3M264.9 720.6L259.1 727.3L257.2 718.7M281.9 709.1L276.2 726.9M282.4 720.7L276.2 726.9L274.8 718.2M300.1 709.1L293.2 726.5M299.8 720.7L293.2 726.5L292.4 717.8M318.3 709.1L311.1 725.9M317.7 720.4L311.1 725.9L310.5 717.4M336.5 709.1L329.0 725.3M335.6 720.1L329.0 725.3L328.7 716.9M354.6 709.1L347.0 724.6M353.5 719.8L347.0 724.6L346.9 716.5M372.8 709.1L365.0 723.9M371.4 719.4L365.0 723.9L365.1 716.0M391.0 709.1L383.1 723.3M389.5 719.1L383.1 723.3L383.4 715.7M409.2 709.1L401.3 722.8M407.5 718.7L401.3 722.8L401.7 715.4M427.4 709.1L419.7 722.0M425.7 718.2L419.7 722.0L420.2 715.0M445.6 709.1L438.1 721.2M443.8 717.7L438.1 721.2L438.6 714.5M463.7 709.1L456.6 720.7M462.0 717.4L456.6 720.7L457.1 714.3M481.9 709.1L475.1 720.1M480.3 717.0L475.1 720.1L475.6 714.1M500.1 709.1L493.4 720.0M498.5 716.9L493.4 720.0L493.9 714.0M518.3 709.1L511.7 719.8M516.7 716.8L511.7 719.8L512.1 713.9M536.5 709.1L529.9 720.0M535.0 716.9L529.9 720.0L530.3 714.0M554.6 709.1L548.1 720.2M553.2 717.0L548.1 720.2L548.5 714.2M572.8 709.1L566.5 720.0M571.5 716.8L566.5 720.0L566.9 714.1M591.0 709.1L585.0 719.8M589.8 716.6L585.0 719.8L585.2 714.0M609.2 709.1L603.7 719.8M608.2 716.5L603.7 719.8L603.7 714.1M627.4 709.1L622.3 719.8M626.7 716.4L622.3 719.8L622.2 714.2M645.6 709.1L641.0 719.6M645.2 716.2L641.0 719.6L640.7 714.3M663.7 709.1L659.7 719.4M663.6 716.0L659.7 719.4L659.2 714.3M681.9 709.1L678.5 719.2M682.1 715.7L678.5 719.2L677.8 714.2M700.1 709.1L697.2 719.0M700.5 715.5L697.2 719.0L696.3 714.2M718.3 709.1L715.9 718.7M718.9 715.2L715.9 718.7L714.8 714.2M736.5 709.1L734.5 718.4M737.3 714.9L734.5 718.4L733.4 714.1M754.6 709.1L752.9 718.2M755.6 714.8L752.9 718.2L751.7 714.0M772.8 709.1L771.3 718.1M773.9 714.7L771.3 718.1L770.0 714.0M791.0 709.1L789.7 718.1M792.1 714.6L789.7 718.1L788.3 714.0M9.2 727.3L4.1 747.7M10.6 740.3L4.1 747.7L1.9 738.1M27.4 727.3L22.1 748.6M28.8 740.8L22.1 748.6L19.7 738.6M45.6 727.3L40.2 749.0M47.0 741.0L40.2 749.0L37.8 738.7M63.7 727.3L58.2 749.3M65.2 741.3L58.2 749.3L55.9 738.9M81.9 727.3L76.3 749.7M83.4 741.5L76.3 749.7L73.9 739.1M100.1 727.3L95.8 749.6M102.3 741.2L95.8 749.6L92.8 739.3M118.3 727.3L115.4 747.8M121.0 739.8L115.4 747.8L112.2 738.6M136.5 727.3L134.8 745.9M139.5 738.5L134.8 745.9L131.5 737.8M154.6 727.3L154.0 745.5M158.2 738.0L154.0 745.5L150.4 737.7M172.8 727.3L171.9 744.9M176.0 737.7L171.9 744.9L168.5 737.3M191.0 727.3L189.7 744.9M194.0 737.8L189.7 744.9L186.5 737.2M209.2 727.3L207.5 744.9M212.0 737.9L207.5 744.9L204.5 737.2M227.4 727.3L225.4 744.8M230.0 737.9L225.4 744.8L222.5 737.1M245.6 727.3L242.4 744.8M247.5 738.2L242.4 744.8L240.0 736.8M263.7 727.3L259.5 744.8M265.0 738.4L259.5 744.8L257.5 736.5M281.9 727.3L276.5 744.5M282.5 738.4L276.5 744.5L275.1 736.1M300.1 727.3L293.6 744.1M299.9 738.4L293.6 744.1L292.8 735.7M318.3 727.3L311.5 743.8M317.8 738.3L311.5 743.8L310.8 735.4M336.5 727.3L329.3 743.4M335.7 738.2L329.3 743.4L328.9 735.1M354.6 727.3L347.2 742.9M353.6 738.0L347.2 742.9L347.0 734.8M372.8 727.3L365.1 742.4M371.6 737.7L365.1 742.4L365.1 734.4M391.0 727.3L383.3 741.9M389.6 737.5L383.3 741.9L383.4 734.2M409.2 727.3L401.4 741.5M407.7 737.2L401.4 741.5L401.6 733.9M427.4 727.3L419.8 740.6M425.8 736.6L419.8 740.6L420.1 733.4M445.6 727.3L438.2 739.7M444.0 736.1L438.2 739.7L438.7 733.0M463.7 727.3L456.8 739.1M462.2 735.6L456.8 739.1L457.2 732.7M481.9 727.3L475.3 738.5M480.5 735.2L475.3 738.5L475.7 732.4M500.1 727.3L493.7 738.2M498.7 735.0L493.7 738.2L494.0 732.3M518.3 727.3L512.0 738.0M516.9 734.9L512.0 738.0L512.3 732.2M536.5 727.3L530.4 738.0M535.2 734.8L530.4 738.0L530.6 732.2M554.6 727.3L548.8 738.0M553.5 734.8L548.8 738.0L548.9 732.3M572.8 727.3L567.2 738.0M571.8 734.7L567.2 738.0L567.3 732.3M591.0 727.3L585.6 737.9M590.1 734.6L585.6 737.9L585.6 732.3M609.2 727.3L604.2 738.1M608.6 734.6L604.2 738.1L604.0 732.5M627.4 727.3L622.9 738.3M627.1 734.7L622.9 738.3L622.4 732.7M645.6 727.3L641.6 738.2M645.6 734.5L641.6 738.2L640.9 732.8M663.7 727.3L660.3 738.1M664.1 734.3L660.3 738.1L659.4 732.9M681.9 727.3L679.1 737.8M682.5 734.0L679.1 737.8L678.0 732.8M700.1 727.3L697.8 737.5M700.9 733.7L697.8 737.5L696.6 732.7M718.3 727.3L716.4 737.1M719.3 733.4L716.4 737.1L715.1 732.6M736.5 727.3L735.1 736.7M737.7 733.1L735.1 736.7L733.6 732.5M754.6 727.3L753.4 736.6M755.9 733.0L753.4 736.6L751.9 732.4M772.8 727.3L771.7 736.4M774.1 732.8L771.7 736.4L770.3 732.4M791.0 727.3L790.1 736.3M792.4 732.8L790.1 736.3L788.5 732.4M9.2 745.5L3.9 766.6M10.6 758.9L3.9 766.6L1.6 756.6M27.4 745.5L21.7 767.3M28.7 759.3L21.7 767.3L19.5 756.9M45.6 745.5L39.6 767.9M46.8 759.8L39.6 767.9L37.3 757.2M63.7 745.5L57.4 768.4M64.9 760.2L57.4 768.4L55.1 757.5M81.9 745.5L75.2 769.0M83.0 760.6L75.2 769.0L73.0 757.7M100.1 745.5L94.7 769.7M102.1 760.7L94.7 769.7L91.8 758.4M118.3 745.5L114.7 768.2M121.0 759.5L114.7 768.2L111.3 757.9M136.5 745.5L134.4 766.4M139.8 758.1L134.4 766.4L130.8 757.2M154.6 745.5L154.0 764.7M158.4 756.8L154.0 764.7L150.1 756.5M172.8 745.5L171.9 763.6M176.2 756.2L171.9 763.6L168.4 755.8M191.0 745.5L189.8 763.1M194.1 756.0L189.8 763.1L186.6 755.5M209.2 745.5L207.7 763.3M212.1 756.2L207.7 763.3L204.5 755.5M227.4 745.5L225.6 763.2M230.1 756.2L225.6 763.2L222.6 755.4M245.6 745.5L242.6 763.1M247.6 756.4L242.6 763.1L240.1 755.1M263.7 745.5L259.6 763.0M265.1 756.5L259.6 763.0L257.6 754.8M281.9 745.5L276.7 762.6M282.6 756.6L276.7 762.6L275.2 754.3M300.1 745.5L293.9 762.2M300.0 756.5L293.9 762.2L292.9 753.9M318.3 745.5L311.7 761.9M318.0 756.4L311.7 761.9L311.0 753.6M336.5 745.5L329.6 761.5M335.9 756.3L329.6 761.5L329.0 753.3M354.6 745.5L347.5 761.1M353.8 756.1L347.5 761.1L347.1 753.0M372.8 745.5L365.4 760.7M371.8 755.9L365.4 760.7L365.3 752.7M391.0 745.5L383.5 760.3M389.8 755.7L383.5 760.3L383.5 752.5M409.2 745.5L401.7 759.8M407.9 755.4L401.7 759.8L401.8 752.2M427.4 745.5L420.0 759.0M426.0 754.9L420.0 759.0L420.2 751.8M445.6 745.5L438.4 758.2M444.1 754.4L438.4 758.2L438.7 751.4M463.7 745.5L457.0 757.5M462.4 753.9L457.0 757.5L457.2 751.0M481.9 745.5L475.5 756.9M480.6 753.5L475.5 756.9L475.8 750.7M500.1 745.5L493.9 756.6M498.9 753.2L493.9 756.6L494.1 750.6M518.3 745.5L512.3 756.2M517.1 753.0L512.3 756.2L512.5 750.4M536.5 745.5L530.7 756.2M535.4 752.9L530.7 756.2L530.9 750.5M554.6 745.5L549.2 756.2M553.8 752.8L549.2 756.2L549.2 750.5M572.8 745.5L567.7 756.2M572.1 752.8L567.7 756.2L567.5 750.6M591.0 745.5L586.1 756.2M590.5 752.8L586.1 756.2L585.9 750.7M609.2 745.5L604.8 756.6M609.0 752.9L604.8 756.6L604.3 751.0M627.4 745.5L623.4 756.9M627.5 752.9L623.4 756.9L622.6 751.3M645.6 745.5L642.2 756.8M646.0 752.8L642.2 756.8L641.2 751.3M663.7 745.5L661.0 756.7M664.5 752.6L661.0 756.7L659.8 751.4M681.9 745.5L679.7 756.3M682.9 752.3L679.7 756.3L678.3 751.3M700.1 745.5L698.3 756.0M701.3 751.9L698.3 756.0L696.8 751.2M718.3 745.5L717.0 755.5M719.7 751.6L717.0 755.5L715.4 751.0M736.5 745.5L735.6 755.1M738.0 751.2L735.6 755.1L733.9 750.9M754.6 745.5L753.9 754.9M756.2 751.1L753.9 754.9L752.2 750.8M772.8 745.5L772.2 754.7M774.4 751.0L772.2 754.7L770.5 750.7M791.0 745.5L790.5 754.6M792.7 750.9L790.5 754.6L788.8 750.7M9.2 763.7L3.6 786.0M10.7 777.8L3.6 786.0L1.2 775.5M27.4 763.7L21.2 786.8M28.7 778.4L21.2 786.8L18.8 775.8M45.6 763.7L38.8 787.3M46.7 778.9L38.8 787.3L36.6 776.0M63.7 763.7L56.4 787.8M64.6 779.3L56.4 787.8L54.3 776.1M81.9 763.7L73.9 788.3M82.5 779.7L73.9 788.3L72.0 776.3M100.1 763.7L93.7 789.2M101.8 779.8L93.7 789.2L91.0 777.1M118.3 763.7L113.9 788.5M121.0 779.0L113.9 788.5L110.4 777.2M136.5 763.7L134.1 786.2M139.9 777.3L134.1 786.2L130.3 776.3M154.6 763.7L153.9 784.4M158.6 775.8L153.9 784.4L149.8 775.5M172.8 763.7L171.9 782.4M176.3 774.7L171.9 782.4L168.3 774.3M191.0 763.7L189.9 781.6M194.2 774.3L189.9 781.6L186.5 773.9M209.2 763.7L207.8 781.8M212.3 774.5L207.8 781.8L204.5 773.9M227.4 763.7L225.8 781.6M230.3 774.4L225.8 781.6L222.6 773.8M245.6 763.7L242.8 781.5M247.8 774.6L242.8 781.5L240.2 773.4M263.7 763.7L259.8 781.2M265.2 774.7L259.8 781.2L257.7 773.0M281.9 763.7L276.9 780.8M282.7 774.7L276.9 780.8L275.4 772.5M300.1 763.7L294.1 780.2M300.1 774.6L294.1 780.2L293.1 772.0M318.3 763.7L312.0 779.9M318.1 774.5L312.0 779.9L311.1 771.8M336.5 763.7L329.9 779.6M336.0 774.4L329.9 779.6L329.2 771.5M354.6 763.7L347.8 779.3M354.0 774.2L347.8 779.3L347.3 771.3M372.8 763.7L365.7 779.0M371.9 774.1L365.7 779.0L365.4 771.1M391.0 763.7L383.8 778.6M390.0 773.9L383.8 778.6L383.6 770.8M409.2 763.7L402.0 778.2M408.1 773.6L402.0 778.2L401.9 770.5M427.4 763.7L420.3 777.4M426.2 773.2L420.3 777.4L420.3 770.2M445.6 763.7L438.6 776.7M444.3 772.7L438.6 776.7L438.7 769.8M463.7 763.7L457.2 776.0M462.6 772.2L457.2 776.0L457.3 769.4M481.9 763.7L475.7 775.3M480.8 771.7L475.7 775.3L475.9 769.1M500.1 763.7L494.1 774.9M499.0 771.4L494.1 774.9L494.2 768.9M518.3 763.7L512.5 774.5M517.2 771.2L512.5 774.5L512.6 768.7M536.5 763.7L531.1 774.4M535.6 771.0L531.1 774.4L531.1 768.8M554.6 763.7L549.7 774.3M554.0 770.9L549.7 774.3L549.5 768.8M572.8 763.7L568.2 774.4M572.4 770.9L568.2 774.4L567.8 768.9M591.0 763.7L586.6 774.5M590.8 770.9L586.6 774.5L586.1 769.0M609.2 763.7L605.3 775.0M609.3 771.1L605.3 775.0L604.5 769.4M627.4 763.7L624.0 775.4M627.9 771.2L624.0 775.4L622.9 769.8M645.6 763.7L642.9 775.3M646.5 771.0L642.9 775.3L641.5 769.9M663.7 763.7L661.7 775.2M665.0 770.8L661.7 775.2L660.1 769.9M681.9 763.7L680.4 774.8M683.4 770.5L680.4 774.8L678.6 769.8M700.1 763.7L699.0 774.4M701.7 770.1L699.0 774.4L697.2 769.7M718.3 763.7L717.6 773.9M720.0 769.8L717.6 773.9L715.7 769.5M736.5 763.7L736.1 773.4M738.3 769.4L736.1 773.4L734.2 769.2M754.6 763.7L754.4 773.2M756.5 769.3L754.4 773.2L752.5 769.2M772.8 763.7L772.7 773.0M774.7 769.1L772.7 773.0L770.7 769.1M791.0 763.7L790.9 772.8M792.9 769.0L790.9 772.8L789.0 769.0"/>
</g>
<path fill="#000" shape-rendering="crispEdges" d="M240 28h2v1h-2zM398 28h1v1h-1zM403 28h1v1h-1zM700 28h1v1h-1zM737 28h1v1h-1zM765 28h1v1h-1zM237 29h3v1h-3zM398 29h1v1h-1zM404 29h2v1h-2zM700 29h1v1h-1zM737 29h1v1h-1zM764 29h1v1h-1zM235 30h2v1h-2zM397 30h1v1h-1zM406 30h2v1h-2zM700 30h1v1h-1zM737 30h1v1h-1zM763 30h1v1h-1zM234 31h1v1h-1zM397 31h1v1h-1zM408 31h2v1h-2zM700 31h1v1h-1zM737 31h1v1h-1zM763 31h1v1h-1zM233 32h1v1h-1zM395 32h3v1h-3zM410 32h2v1h-2zM700 32h1v1h-1zM736 32h1v1h-1zM762 32h1v1h-1zM234 33h1v1h-1zM391 33h4v1h-4zM412 33h1v1h-1zM700 33h1v1h-1zM736 33h1v1h-1zM761 33h1v1h-1zM235 34h2v1h-2zM390 34h1v1h-1zM413 34h1v1h-1zM700 34h1v1h-1zM736 34h1v1h-1zM760 34h1v1h-1zM237 35h1v1h-1zM389 35h1v1h-1zM414 35h2v1h-2zM701 35h1v1h-1zM736 35h1v1h-1zM759 35h1v1h-1zM237 36h1v1h-1zM389 36h1v1h-1zM416 36h1v1h-1zM702 36h1v1h-1zM736 36h1v1h-1zM758 36h1v1h-1zM236 37h1v1h-1zM388 37h1v1h-1zM417 37h1v1h-1zM702 37h1v1h-1zM736 37h1v1h-1zM739 37h1v1h-1zM758 37h1v1h-1zM236 38h1v1h-1zM387 38h1v1h-1zM418 38h1v1h-1zM703 38h1v1h-1zM735 38h1v1h-1zM739 38h1v1h-1zM757 38h1v1h-1zM236 39h1v1h-1zM386 39h1v1h-1zM418 39h1v1h-1zM703 39h1v1h-1zM735 39h1v1h-1zM740 39h1v1h-1zM756 39h1v1h-1zM236 40h1v1h-1zM386 40h1v1h-1zM419 40h1v1h-1zM704 40h1v1h-1zM732 40h5v1h-5zM740 40h1v1h-1zM755 40h1v1h-1zM235 41h1v1h-1zM372 41h3v1h-3zM383 41h3v1h-3zM419 41h1v1h-1zM703 41h2v1h-2zM728 41h4v1h-4zM736 41h1v1h-1zM740 41h1v1h-1zM754 41h1v1h-1zM235 42h1v1h-1zM375 42h8v1h-8zM420 42h1v1h-1zM700 42h3v1h-3zM726 42h2v1h-2zM737 42h1v1h-1zM740 42h1v1h-1zM754 42h1v1h-1zM235 43h1v1h-1zM420 43h1v1h-1zM697 43h3v1h-3zM725 43h1v1h-1zM737 43h1v1h-1zM739 43h1v1h-1zM753 43h1v1h-1zM235 44h1v1h-1zM421 44h1v1h-1zM694 44h3v1h-3zM725 44h1v1h-1zM738 44h2v1h-2zM752 44h1v1h-1zM235 45h1v1h-1zM422 45h1v1h-1zM692 45h2v1h-2zM725 45h1v1h-1zM738 45h2v1h-2zM751 45h1v1h-1zM234 46h1v1h-1zM423 46h1v1h-1zM691 46h1v1h-1zM726 46h1v1h-1zM738 46h1v1h-1zM750 46h1v1h-1zM234 47h1v1h-1zM424 47h1v1h-1zM690 47h1v1h-1zM726 47h1v1h-1zM749 47h1v1h-1zM234 48h1v1h-1zM425 48h1v1h-1zM690 48h1v1h-1zM726 48h1v1h-1zM749 48h1v1h-1zM234 49h1v1h-1zM425 49h1v1h-1zM689 49h1v1h-1zM725 49h1v1h-1zM748 49h1v1h-1zM234 50h1v1h-1zM426 50h1v1h-1zM689 50h1v1h-1zM725 50h1v1h-1zM747 50h1v1h-1zM234 51h1v1h-1zM426 51h1v1h-1zM689 51h1v1h-1zM724 51h1v1h-1zM746 51h1v1h-1zM234 52h1v1h-1zM427 52h1v1h-1zM689 52h1v1h-1zM724 52h1v1h-1zM745 52h1v1h-1zM233 53h1v1h-1zM427 53h2v1h-2zM689 53h1v1h-1zM724 53h1v1h-1zM744 53h1v1h-1zM233 54h1v1h-1zM429 54h4v1h-4zM687 54h3v1h-3zM724 54h1v1h-1zM744 54h1v1h-1zM232 55h1v1h-1zM433 55h3v1h-3zM680 55h7v1h-7zM723 55h1v1h-1zM743 55h1v1h-1zM232 56h1v1h-1zM436 56h2v1h-2zM444 56h1v1h-1zM675 56h5v1h-5zM723 56h1v1h-1zM742 56h1v1h-1zM231 57h1v1h-1zM438 57h2v1h-2zM442 57h2v1h-2zM445 57h1v1h-1zM672 57h3v1h-3zM723 57h1v1h-1zM741 57h1v1h-1zM230 58h1v1h-1zM440 58h2v1h-2zM446 58h1v1h-1zM670 58h2v1h-2zM723 58h1v1h-1zM740 58h1v1h-1zM230 59h1v1h-1zM447 59h1v1h-1zM669 59h1v1h-1zM723 59h1v1h-1zM739 59h1v1h-1zM229 60h1v1h-1zM448 60h1v1h-1zM668 60h1v1h-1zM722 60h1v1h-1zM739 60h1v1h-1zM229 61h1v1h-1zM449 61h1v1h-1zM667 61h1v1h-1zM722 61h1v1h-1zM738 61h1v1h-1zM228 62h1v1h-1zM450 62h1v1h-1zM666 62h1v1h-1zM722 62h1v1h-1zM737 62h1v1h-1zM228 63h1v1h-1zM451 63h1v1h-1zM665 63h1v1h-1zM721 63h1v1h-1zM736 63h1v1h-1zM228 64h1v1h-1zM452 64h1v1h-1zM664 64h1v1h-1zM721 64h1v1h-1zM735 64h1v1h-1zM226 65h2v1h-2zM453 65h2v1h-2zM663 65h1v1h-1zM720 65h1v1h-1zM733 65h2v1h-2zM225 66h1v1h-1zM455 66h1v1h-1zM720 66h1v1h-1zM732 66h1v1h-1zM223 67h2v1h-2zM456 67h5v1h-5zM719 67h1v1h-1zM731 67h1v1h-1zM222 68h1v1h-1zM461 68h7v1h-7zM718 68h1v1h-1zM730 68h1v1h-1zM222 69h1v1h-1zM468 69h2v1h-2zM716 69h2v1h-2zM729 69h1v1h-1zM223 70h1v1h-1zM470 70h2v1h-2zM715 70h1v1h-1zM727 70h2v1h-2zM223 71h1v1h-1zM472 71h2v1h-2zM713 71h2v1h-2zM726 71h1v1h-1zM223 72h1v1h-1zM474 72h2v1h-2zM711 72h2v1h-2zM725 72h1v1h-1zM224 73h1v1h-1zM476 73h2v1h-2zM705 73h6v1h-6zM724 73h1v1h-1zM225 74h2v1h-2zM478 74h1v1h-1zM704 74h1v1h-1zM722 74h2v1h-2zM227 75h1v1h-1zM479 75h1v1h-1zM703 75h1v1h-1zM721 75h1v1h-1zM227 76h1v1h-1zM480 76h2v1h-2zM703 76h1v1h-1zM720 76h1v1h-1zM228 77h1v1h-1zM482 77h1v1h-1zM659 77h3v1h-3zM704 77h1v1h-1zM718 77h2v1h-2zM228 78h1v1h-1zM483 78h1v1h-1zM659 78h1v1h-1zM661 78h1v1h-1zM701 78h1v1h-1zM704 78h1v1h-1zM717 78h1v1h-1zM228 79h1v1h-1zM483 79h1v1h-1zM658 79h1v1h-1zM661 79h1v1h-1zM699 79h2v1h-2zM702 79h1v1h-1zM704 79h1v1h-1zM716 79h1v1h-1zM227 80h1v1h-1zM484 80h1v1h-1zM658 80h1v1h-1zM661 80h1v1h-1zM698 80h1v1h-1zM702 80h2v1h-2zM714 80h2v1h-2zM227 81h1v1h-1zM484 81h1v1h-1zM657 81h1v1h-1zM659 81h2v1h-2zM697 81h1v1h-1zM703 81h1v1h-1zM713 81h1v1h-1zM227 82h1v1h-1zM485 82h1v1h-1zM656 82h1v1h-1zM696 82h1v1h-1zM711 82h2v1h-2zM227 83h1v1h-1zM485 83h1v1h-1zM655 83h1v1h-1zM695 83h1v1h-1zM710 83h1v1h-1zM226 84h1v1h-1zM486 84h1v1h-1zM655 84h1v1h-1zM694 84h1v1h-1zM709 84h1v1h-1zM226 85h1v1h-1zM486 85h1v1h-1zM655 85h1v1h-1zM693 85h1v1h-1zM707 85h2v1h-2zM226 86h1v1h-1zM487 86h1v1h-1zM655 86h1v1h-1zM692 86h1v1h-1zM706 86h1v1h-1zM226 87h1v1h-1zM488 87h1v1h-1zM654 87h2v1h-2zM691 87h1v1h-1zM704 87h2v1h-2zM225 88h1v1h-1zM489 88h2v1h-2zM652 88h2v1h-2zM690 88h1v1h-1zM703 88h1v1h-1zM225 89h1v1h-1zM491 89h1v1h-1zM650 89h2v1h-2zM689 89h1v1h-1zM701 89h2v1h-2zM225 90h1v1h-1zM492 90h1v1h-1zM649 90h1v1h-1zM687 90h2v1h-2zM700 90h1v1h-1zM224 91h1v1h-1zM493 91h2v1h-2zM649 91h1v1h-1zM686 91h1v1h-1zM698 91h2v1h-2zM224 92h1v1h-1zM495 92h1v1h-1zM648 92h1v1h-1zM685 92h1v1h-1zM696 92h2v1h-2zM223 93h1v1h-1zM496 93h2v1h-2zM648 93h1v1h-1zM675 93h1v1h-1zM683 93h2v1h-2zM695 93h1v1h-1zM222 94h2v1h-2zM498 94h1v1h-1zM648 94h1v1h-1zM674 94h1v1h-1zM676 94h1v1h-1zM680 94h3v1h-3zM693 94h2v1h-2zM220 95h2v1h-2zM499 95h1v1h-1zM648 95h1v1h-1zM673 95h1v1h-1zM677 95h3v1h-3zM692 95h1v1h-1zM218 96h2v1h-2zM500 96h2v1h-2zM648 96h1v1h-1zM661 96h5v1h-5zM671 96h2v1h-2zM690 96h2v1h-2zM216 97h2v1h-2zM502 97h1v1h-1zM647 97h1v1h-1zM658 97h3v1h-3zM666 97h5v1h-5zM688 97h2v1h-2zM215 98h1v1h-1zM503 98h1v1h-1zM646 98h1v1h-1zM658 98h1v1h-1zM686 98h2v1h-2zM214 99h1v1h-1zM504 99h1v1h-1zM645 99h1v1h-1zM657 99h1v1h-1zM684 99h2v1h-2zM213 100h1v1h-1zM505 100h2v1h-2zM510 100h3v1h-3zM646 100h1v1h-1zM657 100h1v1h-1zM682 100h2v1h-2zM212 101h1v1h-1zM507 101h1v1h-1zM509 101h1v1h-1zM513 101h3v1h-3zM647 101h2v1h-2zM658 101h1v1h-1zM680 101h2v1h-2zM213 102h1v1h-1zM508 102h1v1h-1zM516 102h1v1h-1zM649 102h1v1h-1zM659 102h1v1h-1zM679 102h1v1h-1zM214 103h1v1h-1zM517 103h2v1h-2zM648 103h1v1h-1zM660 103h3v1h-3zM677 103h2v1h-2zM214 104h1v1h-1zM519 104h2v1h-2zM648 104h1v1h-1zM663 104h5v1h-5zM676 104h1v1h-1zM215 105h1v1h-1zM521 105h3v1h-3zM647 105h2v1h-2zM668 105h3v1h-3zM674 105h2v1h-2zM216 106h1v1h-1zM524 106h2v1h-2zM649 106h3v1h-3zM662 106h1v1h-1zM671 106h3v1h-3zM216 107h1v1h-1zM526 107h1v1h-1zM648 107h2v1h-2zM661 107h1v1h-1zM671 107h2v1h-2zM216 108h1v1h-1zM527 108h1v1h-1zM646 108h2v1h-2zM660 108h1v1h-1zM670 108h1v1h-1zM216 109h1v1h-1zM527 109h1v1h-1zM646 109h1v1h-1zM660 109h1v1h-1zM669 109h1v1h-1zM217 110h1v1h-1zM528 110h1v1h-1zM645 110h1v1h-1zM660 110h1v1h-1zM668 110h1v1h-1zM217 111h1v1h-1zM529 111h2v1h-2zM645 111h1v1h-1zM656 111h2v1h-2zM661 111h1v1h-1zM667 111h1v1h-1zM217 112h1v1h-1zM531 112h4v1h-4zM645 112h1v1h-1zM654 112h2v1h-2zM657 112h1v1h-1zM661 112h1v1h-1zM666 112h1v1h-1zM217 113h1v1h-1zM535 113h2v1h-2zM646 113h2v1h-2zM653 113h1v1h-1zM656 113h1v1h-1zM661 113h1v1h-1zM665 113h1v1h-1zM217 114h1v1h-1zM536 114h1v1h-1zM648 114h2v1h-2zM652 114h1v1h-1zM656 114h1v1h-1zM661 114h1v1h-1zM664 114h1v1h-1zM216 115h1v1h-1zM536 115h1v1h-1zM650 115h2v1h-2zM655 115h1v1h-1zM660 115h1v1h-1zM663 115h1v1h-1zM216 116h1v1h-1zM536 116h1v1h-1zM654 116h2v1h-2zM660 116h1v1h-1zM662 116h1v1h-1zM215 117h1v1h-1zM537 117h1v1h-1zM656 117h4v1h-4zM661 117h1v1h-1zM215 118h1v1h-1zM537 118h1v1h-1zM658 118h2v1h-2zM661 118h1v1h-1zM214 119h1v1h-1zM537 119h1v1h-1zM657 119h2v1h-2zM660 119h1v1h-1zM214 120h1v1h-1zM537 120h1v1h-1zM657 120h1v1h-1zM659 120h1v1h-1zM215 121h1v1h-1zM537 121h1v1h-1zM657 121h2v1h-2zM215 122h1v1h-1zM538 122h1v1h-1zM656 122h1v1h-1zM216 123h1v1h-1zM539 123h1v1h-1zM655 123h1v1h-1zM217 124h1v1h-1zM540 124h1v1h-1zM653 124h2v1h-2zM217 125h1v1h-1zM541 125h1v1h-1zM652 125h1v1h-1zM218 126h1v1h-1zM542 126h1v1h-1zM651 126h1v1h-1zM219 127h1v1h-1zM542 127h1v1h-1zM650 127h1v1h-1zM220 128h1v1h-1zM543 128h1v1h-1zM649 128h1v1h-1zM220 129h1v1h-1zM543 129h1v1h-1zM649 129h1v1h-1zM221 130h1v1h-1zM543 130h1v1h-1zM648 130h1v1h-1zM220 131h1v1h-1zM543 131h1v1h-1zM647 131h1v1h-1zM220 132h1v1h-1zM544 132h1v1h-1zM646 132h1v1h-1zM219 133h1v1h-1zM544 133h1v1h-1zM645 133h1v1h-1zM218 134h1v1h-1zM544 134h1v1h-1zM644 134h1v1h-1zM217 135h1v1h-1zM545 135h1v1h-1zM643 135h1v1h-1zM217 136h1v1h-1zM546 136h1v1h-1zM643 136h1v1h-1zM216 137h1v1h-1zM546 137h1v1h-1zM642 137h1v1h-1zM215 138h1v1h-1zM547 138h1v1h-1zM641 138h1v1h-1zM214 139h1v1h-1zM548 139h1v1h-1zM640 139h1v1h-1zM214 140h1v1h-1zM549 140h1v1h-1zM640 140h1v1h-1zM213 141h1v1h-1zM549 141h1v1h-1zM639 141h1v1h-1zM212 142h1v1h-1zM550 142h1v1h-1zM639 142h1v1h-1zM212 143h1v1h-1zM551 143h2v1h-2zM638 143h1v1h-1zM212 144h2v1h-2zM553 144h1v1h-1zM638 144h1v1h-1zM212 145h2v1h-2zM554 145h1v1h-1zM637 145h1v1h-1zM212 146h2v1h-2zM555 146h2v1h-2zM637 146h1v1h-1zM212 147h1v1h-1zM214 147h1v1h-1zM557 147h1v1h-1zM636 147h1v1h-1zM212 148h1v1h-1zM214 148h1v1h-1zM558 148h2v1h-2zM636 148h1v1h-1zM212 149h1v1h-1zM215 149h1v1h-1zM560 149h2v1h-2zM636 149h1v1h-1zM212 150h1v1h-1zM215 150h1v1h-1zM562 150h3v1h-3zM635 150h1v1h-1zM212 151h1v1h-1zM215 151h1v1h-1zM565 151h4v1h-4zM635 151h1v1h-1zM212 152h1v1h-1zM215 152h1v1h-1zM569 152h2v1h-2zM635 152h1v1h-1zM212 153h1v1h-1zM216 153h1v1h-1zM571 153h2v1h-2zM634 153h1v1h-1zM212 154h1v1h-1zM216 154h1v1h-1zM573 154h2v1h-2zM634 154h1v1h-1zM212 155h1v1h-1zM216 155h1v1h-1zM575 155h2v1h-2zM634 155h1v1h-1zM212 156h1v1h-1zM216 156h1v1h-1zM577 156h1v1h-1zM634 156h1v1h-1zM212 157h1v1h-1zM217 157h1v1h-1zM578 157h1v1h-1zM633 157h1v1h-1zM212 158h1v1h-1zM217 158h1v1h-1zM579 158h1v1h-1zM633 158h1v1h-1zM213 159h1v1h-1zM217 159h1v1h-1zM580 159h2v1h-2zM633 159h1v1h-1zM213 160h1v1h-1zM217 160h1v1h-1zM582 160h1v1h-1zM632 160h1v1h-1zM213 161h1v1h-1zM217 161h1v1h-1zM583 161h1v1h-1zM632 161h1v1h-1zM213 162h1v1h-1zM217 162h1v1h-1zM584 162h1v1h-1zM631 162h1v1h-1zM213 163h1v1h-1zM217 163h1v1h-1zM582 163h2v1h-2zM631 163h1v1h-1zM213 164h1v1h-1zM218 164h1v1h-1zM581 164h1v1h-1zM631 164h1v1h-1zM213 165h1v1h-1zM218 165h1v1h-1zM580 165h1v1h-1zM630 165h1v1h-1zM214 166h1v1h-1zM218 166h1v1h-1zM578 166h2v1h-2zM630 166h1v1h-1zM214 167h1v1h-1zM218 167h1v1h-1zM577 167h1v1h-1zM629 167h1v1h-1zM215 168h1v1h-1zM218 168h1v1h-1zM575 168h2v1h-2zM629 168h1v1h-1zM215 169h1v1h-1zM219 169h1v1h-1zM574 169h1v1h-1zM629 169h1v1h-1zM215 170h1v1h-1zM220 170h1v1h-1zM573 170h1v1h-1zM628 170h1v1h-1zM216 171h1v1h-1zM221 171h1v1h-1zM571 171h2v1h-2zM628 171h1v1h-1zM216 172h1v1h-1zM222 172h1v1h-1zM570 172h1v1h-1zM627 172h1v1h-1zM216 173h1v1h-1zM223 173h1v1h-1zM570 173h1v1h-1zM627 173h1v1h-1zM217 174h1v1h-1zM223 174h1v1h-1zM569 174h1v1h-1zM626 174h1v1h-1zM217 175h1v1h-1zM223 175h1v1h-1zM569 175h1v1h-1zM626 175h1v1h-1zM217 176h1v1h-1zM223 176h1v1h-1zM569 176h1v1h-1zM625 176h1v1h-1zM216 177h1v1h-1zM223 177h1v1h-1zM568 177h1v1h-1zM625 177h1v1h-1zM216 178h1v1h-1zM223 178h1v1h-1zM568 178h1v1h-1zM625 178h1v1h-1zM215 179h1v1h-1zM223 179h1v1h-1zM566 179h2v1h-2zM624 179h1v1h-1zM215 180h1v1h-1zM222 180h1v1h-1zM564 180h2v1h-2zM624 180h1v1h-1zM215 181h1v1h-1zM222 181h1v1h-1zM562 181h2v1h-2zM623 181h1v1h-1zM216 182h1v1h-1zM222 182h1v1h-1zM560 182h2v1h-2zM623 182h1v1h-1zM216 183h1v1h-1zM222 183h1v1h-1zM559 183h1v1h-1zM622 183h1v1h-1zM216 184h1v1h-1zM221 184h1v1h-1zM558 184h1v1h-1zM622 184h1v1h-1zM215 185h1v1h-1zM221 185h1v1h-1zM556 185h2v1h-2zM621 185h1v1h-1zM214 186h1v1h-1zM220 186h1v1h-1zM555 186h1v1h-1zM621 186h1v1h-1zM198 187h3v1h-3zM214 187h1v1h-1zM219 187h1v1h-1zM554 187h1v1h-1zM620 187h1v1h-1zM197 188h1v1h-1zM200 188h7v1h-7zM210 188h4v1h-4zM218 188h1v1h-1zM554 188h1v1h-1zM620 188h1v1h-1zM196 189h1v1h-1zM200 189h1v1h-1zM205 189h13v1h-13zM553 189h1v1h-1zM619 189h1v1h-1zM195 190h1v1h-1zM200 190h1v1h-1zM553 190h1v1h-1zM618 190h1v1h-1zM196 191h1v1h-1zM201 191h1v1h-1zM552 191h1v1h-1zM617 191h1v1h-1zM196 192h1v1h-1zM201 192h1v1h-1zM552 192h1v1h-1zM617 192h1v1h-1zM197 193h1v1h-1zM201 193h1v1h-1zM551 193h1v1h-1zM616 193h1v1h-1zM197 194h1v1h-1zM201 194h1v1h-1zM551 194h1v1h-1zM615 194h1v1h-1zM197 195h1v1h-1zM201 195h1v1h-1zM551 195h1v1h-1zM614 195h1v1h-1zM196 196h1v1h-1zM200 196h1v1h-1zM551 196h1v1h-1zM613 196h1v1h-1zM196 197h1v1h-1zM200 197h1v1h-1zM551 197h1v1h-1zM612 197h1v1h-1zM196 198h1v1h-1zM200 198h1v1h-1zM551 198h1v1h-1zM611 198h1v1h-1zM196 199h1v1h-1zM200 199h1v1h-1zM552 199h1v1h-1zM610 199h1v1h-1zM197 200h1v1h-1zM200 200h1v1h-1zM552 200h1v1h-1zM609 200h1v1h-1zM197 201h1v1h-1zM200 201h1v1h-1zM552 201h1v1h-1zM608 201h1v1h-1zM198 202h1v1h-1zM201 202h1v1h-1zM552 202h1v1h-1zM607 202h1v1h-1zM198 203h1v1h-1zM201 203h1v1h-1zM552 203h1v1h-1zM606 203h1v1h-1zM197 204h1v1h-1zM201 204h1v1h-1zM552 204h1v1h-1zM605 204h1v1h-1zM195 205h2v1h-2zM200 205h1v1h-1zM552 205h1v1h-1zM604 205h1v1h-1zM194 206h1v1h-1zM199 206h1v1h-1zM552 206h1v1h-1zM603 206h1v1h-1zM193 207h1v1h-1zM199 207h1v1h-1zM552 207h1v1h-1zM602 207h1v1h-1zM192 208h1v1h-1zM198 208h1v1h-1zM552 208h1v1h-1zM601 208h1v1h-1zM192 209h1v1h-1zM197 209h1v1h-1zM553 209h1v1h-1zM600 209h1v1h-1zM191 210h1v1h-1zM197 210h1v1h-1zM553 210h1v1h-1zM598 210h2v1h-2zM191 211h1v1h-1zM198 211h1v1h-1zM553 211h1v1h-1zM597 211h1v1h-1zM190 212h1v1h-1zM198 212h1v1h-1zM553 212h1v1h-1zM596 212h1v1h-1zM190 213h1v1h-1zM199 213h1v1h-1zM553 213h1v1h-1zM594 213h2v1h-2zM189 214h1v1h-1zM199 214h1v1h-1zM553 214h1v1h-1zM593 214h1v1h-1zM189 215h1v1h-1zM199 215h1v1h-1zM553 215h1v1h-1zM591 215h2v1h-2zM189 216h1v1h-1zM198 216h1v1h-1zM553 216h1v1h-1zM590 216h1v1h-1zM189 217h1v1h-1zM198 217h1v1h-1zM553 217h1v1h-1zM589 217h1v1h-1zM188 218h1v1h-1zM197 218h1v1h-1zM553 218h1v1h-1zM588 218h1v1h-1zM188 219h1v1h-1zM196 219h1v1h-1zM553 219h1v1h-1zM587 219h1v1h-1zM188 220h1v1h-1zM196 220h1v1h-1zM552 220h1v1h-1zM585 220h2v1h-2zM188 221h1v1h-1zM195 221h1v1h-1zM552 221h1v1h-1zM584 221h1v1h-1zM188 222h1v1h-1zM195 222h1v1h-1zM552 222h1v1h-1zM583 222h1v1h-1zM188 223h1v1h-1zM195 223h1v1h-1zM552 223h1v1h-1zM582 223h1v1h-1zM187 224h1v1h-1zM195 224h1v1h-1zM552 224h1v1h-1zM581 224h1v1h-1zM187 225h1v1h-1zM195 225h1v1h-1zM552 225h1v1h-1zM579 225h2v1h-2zM187 226h1v1h-1zM195 226h1v1h-1zM552 226h1v1h-1zM578 226h1v1h-1zM187 227h1v1h-1zM195 227h1v1h-1zM552 227h1v1h-1zM577 227h1v1h-1zM187 228h1v1h-1zM195 228h1v1h-1zM552 228h1v1h-1zM575 228h2v1h-2zM187 229h1v1h-1zM195 229h1v1h-1zM553 229h1v1h-1zM574 229h1v1h-1zM187 230h1v1h-1zM195 230h1v1h-1zM553 230h1v1h-1zM572 230h2v1h-2zM187 231h1v1h-1zM195 231h1v1h-1zM553 231h2v1h-2zM571 231h1v1h-1zM187 232h1v1h-1zM195 232h1v1h-1zM555 232h3v1h-3zM569 232h2v1h-2zM187 233h1v1h-1zM196 233h1v1h-1zM558 233h1v1h-1zM567 233h2v1h-2zM187 234h1v1h-1zM196 234h1v1h-1zM559 234h1v1h-1zM565 234h2v1h-2zM188 235h1v1h-1zM196 235h1v1h-1zM560 235h5v1h-5zM188 236h1v1h-1zM196 236h1v1h-1zM561 236h2v1h-2zM189 237h1v1h-1zM196 237h1v1h-1zM560 237h1v1h-1zM189 238h1v1h-1zM196 238h1v1h-1zM559 238h1v1h-1zM190 239h1v1h-1zM196 239h1v1h-1zM559 239h1v1h-1zM191 240h1v1h-1zM197 240h1v1h-1zM558 240h1v1h-1zM192 241h1v1h-1zM197 241h1v1h-1zM557 241h1v1h-1zM192 242h1v1h-1zM197 242h1v1h-1zM557 242h1v1h-1zM193 243h1v1h-1zM197 243h1v1h-1zM556 243h1v1h-1zM193 244h1v1h-1zM197 244h1v1h-1zM556 244h1v1h-1zM193 245h1v1h-1zM198 245h1v1h-1zM556 245h1v1h-1zM194 246h1v1h-1zM198 246h1v1h-1zM555 246h1v1h-1zM194 247h1v1h-1zM199 247h1v1h-1zM555 247h1v1h-1zM194 248h1v1h-1zM199 248h1v1h-1zM555 248h1v1h-1zM194 249h1v1h-1zM200 249h1v1h-1zM554 249h1v1h-1zM194 250h1v1h-1zM201 250h1v1h-1zM554 250h1v1h-1zM195 251h1v1h-1zM201 251h1v1h-1zM554 251h1v1h-1zM195 252h1v1h-1zM202 252h1v1h-1zM553 252h1v1h-1zM195 253h1v1h-1zM203 253h1v1h-1zM553 253h1v1h-1zM195 254h1v1h-1zM204 254h1v1h-1zM553 254h1v1h-1zM196 255h1v1h-1zM205 255h1v1h-1zM553 255h1v1h-1zM197 256h2v1h-2zM205 256h1v1h-1zM552 256h1v1h-1zM199 257h1v1h-1zM206 257h1v1h-1zM552 257h1v1h-1zM199 258h1v1h-1zM207 258h1v1h-1zM552 258h1v1h-1zM199 259h1v1h-1zM208 259h1v1h-1zM551 259h1v1h-1zM200 260h1v1h-1zM209 260h1v1h-1zM550 260h1v1h-1zM200 261h1v1h-1zM210 261h1v1h-1zM549 261h1v1h-1zM200 262h1v1h-1zM210 262h1v1h-1zM548 262h1v1h-1zM200 263h1v1h-1zM211 263h1v1h-1zM547 263h1v1h-1zM200 264h1v1h-1zM212 264h2v1h-2zM546 264h1v1h-1zM201 265h1v1h-1zM214 265h2v1h-2zM545 265h1v1h-1zM201 266h1v1h-1zM216 266h2v1h-2zM543 266h2v1h-2zM201 267h1v1h-1zM218 267h1v1h-1zM542 267h1v1h-1zM201 268h1v1h-1zM219 268h1v1h-1zM541 268h1v1h-1zM200 269h1v1h-1zM220 269h1v1h-1zM540 269h1v1h-1zM198 270h2v1h-2zM221 270h1v1h-1zM539 270h1v1h-1zM197 271h1v1h-1zM222 271h1v1h-1zM539 271h1v1h-1zM196 272h1v1h-1zM223 272h1v1h-1zM538 272h1v1h-1zM195 273h1v1h-1zM224 273h2v1h-2zM537 273h1v1h-1zM190 274h5v1h-5zM226 274h1v1h-1zM536 274h1v1h-1zM185 275h5v1h-5zM227 275h1v1h-1zM536 275h1v1h-1zM187 276h2v1h-2zM228 276h1v1h-1zM535 276h1v1h-1zM189 277h2v1h-2zM229 277h1v1h-1zM535 277h1v1h-1zM191 278h1v1h-1zM230 278h2v1h-2zM534 278h1v1h-1zM192 279h2v1h-2zM232 279h1v1h-1zM534 279h1v1h-1zM194 280h1v1h-1zM233 280h1v1h-1zM535 280h1v1h-1zM193 281h1v1h-1zM234 281h1v1h-1zM535 281h1v1h-1zM193 282h1v1h-1zM234 282h1v1h-1zM535 282h1v1h-1zM192 283h1v1h-1zM235 283h1v1h-1zM533 283h2v1h-2zM191 284h1v1h-1zM235 284h1v1h-1zM532 284h1v1h-1zM191 285h1v1h-1zM235 285h1v1h-1zM254 285h6v1h-6zM268 285h15v1h-15zM531 285h1v1h-1zM190 286h1v1h-1zM236 286h1v1h-1zM251 286h3v1h-3zM260 286h8v1h-8zM283 286h5v1h-5zM529 286h2v1h-2zM191 287h1v1h-1zM236 287h1v1h-1zM248 287h3v1h-3zM288 287h2v1h-2zM528 287h1v1h-1zM192 288h1v1h-1zM237 288h2v1h-2zM244 288h4v1h-4zM290 288h2v1h-2zM526 288h2v1h-2zM192 289h1v1h-1zM239 289h5v1h-5zM292 289h1v1h-1zM524 289h2v1h-2zM193 290h1v1h-1zM293 290h2v1h-2zM522 290h2v1h-2zM194 291h1v1h-1zM295 291h1v1h-1zM520 291h2v1h-2zM195 292h2v1h-2zM296 292h1v1h-1zM518 292h2v1h-2zM197 293h1v1h-1zM297 293h1v1h-1zM517 293h1v1h-1zM198 294h1v1h-1zM298 294h1v1h-1zM515 294h2v1h-2zM199 295h2v1h-2zM299 295h1v1h-1zM495 295h3v1h-3zM514 295h1v1h-1zM201 296h1v1h-1zM300 296h2v1h-2zM496 296h4v1h-4zM513 296h1v1h-1zM202 297h1v1h-1zM302 297h1v1h-1zM498 297h2v1h-2zM512 297h1v1h-1zM203 298h1v1h-1zM303 298h1v1h-1zM496 298h2v1h-2zM500 298h1v1h-1zM511 298h1v1h-1zM204 299h1v1h-1zM304 299h1v1h-1zM495 299h1v1h-1zM500 299h1v1h-1zM510 299h1v1h-1zM205 300h1v1h-1zM305 300h2v1h-2zM495 300h1v1h-1zM500 300h1v1h-1zM509 300h1v1h-1zM206 301h1v1h-1zM307 301h1v1h-1zM494 301h1v1h-1zM500 301h1v1h-1zM508 301h1v1h-1zM207 302h1v1h-1zM308 302h2v1h-2zM494 302h1v1h-1zM499 302h1v1h-1zM508 302h1v1h-1zM208 303h1v1h-1zM310 303h3v1h-3zM495 303h2v1h-2zM499 303h2v1h-2zM505 303h3v1h-3zM209 304h1v1h-1zM313 304h4v1h-4zM497 304h1v1h-1zM501 304h4v1h-4zM210 305h1v1h-1zM317 305h4v1h-4zM497 305h1v1h-1zM211 306h1v1h-1zM321 306h4v1h-4zM495 306h2v1h-2zM212 307h2v1h-2zM325 307h4v1h-4zM493 307h2v1h-2zM214 308h2v1h-2zM329 308h4v1h-4zM491 308h2v1h-2zM216 309h3v1h-3zM333 309h6v1h-6zM489 309h2v1h-2zM219 310h2v1h-2zM339 310h4v1h-4zM387 310h17v1h-17zM486 310h3v1h-3zM221 311h2v1h-2zM343 311h2v1h-2zM385 311h2v1h-2zM404 311h9v1h-9zM483 311h3v1h-3zM223 312h2v1h-2zM345 312h1v1h-1zM382 312h3v1h-3zM413 312h7v1h-7zM481 312h2v1h-2zM225 313h2v1h-2zM345 313h1v1h-1zM380 313h2v1h-2zM420 313h2v1h-2zM478 313h3v1h-3zM227 314h2v1h-2zM344 314h1v1h-1zM378 314h2v1h-2zM422 314h1v1h-1zM476 314h2v1h-2zM229 315h2v1h-2zM344 315h1v1h-1zM377 315h1v1h-1zM423 315h1v1h-1zM473 315h3v1h-3zM231 316h3v1h-3zM343 316h1v1h-1zM375 316h2v1h-2zM423 316h1v1h-1zM471 316h2v1h-2zM234 317h2v1h-2zM344 317h2v1h-2zM373 317h2v1h-2zM424 317h1v1h-1zM468 317h3v1h-3zM236 318h3v1h-3zM346 318h2v1h-2zM355 318h2v1h-2zM371 318h2v1h-2zM425 318h3v1h-3zM433 318h8v1h-8zM466 318h2v1h-2zM239 319h3v1h-3zM348 319h3v1h-3zM353 319h2v1h-2zM357 319h2v1h-2zM367 319h4v1h-4zM428 319h5v1h-5zM441 319h2v1h-2zM463 319h3v1h-3zM242 320h2v1h-2zM351 320h2v1h-2zM359 320h1v1h-1zM365 320h2v1h-2zM443 320h2v1h-2zM461 320h2v1h-2zM244 321h3v1h-3zM360 321h1v1h-1zM363 321h2v1h-2zM445 321h2v1h-2zM458 321h3v1h-3zM247 322h2v1h-2zM361 322h2v1h-2zM447 322h2v1h-2zM455 322h3v1h-3zM249 323h2v1h-2zM448 323h1v1h-1zM453 323h2v1h-2zM251 324h2v1h-2zM449 324h1v1h-1zM451 324h2v1h-2zM253 325h2v1h-2zM449 325h2v1h-2zM255 326h2v1h-2zM257 327h2v1h-2zM259 328h2v1h-2zM261 329h2v1h-2zM263 330h2v1h-2zM265 331h1v1h-1zM266 332h2v1h-2zM268 333h1v1h-1zM269 334h1v1h-1zM270 335h2v1h-2zM272 336h1v1h-1zM273 337h1v1h-1zM274 338h2v1h-2zM276 339h1v1h-1zM277 340h1v1h-1zM278 341h1v1h-1zM279 342h1v1h-1zM280 343h1v1h-1zM281 344h1v1h-1zM282 345h1v1h-1zM283 346h1v1h-1zM284 347h1v1h-1zM285 348h1v1h-1zM285 349h1v1h-1zM286 350h1v1h-1zM287 351h1v1h-1zM288 352h1v1h-1zM288 353h1v1h-1zM289 354h1v1h-1zM289 355h1v1h-1zM290 356h1v1h-1zM290 357h1v1h-1zM290 358h1v1h-1zM290 359h1v1h-1zM290 360h1v1h-1zM290 361h1v1h-1zM289 362h1v1h-1zM288 363h1v1h-1zM288 364h1v1h-1zM287 365h1v1h-1zM286 366h1v1h-1zM285 367h1v1h-1zM284 368h1v1h-1zM283 369h1v1h-1zM282 370h1v1h-1zM281 371h1v1h-1zM280 372h1v1h-1zM279 373h1v1h-1zM279 374h1v1h-1zM278 375h1v1h-1zM277 376h1v1h-1zM276 377h1v1h-1zM276 378h1v1h-1zM275 379h1v1h-1zM275 380h1v1h-1zM274 381h1v1h-1zM274 382h1v1h-1zM273 383h1v1h-1zM273 384h1v1h-1zM272 385h1v1h-1zM272 386h1v1h-1zM272 387h1v1h-1zM272 388h1v1h-1zM272 389h1v1h-1zM272 390h1v1h-1zM272 391h1v1h-1zM272 392h1v1h-1zM272 393h1v1h-1zM272 394h1v1h-1zM273 395h1v1h-1zM273 396h1v1h-1zM273 397h1v1h-1zM273 398h1v1h-1zM274 399h1v1h-1zM274 400h1v1h-1zM275 401h1v1h-1zM275 402h1v1h-1zM276 403h1v1h-1zM276 404h1v1h-1zM277 405h1v1h-1zM277 406h1v1h-1zM278 407h1v1h-1zM279 408h1v1h-1zM280 409h1v1h-1zM280 410h1v1h-1zM281 411h1v1h-1zM282 412h1v1h-1zM283 413h1v1h-1zM284 414h1v1h-1zM285 415h1v1h-1zM286 416h1v1h-1zM287 417h1v1h-1zM288 418h1v1h-1zM289 419h2v1h-2zM291 420h1v1h-1zM292 421h1v1h-1zM293 422h2v1h-2zM317 422h1v1h-1zM295 423h2v1h-2zM315 423h2v1h-2zM318 423h1v1h-1zM297 424h2v1h-2zM312 424h3v1h-3zM318 424h1v1h-1zM299 425h2v1h-2zM308 425h4v1h-4zM319 425h1v1h-1zM301 426h3v1h-3zM306 426h2v1h-2zM319 426h1v1h-1zM304 427h2v1h-2zM320 427h1v1h-1zM321 428h1v1h-1zM321 429h1v1h-1zM321 430h1v1h-1zM321 431h1v1h-1zM322 432h1v1h-1zM322 433h1v1h-1zM322 434h1v1h-1zM322 435h1v1h-1zM322 436h1v1h-1zM322 437h1v1h-1zM322 438h1v1h-1zM322 439h1v1h-1zM323 440h1v1h-1zM323 441h1v1h-1zM323 442h1v1h-1zM323 443h1v1h-1zM323 444h1v1h-1zM323 445h1v1h-1zM323 446h1v1h-1zM323 447h1v1h-1zM324 448h1v1h-1zM324 449h1v1h-1zM324 450h1v1h-1zM324 451h1v1h-1zM324 452h1v1h-1zM324 453h1v1h-1zM324 454h1v1h-1zM324 455h1v1h-1zM325 456h1v1h-1zM325 457h1v1h-1zM325 458h1v1h-1zM325 459h1v1h-1zM325 460h1v1h-1zM325 461h1v1h-1zM325 462h1v1h-1zM324 463h1v1h-1zM324 464h1v1h-1zM324 465h1v1h-1zM323 466h1v1h-1zM322 467h1v1h-1zM322 468h1v1h-1zM321 469h1v1h-1zM320 470h1v1h-1zM319 471h1v1h-1zM318 472h1v1h-1zM317 473h1v1h-1zM317 474h1v1h-1zM316 475h1v1h-1zM315 476h1v1h-1zM314 477h1v1h-1zM313 478h1v1h-1zM313 479h1v1h-1zM312 480h1v1h-1zM311 481h1v1h-1zM310 482h1v1h-1zM309 483h1v1h-1zM308 484h1v1h-1zM307 485h1v1h-1zM306 486h1v1h-1zM305 487h1v1h-1zM305 488h1v1h-1zM304 489h1v1h-1zM303 490h1v1h-1zM303 491h1v1h-1zM302 492h1v1h-1zM301 493h1v1h-1zM301 494h1v1h-1zM300 495h1v1h-1zM299 496h1v1h-1zM299 497h1v1h-1zM298 498h1v1h-1zM298 499h1v1h-1zM297 500h1v1h-1zM297 501h1v1h-1zM296 502h1v1h-1zM295 503h1v1h-1zM294 504h1v1h-1zM293 505h1v1h-1zM292 506h1v1h-1zM292 507h1v1h-1zM291 508h1v1h-1zM290 509h1v1h-1zM289 510h1v1h-1zM288 511h1v1h-1zM286 512h2v1h-2zM285 513h1v1h-1zM284 514h1v1h-1zM282 515h2v1h-2zM281 516h1v1h-1zM280 517h1v1h-1zM279 518h1v1h-1zM278 519h1v1h-1zM277 520h1v1h-1zM275 521h2v1h-2zM274 522h1v1h-1zM273 523h1v1h-1zM272 524h1v1h-1zM271 525h1v1h-1zM270 526h1v1h-1zM269 527h1v1h-1zM268 528h1v1h-1zM268 529h1v1h-1zM267 530h1v1h-1zM266 531h1v1h-1zM265 532h1v1h-1zM265 533h1v1h-1zM264 534h1v1h-1zM264 535h1v1h-1zM263 536h1v1h-1zM263 537h1v1h-1zM262 538h1v1h-1zM262 539h1v1h-1zM262 540h1v1h-1zM262 541h1v1h-1zM262 542h1v1h-1zM262 543h1v1h-1zM261 544h1v1h-1zM261 545h1v1h-1zM261 546h1v1h-1zM261 547h1v1h-1zM261 548h1v1h-1zM261 549h1v1h-1zM261 550h1v1h-1zM260 551h1v1h-1zM260 552h1v1h-1zM260 553h1v1h-1zM260 554h1v1h-1zM258 555h2v1h-2zM257 556h1v1h-1zM255 557h2v1h-2zM254 558h1v1h-1zM252 559h2v1h-2zM250 560h2v1h-2zM248 561h2v1h-2zM246 562h2v1h-2zM244 563h2v1h-2zM242 564h2v1h-2zM240 565h2v1h-2zM238 566h2v1h-2zM236 567h2v1h-2zM234 568h2v1h-2zM232 569h2v1h-2zM229 570h3v1h-3zM227 571h2v1h-2zM224 572h3v1h-3zM222 573h2v1h-2zM219 574h3v1h-3zM217 575h2v1h-2zM214 576h3v1h-3zM212 577h2v1h-2zM209 578h3v1h-3zM206 579h3v1h-3zM202 580h4v1h-4zM199 581h3v1h-3zM196 582h3v1h-3zM193 583h3v1h-3zM190 584h3v1h-3zM187 585h3v1h-3zM183 586h4v1h-4zM178 587h5v1h-5zM174 588h4v1h-4zM171 589h3v1h-3zM167 590h4v1h-4zM164 591h3v1h-3zM161 592h3v1h-3zM158 593h3v1h-3zM155 594h3v1h-3zM152 595h3v1h-3zM147 596h5v1h-5zM141 597h6v1h-6zM135 598h6v1h-6zM129 599h6v1h-6zM122 600h7v1h-7zM114 601h8v1h-8zM109 602h5v1h-5zM106 603h3v1h-3zM102 604h4v1h-4zM99 605h3v1h-3zM94 606h5v1h-5zM86 607h8v1h-8zM79 608h7v1h-7zM72 609h7v1h-7zM64 610h8v1h-8zM56 611h8v1h-8zM47 612h9v1h-9zM37 613h10v1h-10zM29 614h8v1h-8zM23 615h6v1h-6zM8 616h15v1h-15zM3 617h5v1h-5zM0 618h3v1h-3z"/>
<g stroke="#808080" stroke-width="1" shape-rendering="crispEdges">
<line x1="9.5" y1="27" x2="9.5" y2="772"/>
<line x1="81.5" y1="27" x2="81.5" y2="772"/>
<line x1="154.5" y1="27" x2="154.5" y2="772"/>
<line x1="227.5" y1="27" x2="227.5" y2="772"/>
<line x1="299.5" y1="27" x2="299.5" y2="772"/>
<line x1="372.5" y1="27" x2="372.5" y2="772"/>
<line x1="445.5" y1="27" x2="445.5" y2="772"/>
<line x1="518.5" y1="27" x2="518.5" y2="772"/>
<line x1="590.5" y1="27" x2="590.5" y2="772"/>
<line x1="663.5" y1="27" x2="663.5" y2="772"/>
<line x1="736.5" y1="27" x2="736.5" y2="772"/>
<line x1="0" y1="36.5" x2="800" y2="36.5"/>
<line x1="0" y1="109.5" x2="800" y2="109.5"/>
<line x1="0" y1="181.5" x2="800" y2="181.5"/>
<line x1="0" y1="254.5" x2="800" y2="254.5"/>
<line x1="0" y1="327.5" x2="800" y2="327.5"/>
<line x1="0" y1="400.5" x2="800" y2="400.5"/>
<line x1="0" y1="472.5" x2="800" y2="472.5"/>
<line x1="0" y1="545.5" x2="800" y2="545.5"/>
<line x1="0" y1="618.5" x2="800" y2="618.5"/>
<line x1="0" y1="690.5" x2="800" y2="690.5"/>
<line x1="0" y1="763.5" x2="800" y2="763.5"/>
</g>
<g stroke="#000" stroke-width="1" shape-rendering="crispEdges">
<line x1="0" y1="27.5" x2="800" y2="27.5"/>
<line x1="0.5" y1="27" x2="0.5" y2="772"/>
<line x1="1.5" y1="27" x2="1.5" y2="31.5"/>
<line x1="1.5" y1="767.5" x2="1.5" y2="772"/>
<line x1="9.5" y1="27" x2="9.5" y2="43.5"/>
<line x1="9.5" y1="755.5" x2="9.5" y2="772"/>
<line x1="16.5" y1="27" x2="16.5" y2="31.5"/>
<line x1="16.5" y1="767.5" x2="16.5" y2="772"/>
<line x1="23.5" y1="27" x2="23.5" y2="31.5"/>
<line x1="23.5" y1="767.5" x2="23.5" y2="772"/>
<line x1="30.5" y1="27" x2="30.5" y2="31.5"/>
<line x1="30.5" y1="767.5" x2="30.5" y2="772"/>
<line x1="38.5" y1="27" x2="38.5" y2="31.5"/>
<line x1="38.5" y1="767.5" x2="38.5" y2="772"/>
<line x1="45.5" y1="27" x2="45.5" y2="36"/>
<line x1="45.5" y1="763" x2="45.5" y2="772"/>
<line x1="52.5" y1="27" x2="52.5" y2="31.5"/>
<line x1="52.5" y1="767.5" x2="52.5" y2="772"/>
<line x1="59.5" y1="27" x2="59.5" y2="31.5"/>
<line x1="59.5" y1="767.5" x2="59.5" y2="772"/>
<line x1="67.5" y1="27" x2="67.5" y2="31.5"/>
<line x1="67.5" y1="767.5" x2="67.5" y2="772"/>
<line x1="74.5" y1="27" x2="74.5" y2="31.5"/>
<line x1="74.5" y1="767.5" x2="74.5" y2="772"/>
<line x1="81.5" y1="27" x2="81.5" y2="43.5"/>
<line x1="81.5" y1="755.5" x2="81.5" y2="772"/>
<line x1="88.5" y1="27" x2="88.5" y2="31.5"/>
<line x1="88.5" y1="767.5" x2="88.5" y2="772"/>
<line x1="96.5" y1="27" x2="96.5" y2="31.5"/>
<line x1="96.5" y1="767.5" x2="96.5" y2="772"/>
<line x1="103.5" y1="27" x2="103.5" y2="31.5"/>
<line x1="103.5" y1="767.5" x2="103.5" y2="772"/>
<line x1="110.5" y1="27" x2="110.5" y2="31.5"/>
<line x1="110.5" y1="767.5" x2="110.5" y2="772"/>
<line x1="118.5" y1="27" x2="118.5" y2="36"/>
<line x1="118.5" y1="763" x2="118.5" y2="772"/>
<line x1="125.5" y1="27" x2="125.5" y2="31.5"/>
<line x1="125.5" y1="767.5" x2="125.5" y2="772"/>
<line x1="132.5" y1="27" x2="132.5" y2="31.5"/>
<line x1="132.5" y1="767.5" x2="132.5" y2="772"/>
<line x1="139.5" y1="27" x2="139.5" y2="31.5"/>
<line x1="139.5" y1="767.5" x2="139.5" y2="772"/>
<line x1="147.5" y1="27" x2="147.5" y2="31.5"/>
<line x1="147.5" y1="767.5" x2="147.5" y2="772"/>
<line x1="154.5" y1="27" x2="154.5" y2="43.5"/>
<line x1="154.5" y1="755.5" x2="154.5" y2="772"/>
<line x1="161.5" y1="27" x2="161.5" y2="31.5"/>
<line x1="161.5" y1="767.5" x2="161.5" y2="772"/>
<line x1="168.5" y1="27" x2="168.5" y2="31.5"/>
<line x1="168.5" y1="767.5" x2="168.5" y2="772"/>
<line x1="176.5" y1="27" x2="176.5" y2="31.5"/>
<line x1="176.5" y1="767.5" x2="176.5" y2="772"/>
<line x1="183.5" y1="27" x2="183.5" y2="31.5"/>
<line x1="183.5" y1="767.5" x2="183.5" y2="772"/>
<line x1="190.5" y1="27" x2="190.5" y2="36"/>
<line x1="190.5" y1="763" x2="190.5" y2="772"/>
<line x1="198.5" y1="27" x2="198.5" y2="31.5"/>
<line x1="198.5" y1="767.5" x2="198.5" y2="772"/>
<line x1="205.5" y1="27" x2="205.5" y2="31.5"/>
<line x1="205.5" y1="767.5" x2="205.5" y2="772"/>
<line x1="212.5" y1="27" x2="212.5" y2="31.5"/>
<line x1="212.5" y1="767.5" x2="212.5" y2="772"/>
<line x1="219.5" y1="27" x2="219.5" y2="31.5"/>
<line x1="219.5" y1="767.5" x2="219.5" y2="772"/>
<line x1="227.5" y1="27" x2="227.5" y2="43.5"/>
<line x1="227.5" y1="755.5" x2="227.5" y2="772"/>
<line x1="234.5" y1="27" x2="234.5" y2="31.5"/>
<line x1="234.5" y1="767.5" x2="234.5" y2="772"/>
<line x1="241.5" y1="27" x2="241.5" y2="31.5"/>
<line x1="241.5" y1="767.5" x2="241.5" y2="772"/>
<line x1="248.5" y1="27" x2="248.5" y2="31.5"/>
<line x1="248.5" y1="767.5" x2="248.5" y2="772"/>
<line x1="256.5" y1="27" x2="256.5" y2="31.5"/>
<line x1="256.5" y1="767.5" x2="256.5" y2="772"/>
<line x1="263.5" y1="27" x2="263.5" y2="36"/>
<line x1="263.5" y1="763" x2="263.5" y2="772"/>
<line x1="270.5" y1="27" x2="270.5" y2="31.5"/>
<line x1="270.5" y1="767.5" x2="270.5" y2="772"/>
<line x1="278.5" y1="27" x2="278.5" y2="31.5"/>
<line x1="278.5" y1="767.5" x2="278.5" y2="772"/>
<line x1="285.5" y1="27" x2="285.5" y2="31.5"/>
<line x1="285.5" y1="767.5" x2="285.5" y2="772"/>
<line x1="292.5" y1="27" x2="292.5" y2="31.5"/>
<line x1="292.5" y1="767.5" x2="292.5" y2="772"/>
<line x1="299.5" y1="27" x2="299.5" y2="43.5"/>
<line x1="299.5" y1="755.5" x2="299.5" y2="772"/>
<line x1="307.5" y1="27" x2="307.5" y2="31.5"/>
<line x1="307.5" y1="767.5" x2="307.5" y2="772"/>
<line x1="314.5" y1="27" x2="314.5" y2="31.5"/>
<line x1="314.5" y1="767.5" x2="314.5" y2="772"/>
<line x1="321.5" y1="27" x2="321.5" y2="31.5"/>
<line x1="321.5" y1="767.5" x2="321.5" y2="772"/>
<line x1="328.5" y1="27" x2="328.5" y2="31.5"/>
<line x1="328.5" y1="767.5" x2="328.5" y2="772"/>
<line x1="336.5" y1="27" x2="336.5" y2="36"/>
<line x1="336.5" y1="763" x2="336.5" y2="772"/>
<line x1="343.5" y1="27" x2="343.5" y2="31.5"/>
<line x1="343.5" y1="767.5" x2="343.5" y2="772"/>
<line x1="350.5" y1="27" x2="350.5" y2="31.5"/>
<line x1="350.5" y1="767.5" x2="350.5" y2="772"/>
<line x1="358.5" y1="27" x2="358.5" y2="31.5"/>
<line x1="358.5" y1="767.5" x2="358.5" y2="772"/>
<line x1="365.5" y1="27" x2="365.5" y2="31.5"/>
<line x1="365.5" y1="767.5" x2="365.5" y2="772"/>
<line x1="372.5" y1="27" x2="372.5" y2="43.5"/>
<line x1="372.5" y1="755.5" x2="372.5" y2="772"/>
<line x1="379.5" y1="27" x2="379.5" y2="31.5"/>
<line x1="379.5" y1="767.5" x2="379.5" y2="772"/>
<line x1="387.5" y1="27" x2="387.5" y2="31.5"/>
<line x1="387.5" y1="767.5" x2="387.5" y2="772"/>
<line x1="394.5" y1="27" x2="394.5" y2="31.5"/>
<line x1="394.5" y1="767.5" x2="394.5" y2="772"/>
<line x1="401.5" y1="27" x2="401.5" y2="31.5"/>
<line x1="401.5" y1="767.5" x2="401.5" y2="772"/>
<line x1="408.5" y1="27" x2="408.5" y2="36"/>
<line x1="408.5" y1="763" x2="408.5" y2="772"/>
<line x1="416.5" y1="27" x2="416.5" y2="31.5"/>
<line x1="416.5" y1="767.5" x2="416.5" y2="772"/>
<line x1="423.5" y1="27" x2="423.5" y2="31.5"/>
<line x1="423.5" y1="767.5" x2="423.5" y2="772"/>
<line x1="430.5" y1="27" x2="430.5" y2="31.5"/>
<line x1="430.5" y1="767.5" x2="430.5" y2="772"/>
<line x1="438.5" y1="27" x2="438.5" y2="31.5"/>
<line x1="438.5" y1="767.5" x2="438.5" y2="772"/>
<line x1="445.5" y1="27" x2="445.5" y2="43.5"/>
<line x1="445.5" y1="755.5" x2="445.5" y2="772"/>
<line x1="452.5" y1="27" x2="452.5" y2="31.5"/>
<line x1="452.5" y1="767.5" x2="452.5" y2="772"/>
<line x1="459.5" y1="27" x2="459.5" y2="31.5"/>
<line x1="459.5" y1="767.5" x2="459.5" y2="772"/>
<line x1="467.5" y1="27" x2="467.5" y2="31.5"/>
<line x1="467.5" y1="767.5" x2="467.5" y2="772"/>
<line x1="474.5" y1="27" x2="474.5" y2="31.5"/>
<line x1="474.5" y1="767.5" x2="474.5" y2="772"/>
<line x1="481.5" y1="27" x2="481.5" y2="36"/>
<line x1="481.5" y1="763" x2="481.5" y2="772"/>
<line x1="488.5" y1="27" x2="488.5" y2="31.5"/>
<line x1="488.5" y1="767.5" x2="488.5" y2="772"/>
<line x1="496.5" y1="27" x2="496.5" y2="31.5"/>
<line x1="496.5" y1="767.5" x2="496.5" y2="772"/>
<line x1="503.5" y1="27" x2="503.5" y2="31.5"/>
<line x1="503.5" y1="767.5" x2="503.5" y2="772"/>
<line x1="510.5" y1="27" x2="510.5" y2="31.5"/>
<line x1="510.5" y1="767.5" x2="510.5" y2="772"/>
<line x1="518.5" y1="27" x2="518.5" y2="43.5"/>
<line x1="518.5" y1="755.5" x2="518.5" y2="772"/>
<line x1="525.5" y1="27" x2="525.5" y2="31.5"/>
<line x1="525.5" y1="767.5" x2="525.5" y2="772"/>
<line x1="532.5" y1="27" x2="532.5" y2="31.5"/>
<line x1="532.5" y1="767.5" x2="532.5" y2="772"/>
<line x1="539.5" y1="27" x2="539.5" y2="31.5"/>
<line x1="539.5" y1="767.5" x2="539.5" y2="772"/>
<line x1="547.5" y1="27" x2="547.5" y2="31.5"/>
<line x1="547.5" y1="767.5" x2="547.5" y2="772"/>
<line x1="554.5" y1="27" x2="554.5" y2="36"/>
<line x1="554.5" y1="763" x2="554.5" y2="772"/>
<line x1="561.5" y1="27" x2="561.5" y2="31.5"/>
<line x1="561.5" y1="767.5" x2="561.5" y2="772"/>
<line x1="568.5" y1="27" x2="568.5" y2="31.5"/>
<line x1="568.5" y1="767.5" x2="568.5" y2="772"/>
<line x1="576.5" y1="27" x2="576.5" y2="31.5"/>
<line x1="576.5" y1="767.5" x2="576.5" y2="772"/>
<line x1="583.5" y1="27" x2="583.5" y2="31.5"/>
<line x1="583.5" y1="767.5" x2="583.5" y2="772"/>
<line x1="590.5" y1="27" x2="590.5" y2="43.5"/>
<line x1="590.5" y1="755.5" x2="590.5" y2="772"/>
<line x1="598.5" y1="27" x2="598.5" y2="31.5"/>
<line x1="598.5" y1="767.5" x2="598.5" y2="772"/>
<line x1="605.5" y1="27" x2="605.5" y2="31.5"/>
<line x1="605.5" y1="767.5" x2="605.5" y2="772"/>
<line x1="612.5" y1="27" x2="612.5" y2="31.5"/>
<line x1="612.5" y1="767.5" x2="612.5" y2="772"/>
<line x1="619.5" y1="27" x2="619.5" y2="31.5"/>
<line x1="619.5" y1="767.5" x2="619.5" y2="772"/>
<line x1="627.5" y1="27" x2="627.5" y2="36"/>
<line x1="627.5" y1="763" x2="627.5" y2="772"/>
<line x1="634.5" y1="27" x2="634.5" y2="31.5"/>
<line x1="634.5" y1="767.5" x2="634.5" y2="772"/>
<line x1="641.5" y1="27" x2="641.5" y2="31.5"/>
<line x1="641.5" y1="767.5" x2="641.5" y2="772"/>
<line x1="648.5" y1="27" x2="648.5" y2="31.5"/>
<line x1="648.5" y1="767.5" x2="648.5" y2="772"/>
<line x1="656.5" y1="27" x2="656.5" y2="31.5"/>
<line x1="656.5" y1="767.5" x2="656.5" y2="772"/>
<line x1="663.5" y1="27" x2="663.5" y2="43.5"/>
<line x1="663.5" y1="755.5" x2="663.5" y2="772"/>
<line x1="670.5" y1="27" x2="670.5" y2="31.5"/>
<line x1="670.5" y1="767.5" x2="670.5" y2="772"/>
<line x1="678.5" y1="27" x2="678.5" y2="31.5"/>
<line x1="678.5" y1="767.5" x2="678.5" y2="772"/>
<line x1="685.5" y1="27" x2="685.5" y2="31.5"/>
<line x1="685.5" y1="767.5" x2="685.5" y2="772"/>
<line x1="692.5" y1="27" x2="692.5" y2="31.5"/>
<line x1="692.5" y1="767.5" x2="692.5" y2="772"/>
<line x1="699.5" y1="27" x2="699.5" y2="36"/>
<line x1="699.5" y1="763" x2="699.5" y2="772"/>
<line x1="707.5" y1="27" x2="707.5" y2="31.5"/>
<line x1="707.5" y1="767.5" x2="707.5" y2="772"/>
<line x1="714.5" y1="27" x2="714.5" y2="31.5"/>
<line x1="714.5" y1="767.5" x2="714.5" y2="772"/>
<line x1="721.5" y1="27" x2="721.5" y2="31.5"/>
<line x1="721.5" y1="767.5" x2="721.5" y2="772"/>
<line x1="728.5" y1="27" x2="728.5" y2="31.5"/>
<line x1="728.5" y1="767.5" x2="728.5" y2="772"/>
<line x1="736.5" y1="27" x2="736.5" y2="43.5"/>
<line x1="736.5" y1="755.5" x2="736.5" y2="772"/>
<line x1="743.5" y1="27" x2="743.5" y2="31.5"/>
<line x1="743.5" y1="767.5" x2="743.5" y2="772"/>
<line x1="750.5" y1="27" x2="750.5" y2="31.5"/>
<line x1="750.5" y1="767.5" x2="750.5" y2="772"/>
<line x1="758.5" y1="27" x2="758.5" y2="31.5"/>
<line x1="758.5" y1="767.5" x2="758.5" y2="772"/>
<line x1="765.5" y1="27" x2="765.5" y2="31.5"/>
<line x1="765.5" y1="767.5" x2="765.5" y2="772"/>
<line x1="772.5" y1="27" x2="772.5" y2="36"/>
<line x1="772.5" y1="763" x2="772.5" y2="772"/>
<line x1="779.5" y1="27" x2="779.5" y2="31.5"/>
<line x1="779.5" y1="767.5" x2="779.5" y2="772"/>
<line x1="787.5" y1="27" x2="787.5" y2="31.5"/>
<line x1="787.5" y1="767.5" x2="787.5" y2="772"/>
<line x1="794.5" y1="27" x2="794.5" y2="31.5"/>
<line x1="794.5" y1="767.5" x2="794.5" y2="772"/>
<line x1="0" y1="29.5" x2="4.5" y2="29.5"/>
<line x1="795.5" y1="29.5" x2="800" y2="29.5"/>
<line x1="0" y1="36.5" x2="16.5" y2="36.5"/>
<line x1="783.5" y1="36.5" x2="800" y2="36.5"/>
<line x1="0" y1="43.5" x2="4.5" y2="43.5"/>
<line x1="795.5" y1="43.5" x2="800" y2="43.5"/>
<line x1="0" y1="50.5" x2="4.5" y2="50.5"/>
<line x1="795.5" y1="50.5" x2="800" y2="50.5"/>
<line x1="0" y1="58.5" x2="4.5" y2="58.5"/>
<line x1="795.5" y1="58.5" x2="800" y2="58.5"/>
<line x1="0" y1="65.5" x2="4.5" y2="65.5"/>
<line x1="795.5" y1="65.5" x2="800" y2="65.5"/>
<line x1="0" y1="72.5" x2="9" y2="72.5"/>
<line x1="791" y1="72.5" x2="800" y2="72.5"/>
<line x1="0" y1="80.5" x2="4.5" y2="80.5"/>
<line x1="795.5" y1="80.5" x2="800" y2="80.5"/>
<line x1="0" y1="87.5" x2="4.5" y2="87.5"/>
<line x1="795.5" y1="87.5" x2="800" y2="87.5"/>
<line x1="0" y1="94.5" x2="4.5" y2="94.5"/>
<line x1="795.5" y1="94.5" x2="800" y2="94.5"/>
<line x1="0" y1="101.5" x2="4.5" y2="101.5"/>
<line x1="795.5" y1="101.5" x2="800" y2="101.5"/>
<line x1="0" y1="109.5" x2="16.5" y2="109.5"/>
<line x1="783.5" y1="109.5" x2="800" y2="109.5"/>
<line x1="0" y1="116.5" x2="4.5" y2="116.5"/>
<line x1="795.5" y1="116.5" x2="800" y2="116.5"/>
<line x1="0" y1="123.5" x2="4.5" y2="123.5"/>
<line x1="795.5" y1="123.5" x2="800" y2="123.5"/>
<line x1="0" y1="130.5" x2="4.5" y2="130.5"/>
<line x1="795.5" y1="130.5" x2="800" y2="130.5"/>
<line x1="0" y1="138.5" x2="4.5" y2="138.5"/>
<line x1="795.5" y1="138.5" x2="800" y2="138.5"/>
<line x1="0" y1="145.5" x2="9" y2="145.5"/>
<line x1="791" y1="145.5" x2="800" y2="145.5"/>
<line x1="0" y1="152.5" x2="4.5" y2="152.5"/>
<line x1="795.5" y1="152.5" x2="800" y2="152.5"/>
<line x1="0" y1="160.5" x2="4.5" y2="160.5"/>
<line x1="795.5" y1="160.5" x2="800" y2="160.5"/>
<line x1="0" y1="167.5" x2="4.5" y2="167.5"/>
<line x1="795.5" y1="167.5" x2="800" y2="167.5"/>
<line x1="0" y1="174.5" x2="4.5" y2="174.5"/>
<line x1="795.5" y1="174.5" x2="800" y2="174.5"/>
<line x1="0" y1="181.5" x2="16.5" y2="181.5"/>
<line x1="783.5" y1="181.5" x2="800" y2="181.5"/>
<line x1="0" y1="189.5" x2="4.5" y2="189.5"/>
<line x1="795.5" y1="189.5" x2="800" y2="189.5"/>
<line x1="0" y1="196.5" x2="4.5" y2="196.5"/>
<line x1="795.5" y1="196.5" x2="800" y2="196.5"/>
<line x1="0" y1="203.5" x2="4.5" y2="203.5"/>
<line x1="795.5" y1="203.5" x2="800" y2="203.5"/>
<line x1="0" y1="210.5" x2="4.5" y2="210.5"/>
<line x1="795.5" y1="210.5" x2="800" y2="210.5"/>
<line x1="0" y1="218.5" x2="9" y2="218.5"/>
<line x1="791" y1="218.5" x2="800" y2="218.5"/>
<line x1="0" y1="225.5" x2="4.5" y2="225.5"/>
<line x1="795.5" y1="225.5" x2="800" y2="225.5"/>
<line x1="0" y1="232.5" x2="4.5" y2="232.5"/>
<line x1="795.5" y1="232.5" x2="800" y2="232.5"/>
<line x1="0" y1="240.5" x2="4.5" y2="240.5"/>
<line x1="795.5" y1="240.5" x2="800" y2="240.5"/>
<line x1="0" y1="247.5" x2="4.5" y2="247.5"/>
<line x1="795.5" y1="247.5" x2="800" y2="247.5"/>
<line x1="0" y1="254.5" x2="16.5" y2="254.5"/>
<line x1="783.5" y1="254.5" x2="800" y2="254.5"/>
<line x1="0" y1="261.5" x2="4.5" y2="261.5"/>
<line x1="795.5" y1="261.5" x2="800" y2="261.5"/>
<line x1="0" y1="269.5" x2="4.5" y2="269.5"/>
<line x1="795.5" y1="269.5" x2="800" y2="269.5"/>
<line x1="0" y1="276.5" x2="4.5" y2="276.5"/>
<line x1="795.5" y1="276.5" x2="800" y2="276.5"/>
<line x1="0" y1="283.5" x2="4.5" y2="283.5"/>
<line x1="795.5" y1="283.5" x2="800" y2="283.5"/>
<line x1="0" y1="290.5" x2="9" y2="290.5"/>
<line x1="791" y1="290.5" x2="800" y2="290.5"/>
<line x1="0" y1="298.5" x2="4.5" y2="298.5"/>
<line x1="795.5" y1="298.5" x2="800" y2="298.5"/>
<line x1="0" y1="305.5" x2="4.5" y2="305.5"/>
<line x1="795.5" y1="305.5" x2="800" y2="305.5"/>
<line x1="0" y1="312.5" x2="4.5" y2="312.5"/>
<line x1="795.5" y1="312.5" x2="800" y2="312.5"/>
<line x1="0" y1="320.5" x2="4.5" y2="320.5"/>
<line x1="795.5" y1="320.5" x2="800" y2="320.5"/>
<line x1="0" y1="327.5" x2="16.5" y2="327.5"/>
<line x1="783.5" y1="327.5" x2="800" y2="327.5"/>
<line x1="0" y1="334.5" x2="4.5" y2="334.5"/>
<line x1="795.5" y1="334.5" x2="800" y2="334.5"/>
<line x1="0" y1="341.5" x2="4.5" y2="341.5"/>
<line x1="795.5" y1="341.5" x2="800" y2="341.5"/>
<line x1="0" y1="349.5" x2="4.5" y2="349.5"/>
<line x1="795.5" y1="349.5" x2="800" y2="349.5"/>
<line x1="0" y1="356.5" x2="4.5" y2="356.5"/>
<line x1="795.5" y1="356.5" x2="800" y2="356.5"/>
<line x1="0" y1="363.5" x2="9" y2="363.5"/>
<line x1="791" y1="363.5" x2="800" y2="363.5"/>
<line x1="0" y1="370.5" x2="4.5" y2="370.5"/>
<line x1="795.5" y1="370.5" x2="800" y2="370.5"/>
<line x1="0" y1="378.5" x2="4.5" y2="378.5"/>
<line x1="795.5" y1="378.5" x2="800" y2="378.5"/>
<line x1="0" y1="385.5" x2="4.5" y2="385.5"/>
<line x1="795.5" y1="385.5" x2="800" y2="385.5"/>
<line x1="0" y1="392.5" x2="4.5" y2="392.5"/>
<line x1="795.5" y1="392.5" x2="800" y2="392.5"/>
<line x1="0" y1="400.5" x2="16.5" y2="400.5"/>
<line x1="783.5" y1="400.5" x2="800" y2="400.5"/>
<line x1="0" y1="407.5" x2="4.5" y2="407.5"/>
<line x1="795.5" y1="407.5" x2="800" y2="407.5"/>
<line x1="0" y1="414.5" x2="4.5" y2="414.5"/>
<line x1="795.5" y1="414.5" x2="800" y2="414.5"/>
<line x1="0" y1="421.5" x2="4.5" y2="421.5"/>
<line x1="795.5" y1="421.5" x2="800" y2="421.5"/>
<line x1="0" y1="429.5" x2="4.5" y2="429.5"/>
<line x1="795.5" y1="429.5" x2="800" y2="429.5"/>
<line x1="0" y1="436.5" x2="9" y2="436.5"/>
<line x1="791" y1="436.5" x2="800" y2="436.5"/>
<line x1="0" y1="443.5" x2="4.5" y2="443.5"/>
<line x1="795.5" y1="443.5" x2="800" y2="443.5"/>
<line x1="0" y1="450.5" x2="4.5" y2="450.5"/>
<line x1="795.5" y1="450.5" x2="800" y2="450.5"/>
<line x1="0" y1="458.5" x2="4.5" y2="458.5"/>
<line x1="795.5" y1="458.5" x2="800" y2="458.5"/>
<line x1="0" y1="465.5" x2="4.5" y2="465.5"/>
<line x1="795.5" y1="465.5" x2="800" y2="465.5"/>
<line x1="0" y1="472.5" x2="16.5" y2="472.5"/>
<line x1="783.5" y1="472.5" x2="800" y2="472.5"/>
<line x1="0" y1="480.5" x2="4.5" y2="480.5"/>
<line x1="795.5" y1="480.5" x2="800" y2="480.5"/>
<line x1="0" y1="487.5" x2="4.5" y2="487.5"/>
<line x1="795.5" y1="487.5" x2="800" y2="487.5"/>
<line x1="0" y1="494.5" x2="4.5" y2="494.5"/>
<line x1="795.5" y1="494.5" x2="800" y2="494.5"/>
<line x1="0" y1="501.5" x2="4.5" y2="501.5"/>
<line x1="795.5" y1="501.5" x2="800" y2="501.5"/>
<line x1="0" y1="509.5" x2="9" y2="509.5"/>
<line x1="791" y1="509.5" x2="800" y2="509.5"/>
<line x1="0" y1="516.5" x2="4.5" y2="516.5"/>
<line x1="795.5" y1="516.5" x2="800" y2="516.5"/>
<line x1="0" y1="523.5" x2="4.5" y2="523.5"/>
<line x1="795.5" y1="523.5" x2="800" y2="523.5"/>
<line x1="0" y1="530.5" x2="4.5" y2="530.5"/>
<line x1="795.5" y1="530.5" x2="800" y2="530.5"/>
<line x1="0" y1="538.5" x2="4.5" y2="538.5"/>
<line x1="795.5" y1="538.5" x2="800" y2="538.5"/>
<line x1="0" y1="545.5" x2="16.5" y2="545.5"/>
<line x1="783.5" y1="545.5" x2="800" y2="545.5"/>
<line x1="0" y1="552.5" x2="4.5" y2="552.5"/>
<line x1="795.5" y1="552.5" x2="800" y2="552.5"/>
<line x1="0" y1="560.5" x2="4.5" y2="560.5"/>
<line x1="795.5" y1="560.5" x2="800" y2="560.5"/>
<line x1="0" y1="567.5" x2="4.5" y2="567.5"/>
<line x1="795.5" y1="567.5" x2="800" y2="567.5"/>
<line x1="0" y1="574.5" x2="4.5" y2="574.5"/>
<line x1="795.5" y1="574.5" x2="800" y2="574.5"/>
<line x1="0" y1="581.5" x2="9" y2="581.5"/>
<line x1="791" y1="581.5" x2="800" y2="581.5"/>
<line x1="0" y1="589.5" x2="4.5" y2="589.5"/>
<line x1="795.5" y1="589.5" x2="800" y2="589.5"/>
<line x1="0" y1="596.5" x2="4.5" y2="596.5"/>
<line x1="795.5" y1="596.5" x2="800" y2="596.5"/>
<line x1="0" y1="603.5" x2="4.5" y2="603.5"/>
<line x1="795.5" y1="603.5" x2="800" y2="603.5"/>
<line x1="0" y1="610.5" x2="4.5" y2="610.5"/>
<line x1="795.5" y1="610.5" x2="800" y2="610.5"/>
<line x1="0" y1="618.5" x2="16.5" y2="618.5"/>
<line x1="783.5" y1="618.5" x2="800" y2="618.5"/>
<line x1="0" y1="625.5" x2="4.5" y2="625.5"/>
<line x1="795.5" y1="625.5" x2="800" y2="625.5"/>
<line x1="0" y1="632.5" x2="4.5" y2="632.5"/>
<line x1="795.5" y1="632.5" x2="800" y2="632.5"/>
<line x1="0" y1="640.5" x2="4.5" y2="640.5"/>
<line x1="795.5" y1="640.5" x2="800" y2="640.5"/>
<line x1="0" y1="647.5" x2="4.5" y2="647.5"/>
<line x1="795.5" y1="647.5" x2="800" y2="647.5"/>
<line x1="0" y1="654.5" x2="9" y2="654.5"/>
<line x1="791" y1="654.5" x2="800" y2="654.5"/>
<line x1="0" y1="661.5" x2="4.5" y2="661.5"/>
<line x1="795.5" y1="661.5" x2="800" y2="661.5"/>
<line x1="0" y1="669.5" x2="4.5" y2="669.5"/>
<line x1="795.5" y1="669.5" x2="800" y2="669.5"/>
<line x1="0" y1="676.5" x2="4.5" y2="676.5"/>
<line x1="795.5" y1="676.5" x2="800" y2="676.5"/>
<line x1="0" y1="683.5" x2="4.5" y2="683.5"/>
<line x1="795.5" y1="683.5" x2="800" y2="683.5"/>
<line x1="0" y1="690.5" x2="16.5" y2="690.5"/>
<line x1="783.5" y1="690.5" x2="800" y2="690.5"/>
<line x1="0" y1="698.5" x2="4.5" y2="698.5"/>
<line x1="795.5" y1="698.5" x2="800" y2="698.5"/>
<line x1="0" y1="705.5" x2="4.5" y2="705.5"/>
<line x1="795.5" y1="705.5" x2="800" y2="705.5"/>
<line x1="0" y1="712.5" x2="4.5" y2="712.5"/>
<line x1="795.5" y1="712.5" x2="800" y2="712.5"/>
<line x1="0" y1="720.5" x2="4.5" y2="720.5"/>
<line x1="795.5" y1="720.5" x2="800" y2="720.5"/>
<line x1="0" y1="727.5" x2="9" y2="727.5"/>
<line x1="791" y1="727.5" x2="800" y2="727.5"/>
<line x1="0" y1="734.5" x2="4.5" y2="734.5"/>
<line x1="795.5" y1="734.5" x2="800" y2="734.5"/>
<line x1="0" y1="741.5" x2="4.5" y2="741.5"/>
<line x1="795.5" y1="741.5" x2="800" y2="741.5"/>
<line x1="0" y1="749.5" x2="4.5" y2="749.5"/>
<line x1="795.5" y1="749.5" x2="800" y2="749.5"/>
<line x1="0" y1="756.5" x2="4.5" y2="756.5"/>
<line x1="795.5" y1="756.5" x2="800" y2="756.5"/>
<line x1="0" y1="763.5" x2="16.5" y2="763.5"/>
<line x1="783.5" y1="763.5" x2="800" y2="763.5"/>
<line x1="0" y1="770.5" x2="4.5" y2="770.5"/>
<line x1="795.5" y1="770.5" x2="800" y2="770.5"/>
</g>
<g font-family="'DejaVu Sans Light','DejaVu Sans','Liberation Sans',sans-serif" font-weight="200" font-size="12.5" fill="#808080" stroke="#808080" stroke-width="0.35" clip-path="url(#pc)">
<text x="771" y="32.8" textLength="21" lengthAdjust="spacingAndGlyphs">31S</text>
<text x="771" y="105.5" textLength="21" lengthAdjust="spacingAndGlyphs">32S</text>
<text x="771" y="178.3" textLength="21" lengthAdjust="spacingAndGlyphs">33S</text>
<text x="771" y="251.0" textLength="21" lengthAdjust="spacingAndGlyphs">34S</text>
<text x="771" y="323.7" textLength="21" lengthAdjust="spacingAndGlyphs">35S</text>
<text x="771" y="396.4" textLength="21" lengthAdjust="spacingAndGlyphs">36S</text>
<text x="771" y="469.2" textLength="21" lengthAdjust="spacingAndGlyphs">37S</text>
<text x="771" y="541.9" textLength="21" lengthAdjust="spacingAndGlyphs">38S</text>
<text x="771" y="614.6" textLength="21" lengthAdjust="spacingAndGlyphs">39S</text>
<text x="771" y="687.3" textLength="21" lengthAdjust="spacingAndGlyphs">40S</text>
<text x="771" y="760.1" textLength="21" lengthAdjust="spacingAndGlyphs">41S</text>
<text font-size="11.8" transform="translate(13.2,744) rotate(90)" textLength="20.3" lengthAdjust="spacingAndGlyphs">61W</text>
<text font-size="11.8" transform="translate(85.9,744) rotate(90)" textLength="20.3" lengthAdjust="spacingAndGlyphs">60W</text>
<text font-size="11.8" transform="translate(158.7,744) rotate(90)" textLength="20.3" lengthAdjust="spacingAndGlyphs">59W</text>
<text font-size="11.8" transform="translate(231.4,744) rotate(90)" textLength="20.3" lengthAdjust="spacingAndGlyphs">58W</text>
<text font-size="11.8" transform="translate(304.1,744) rotate(90)" textLength="20.3" lengthAdjust="spacingAndGlyphs">57W</text>
<text font-size="11.8" transform="translate(376.8,744) rotate(90)" textLength="20.3" lengthAdjust="spacingAndGlyphs">56W</text>
<text font-size="11.8" transform="translate(449.6,744) rotate(90)" textLength="20.3" lengthAdjust="spacingAndGlyphs">55W</text>
<text font-size="11.8" transform="translate(522.3,744) rotate(90)" textLength="20.3" lengthAdjust="spacingAndGlyphs">54W</text>
<text font-size="11.8" transform="translate(595.0,744) rotate(90)" textLength="20.3" lengthAdjust="spacingAndGlyphs">53W</text>
<text font-size="11.8" transform="translate(667.7,744) rotate(90)" textLength="20.3" lengthAdjust="spacingAndGlyphs">52W</text>
<text font-size="11.8" transform="translate(740.5,744) rotate(90)" textLength="20.3" lengthAdjust="spacingAndGlyphs">51W</text>
</g>
<defs><linearGradient id="cb" x1="0" y1="1" x2="0" y2="0">
<stop offset="0.0" stop-color="rgb(0,0,255)"/>
<stop offset="0.263" stop-color="rgb(0,255,255)"/>
<stop offset="0.4" stop-color="rgb(0,242,0)"/>
<stop offset="0.536" stop-color="rgb(255,255,0)"/>
<stop offset="0.841" stop-color="rgb(255,0,0)"/>
<stop offset="1.0" stop-color="rgb(192,0,128)"/>
</linearGradient></defs>
<g shape-rendering="crispEdges">
<rect x="32.5" y="160.5" width="48" height="608" fill="#fff" stroke="#000"/>
<rect x="34" y="162" width="45" height="605" fill="url(#cb)"/>
</g>
<g font-family="'DejaVu Sans Light','DejaVu Sans','Liberation Sans',sans-serif" font-weight="200" font-size="14.5" fill="#000" stroke="#000" stroke-width="0.35">
<text x="86.5" y="772.8">0</text>
<text x="86.5" y="620.7">8</text>
<text x="86.5" y="468.6">15</text>
<text x="86.5" y="316.5">22</text>
<text x="86.5" y="164.4">30</text>
<text x="34" y="149" font-size="16" textLength="43.5" lengthAdjust="spacing">[m/s]</text>
</g>
<g font-family="'DejaVu Sans','Liberation Sans',sans-serif" font-weight="bold" font-size="25" fill="#808080">
<text x="4.5" y="50" letter-spacing="0.2">modelo GEFS-WAVE (NCEP)</text>
<text x="5.5" y="72" letter-spacing="-0.16">forecast date: 2026-01-26 06:00:00</text>
<text x="41.3" y="94.5" letter-spacing="-0.08">valid date: 2026-01-31 09:00:00</text>
</g>
</svg>
</body></html>
